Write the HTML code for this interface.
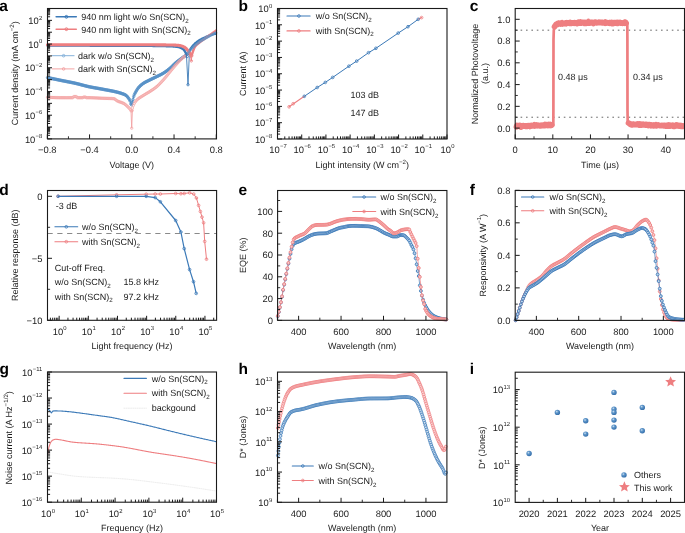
<!DOCTYPE html><html><head><meta charset="utf-8"><style>html,body{margin:0;padding:0;background:#fff;}svg{display:block;will-change:transform;text-rendering:geometricPrecision;font-family:"Liberation Sans",sans-serif;}</style></head><body><svg width="685" height="533" viewBox="0 0 685 533"><rect width="685" height="533" fill="#fff"/><text x="-0.80" y="11.00" font-size="15.5" text-anchor="start" font-weight="bold" fill="#000" >a</text>
<polyline points="47.60,77.62 48.30,77.77 49.00,77.92 49.70,78.06 50.40,78.21 51.10,78.36 51.80,78.50 52.50,78.65 53.20,78.79 53.90,78.94 54.60,79.09 55.30,79.23 56.00,79.37 56.70,79.52 57.40,79.66 58.10,79.81 58.80,79.95 59.50,80.09 60.20,80.24 60.90,80.38 61.60,80.52 62.30,80.66 63.00,80.80 63.70,80.94 64.40,81.07 65.10,81.21 65.80,81.34 66.50,81.48 67.20,81.61 67.90,81.75 68.60,81.88 69.30,82.02 70.00,82.16 70.70,82.30 71.40,82.44 72.10,82.58 72.80,82.73 73.50,82.87 74.20,83.02 74.90,83.18 75.60,83.34 76.30,83.50 77.00,83.67 77.70,83.84 78.40,84.02 79.10,84.20 79.80,84.38 80.50,84.57 81.20,84.75 81.90,84.94 82.60,85.13 83.30,85.31 84.00,85.49 84.70,85.68 85.40,85.85 86.10,86.03 86.80,86.20 87.50,86.37 88.20,86.53 88.90,86.68 89.60,86.83 90.30,86.97 91.00,87.11 91.70,87.25 92.40,87.38 93.10,87.51 93.80,87.64 94.50,87.77 95.20,87.89 95.90,88.02 96.60,88.14 97.30,88.27 98.00,88.39 98.70,88.51 99.40,88.64 100.10,88.76 100.80,88.89 101.50,89.02 102.20,89.15 102.90,89.28 103.60,89.41 104.30,89.55 105.00,89.68 105.70,89.81 106.40,89.94 107.10,90.06 107.80,90.19 108.50,90.32 109.20,90.45 109.90,90.58 110.60,90.72 111.30,90.85 112.00,90.99 112.70,91.13 113.40,91.28 114.10,91.43 114.80,91.58 115.50,91.74 116.20,91.91 116.90,92.08 117.60,92.25 118.30,92.44 119.00,92.64 119.70,92.84 120.40,93.06 121.10,93.29 121.80,93.53 122.50,93.77 123.20,94.01 123.90,94.27 124.60,94.56 125.30,94.91 126.00,95.34 126.70,95.96 127.40,96.76 128.10,97.63 128.80,98.55 129.50,99.64 130.20,101.16 130.90,103.96 131.60,104.80 132.30,102.28 133.00,99.46 133.70,96.48 134.40,94.50 135.10,93.08 135.80,91.85 136.50,90.62 137.20,89.44 137.90,88.43 138.60,87.59 139.30,86.81 140.00,86.09 140.70,85.43 141.40,84.82 142.10,84.26 142.80,83.74 143.50,83.26 144.20,82.82 144.90,82.42 145.60,82.03 146.30,81.67 147.00,81.32 147.70,80.98 148.40,80.64 149.10,80.30 149.80,79.95 150.50,79.60 151.20,79.25 151.90,78.91 152.60,78.58 153.30,78.25 154.00,77.91 154.70,77.58 155.40,77.24 156.10,76.90 156.80,76.55 157.50,76.22 158.20,75.88 158.90,75.54 159.60,75.20 160.30,74.86 161.00,74.50 161.70,74.12 162.40,73.73 163.10,73.32 163.80,72.89 164.50,72.43 165.20,71.96 165.90,71.47 166.60,70.97 167.30,70.45 168.00,69.91 168.70,69.36 169.40,68.80 170.10,68.21 170.80,67.57 171.50,66.91 172.20,66.22 172.90,65.52 173.60,64.83 174.30,64.14 175.00,63.48 175.70,62.86 176.40,62.27 177.10,61.71 177.80,61.16 178.50,60.63 179.20,60.11 179.90,59.59 180.60,59.08 181.30,58.58 182.00,58.07 182.70,57.55 183.40,57.06 184.10,56.57 184.80,56.09 185.50,55.58 186.20,55.04 186.90,54.45 187.60,53.79" fill="none" stroke="#5790c7" stroke-width="1.2" stroke-linejoin="round" stroke-linecap="round" />
<circle cx="47.60" cy="77.62" r="1.25" fill="none" stroke="#5790c7" stroke-width="0.8" />
<circle cx="48.30" cy="77.77" r="1.25" fill="none" stroke="#5790c7" stroke-width="0.8" />
<circle cx="49.00" cy="77.92" r="1.25" fill="none" stroke="#5790c7" stroke-width="0.8" />
<circle cx="49.70" cy="78.06" r="1.25" fill="none" stroke="#5790c7" stroke-width="0.8" />
<circle cx="50.40" cy="78.21" r="1.25" fill="none" stroke="#5790c7" stroke-width="0.8" />
<circle cx="51.10" cy="78.36" r="1.25" fill="none" stroke="#5790c7" stroke-width="0.8" />
<circle cx="51.80" cy="78.50" r="1.25" fill="none" stroke="#5790c7" stroke-width="0.8" />
<circle cx="52.50" cy="78.65" r="1.25" fill="none" stroke="#5790c7" stroke-width="0.8" />
<circle cx="53.20" cy="78.79" r="1.25" fill="none" stroke="#5790c7" stroke-width="0.8" />
<circle cx="53.90" cy="78.94" r="1.25" fill="none" stroke="#5790c7" stroke-width="0.8" />
<circle cx="54.60" cy="79.09" r="1.25" fill="none" stroke="#5790c7" stroke-width="0.8" />
<circle cx="55.30" cy="79.23" r="1.25" fill="none" stroke="#5790c7" stroke-width="0.8" />
<circle cx="56.00" cy="79.37" r="1.25" fill="none" stroke="#5790c7" stroke-width="0.8" />
<circle cx="56.70" cy="79.52" r="1.25" fill="none" stroke="#5790c7" stroke-width="0.8" />
<circle cx="57.40" cy="79.66" r="1.25" fill="none" stroke="#5790c7" stroke-width="0.8" />
<circle cx="58.10" cy="79.81" r="1.25" fill="none" stroke="#5790c7" stroke-width="0.8" />
<circle cx="58.80" cy="79.95" r="1.25" fill="none" stroke="#5790c7" stroke-width="0.8" />
<circle cx="59.50" cy="80.09" r="1.25" fill="none" stroke="#5790c7" stroke-width="0.8" />
<circle cx="60.20" cy="80.24" r="1.25" fill="none" stroke="#5790c7" stroke-width="0.8" />
<circle cx="60.90" cy="80.38" r="1.25" fill="none" stroke="#5790c7" stroke-width="0.8" />
<circle cx="61.60" cy="80.52" r="1.25" fill="none" stroke="#5790c7" stroke-width="0.8" />
<circle cx="62.30" cy="80.66" r="1.25" fill="none" stroke="#5790c7" stroke-width="0.8" />
<circle cx="63.00" cy="80.80" r="1.25" fill="none" stroke="#5790c7" stroke-width="0.8" />
<circle cx="63.70" cy="80.94" r="1.25" fill="none" stroke="#5790c7" stroke-width="0.8" />
<circle cx="64.40" cy="81.07" r="1.25" fill="none" stroke="#5790c7" stroke-width="0.8" />
<circle cx="65.10" cy="81.21" r="1.25" fill="none" stroke="#5790c7" stroke-width="0.8" />
<circle cx="65.80" cy="81.34" r="1.25" fill="none" stroke="#5790c7" stroke-width="0.8" />
<circle cx="66.50" cy="81.48" r="1.25" fill="none" stroke="#5790c7" stroke-width="0.8" />
<circle cx="67.20" cy="81.61" r="1.25" fill="none" stroke="#5790c7" stroke-width="0.8" />
<circle cx="67.90" cy="81.75" r="1.25" fill="none" stroke="#5790c7" stroke-width="0.8" />
<circle cx="68.60" cy="81.88" r="1.25" fill="none" stroke="#5790c7" stroke-width="0.8" />
<circle cx="69.30" cy="82.02" r="1.25" fill="none" stroke="#5790c7" stroke-width="0.8" />
<circle cx="70.00" cy="82.16" r="1.25" fill="none" stroke="#5790c7" stroke-width="0.8" />
<circle cx="70.70" cy="82.30" r="1.25" fill="none" stroke="#5790c7" stroke-width="0.8" />
<circle cx="71.40" cy="82.44" r="1.25" fill="none" stroke="#5790c7" stroke-width="0.8" />
<circle cx="72.10" cy="82.58" r="1.25" fill="none" stroke="#5790c7" stroke-width="0.8" />
<circle cx="72.80" cy="82.73" r="1.25" fill="none" stroke="#5790c7" stroke-width="0.8" />
<circle cx="73.50" cy="82.87" r="1.25" fill="none" stroke="#5790c7" stroke-width="0.8" />
<circle cx="74.20" cy="83.02" r="1.25" fill="none" stroke="#5790c7" stroke-width="0.8" />
<circle cx="74.90" cy="83.18" r="1.25" fill="none" stroke="#5790c7" stroke-width="0.8" />
<circle cx="75.60" cy="83.34" r="1.25" fill="none" stroke="#5790c7" stroke-width="0.8" />
<circle cx="76.30" cy="83.50" r="1.25" fill="none" stroke="#5790c7" stroke-width="0.8" />
<circle cx="77.00" cy="83.67" r="1.25" fill="none" stroke="#5790c7" stroke-width="0.8" />
<circle cx="77.70" cy="83.84" r="1.25" fill="none" stroke="#5790c7" stroke-width="0.8" />
<circle cx="78.40" cy="84.02" r="1.25" fill="none" stroke="#5790c7" stroke-width="0.8" />
<circle cx="79.10" cy="84.20" r="1.25" fill="none" stroke="#5790c7" stroke-width="0.8" />
<circle cx="79.80" cy="84.38" r="1.25" fill="none" stroke="#5790c7" stroke-width="0.8" />
<circle cx="80.50" cy="84.57" r="1.25" fill="none" stroke="#5790c7" stroke-width="0.8" />
<circle cx="81.20" cy="84.75" r="1.25" fill="none" stroke="#5790c7" stroke-width="0.8" />
<circle cx="81.90" cy="84.94" r="1.25" fill="none" stroke="#5790c7" stroke-width="0.8" />
<circle cx="82.60" cy="85.13" r="1.25" fill="none" stroke="#5790c7" stroke-width="0.8" />
<circle cx="83.30" cy="85.31" r="1.25" fill="none" stroke="#5790c7" stroke-width="0.8" />
<circle cx="84.00" cy="85.49" r="1.25" fill="none" stroke="#5790c7" stroke-width="0.8" />
<circle cx="84.70" cy="85.68" r="1.25" fill="none" stroke="#5790c7" stroke-width="0.8" />
<circle cx="85.40" cy="85.85" r="1.25" fill="none" stroke="#5790c7" stroke-width="0.8" />
<circle cx="86.10" cy="86.03" r="1.25" fill="none" stroke="#5790c7" stroke-width="0.8" />
<circle cx="86.80" cy="86.20" r="1.25" fill="none" stroke="#5790c7" stroke-width="0.8" />
<circle cx="87.50" cy="86.37" r="1.25" fill="none" stroke="#5790c7" stroke-width="0.8" />
<circle cx="88.20" cy="86.53" r="1.25" fill="none" stroke="#5790c7" stroke-width="0.8" />
<circle cx="88.90" cy="86.68" r="1.25" fill="none" stroke="#5790c7" stroke-width="0.8" />
<circle cx="89.60" cy="86.83" r="1.25" fill="none" stroke="#5790c7" stroke-width="0.8" />
<circle cx="90.30" cy="86.97" r="1.25" fill="none" stroke="#5790c7" stroke-width="0.8" />
<circle cx="91.00" cy="87.11" r="1.25" fill="none" stroke="#5790c7" stroke-width="0.8" />
<circle cx="91.70" cy="87.25" r="1.25" fill="none" stroke="#5790c7" stroke-width="0.8" />
<circle cx="92.40" cy="87.38" r="1.25" fill="none" stroke="#5790c7" stroke-width="0.8" />
<circle cx="93.10" cy="87.51" r="1.25" fill="none" stroke="#5790c7" stroke-width="0.8" />
<circle cx="93.80" cy="87.64" r="1.25" fill="none" stroke="#5790c7" stroke-width="0.8" />
<circle cx="94.50" cy="87.77" r="1.25" fill="none" stroke="#5790c7" stroke-width="0.8" />
<circle cx="95.20" cy="87.89" r="1.25" fill="none" stroke="#5790c7" stroke-width="0.8" />
<circle cx="95.90" cy="88.02" r="1.25" fill="none" stroke="#5790c7" stroke-width="0.8" />
<circle cx="96.60" cy="88.14" r="1.25" fill="none" stroke="#5790c7" stroke-width="0.8" />
<circle cx="97.30" cy="88.27" r="1.25" fill="none" stroke="#5790c7" stroke-width="0.8" />
<circle cx="98.00" cy="88.39" r="1.25" fill="none" stroke="#5790c7" stroke-width="0.8" />
<circle cx="98.70" cy="88.51" r="1.25" fill="none" stroke="#5790c7" stroke-width="0.8" />
<circle cx="99.40" cy="88.64" r="1.25" fill="none" stroke="#5790c7" stroke-width="0.8" />
<circle cx="100.10" cy="88.76" r="1.25" fill="none" stroke="#5790c7" stroke-width="0.8" />
<circle cx="100.80" cy="88.89" r="1.25" fill="none" stroke="#5790c7" stroke-width="0.8" />
<circle cx="101.50" cy="89.02" r="1.25" fill="none" stroke="#5790c7" stroke-width="0.8" />
<circle cx="102.20" cy="89.15" r="1.25" fill="none" stroke="#5790c7" stroke-width="0.8" />
<circle cx="102.90" cy="89.28" r="1.25" fill="none" stroke="#5790c7" stroke-width="0.8" />
<circle cx="103.60" cy="89.41" r="1.25" fill="none" stroke="#5790c7" stroke-width="0.8" />
<circle cx="104.30" cy="89.55" r="1.25" fill="none" stroke="#5790c7" stroke-width="0.8" />
<circle cx="105.00" cy="89.68" r="1.25" fill="none" stroke="#5790c7" stroke-width="0.8" />
<circle cx="105.70" cy="89.81" r="1.25" fill="none" stroke="#5790c7" stroke-width="0.8" />
<circle cx="106.40" cy="89.94" r="1.25" fill="none" stroke="#5790c7" stroke-width="0.8" />
<circle cx="107.10" cy="90.06" r="1.25" fill="none" stroke="#5790c7" stroke-width="0.8" />
<circle cx="107.80" cy="90.19" r="1.25" fill="none" stroke="#5790c7" stroke-width="0.8" />
<circle cx="108.50" cy="90.32" r="1.25" fill="none" stroke="#5790c7" stroke-width="0.8" />
<circle cx="109.20" cy="90.45" r="1.25" fill="none" stroke="#5790c7" stroke-width="0.8" />
<circle cx="109.90" cy="90.58" r="1.25" fill="none" stroke="#5790c7" stroke-width="0.8" />
<circle cx="110.60" cy="90.72" r="1.25" fill="none" stroke="#5790c7" stroke-width="0.8" />
<circle cx="111.30" cy="90.85" r="1.25" fill="none" stroke="#5790c7" stroke-width="0.8" />
<circle cx="112.00" cy="90.99" r="1.25" fill="none" stroke="#5790c7" stroke-width="0.8" />
<circle cx="112.70" cy="91.13" r="1.25" fill="none" stroke="#5790c7" stroke-width="0.8" />
<circle cx="113.40" cy="91.28" r="1.25" fill="none" stroke="#5790c7" stroke-width="0.8" />
<circle cx="114.10" cy="91.43" r="1.25" fill="none" stroke="#5790c7" stroke-width="0.8" />
<circle cx="114.80" cy="91.58" r="1.25" fill="none" stroke="#5790c7" stroke-width="0.8" />
<circle cx="115.50" cy="91.74" r="1.25" fill="none" stroke="#5790c7" stroke-width="0.8" />
<circle cx="116.20" cy="91.91" r="1.25" fill="none" stroke="#5790c7" stroke-width="0.8" />
<circle cx="116.90" cy="92.08" r="1.25" fill="none" stroke="#5790c7" stroke-width="0.8" />
<circle cx="117.60" cy="92.25" r="1.25" fill="none" stroke="#5790c7" stroke-width="0.8" />
<circle cx="118.30" cy="92.44" r="1.25" fill="none" stroke="#5790c7" stroke-width="0.8" />
<circle cx="119.00" cy="92.64" r="1.25" fill="none" stroke="#5790c7" stroke-width="0.8" />
<circle cx="119.70" cy="92.84" r="1.25" fill="none" stroke="#5790c7" stroke-width="0.8" />
<circle cx="120.40" cy="93.06" r="1.25" fill="none" stroke="#5790c7" stroke-width="0.8" />
<circle cx="121.10" cy="93.29" r="1.25" fill="none" stroke="#5790c7" stroke-width="0.8" />
<circle cx="121.80" cy="93.53" r="1.25" fill="none" stroke="#5790c7" stroke-width="0.8" />
<circle cx="122.50" cy="93.77" r="1.25" fill="none" stroke="#5790c7" stroke-width="0.8" />
<circle cx="123.20" cy="94.01" r="1.25" fill="none" stroke="#5790c7" stroke-width="0.8" />
<circle cx="123.90" cy="94.27" r="1.25" fill="none" stroke="#5790c7" stroke-width="0.8" />
<circle cx="124.60" cy="94.56" r="1.25" fill="none" stroke="#5790c7" stroke-width="0.8" />
<circle cx="125.30" cy="94.91" r="1.25" fill="none" stroke="#5790c7" stroke-width="0.8" />
<circle cx="126.00" cy="95.34" r="1.25" fill="none" stroke="#5790c7" stroke-width="0.8" />
<circle cx="126.70" cy="95.96" r="1.25" fill="none" stroke="#5790c7" stroke-width="0.8" />
<circle cx="127.40" cy="96.76" r="1.25" fill="none" stroke="#5790c7" stroke-width="0.8" />
<circle cx="128.10" cy="97.63" r="1.25" fill="none" stroke="#5790c7" stroke-width="0.8" />
<circle cx="128.80" cy="98.55" r="1.25" fill="none" stroke="#5790c7" stroke-width="0.8" />
<circle cx="129.50" cy="99.64" r="1.25" fill="none" stroke="#5790c7" stroke-width="0.8" />
<circle cx="130.20" cy="101.16" r="1.25" fill="none" stroke="#5790c7" stroke-width="0.8" />
<circle cx="130.90" cy="103.96" r="1.25" fill="none" stroke="#5790c7" stroke-width="0.8" />
<circle cx="131.60" cy="104.80" r="1.25" fill="none" stroke="#5790c7" stroke-width="0.8" />
<circle cx="132.30" cy="102.28" r="1.25" fill="none" stroke="#5790c7" stroke-width="0.8" />
<circle cx="133.00" cy="99.46" r="1.25" fill="none" stroke="#5790c7" stroke-width="0.8" />
<circle cx="133.70" cy="96.48" r="1.25" fill="none" stroke="#5790c7" stroke-width="0.8" />
<circle cx="134.40" cy="94.50" r="1.25" fill="none" stroke="#5790c7" stroke-width="0.8" />
<circle cx="135.10" cy="93.08" r="1.25" fill="none" stroke="#5790c7" stroke-width="0.8" />
<circle cx="135.80" cy="91.85" r="1.25" fill="none" stroke="#5790c7" stroke-width="0.8" />
<circle cx="136.50" cy="90.62" r="1.25" fill="none" stroke="#5790c7" stroke-width="0.8" />
<circle cx="137.20" cy="89.44" r="1.25" fill="none" stroke="#5790c7" stroke-width="0.8" />
<circle cx="137.90" cy="88.43" r="1.25" fill="none" stroke="#5790c7" stroke-width="0.8" />
<circle cx="138.60" cy="87.59" r="1.25" fill="none" stroke="#5790c7" stroke-width="0.8" />
<circle cx="139.30" cy="86.81" r="1.25" fill="none" stroke="#5790c7" stroke-width="0.8" />
<circle cx="140.00" cy="86.09" r="1.25" fill="none" stroke="#5790c7" stroke-width="0.8" />
<circle cx="140.70" cy="85.43" r="1.25" fill="none" stroke="#5790c7" stroke-width="0.8" />
<circle cx="141.40" cy="84.82" r="1.25" fill="none" stroke="#5790c7" stroke-width="0.8" />
<circle cx="142.10" cy="84.26" r="1.25" fill="none" stroke="#5790c7" stroke-width="0.8" />
<circle cx="142.80" cy="83.74" r="1.25" fill="none" stroke="#5790c7" stroke-width="0.8" />
<circle cx="143.50" cy="83.26" r="1.25" fill="none" stroke="#5790c7" stroke-width="0.8" />
<circle cx="144.20" cy="82.82" r="1.25" fill="none" stroke="#5790c7" stroke-width="0.8" />
<circle cx="144.90" cy="82.42" r="1.25" fill="none" stroke="#5790c7" stroke-width="0.8" />
<circle cx="145.60" cy="82.03" r="1.25" fill="none" stroke="#5790c7" stroke-width="0.8" />
<circle cx="146.30" cy="81.67" r="1.25" fill="none" stroke="#5790c7" stroke-width="0.8" />
<circle cx="147.00" cy="81.32" r="1.25" fill="none" stroke="#5790c7" stroke-width="0.8" />
<circle cx="147.70" cy="80.98" r="1.25" fill="none" stroke="#5790c7" stroke-width="0.8" />
<circle cx="148.40" cy="80.64" r="1.25" fill="none" stroke="#5790c7" stroke-width="0.8" />
<circle cx="149.10" cy="80.30" r="1.25" fill="none" stroke="#5790c7" stroke-width="0.8" />
<circle cx="149.80" cy="79.95" r="1.25" fill="none" stroke="#5790c7" stroke-width="0.8" />
<circle cx="150.50" cy="79.60" r="1.25" fill="none" stroke="#5790c7" stroke-width="0.8" />
<circle cx="151.20" cy="79.25" r="1.25" fill="none" stroke="#5790c7" stroke-width="0.8" />
<circle cx="151.90" cy="78.91" r="1.25" fill="none" stroke="#5790c7" stroke-width="0.8" />
<circle cx="152.60" cy="78.58" r="1.25" fill="none" stroke="#5790c7" stroke-width="0.8" />
<circle cx="153.30" cy="78.25" r="1.25" fill="none" stroke="#5790c7" stroke-width="0.8" />
<circle cx="154.00" cy="77.91" r="1.25" fill="none" stroke="#5790c7" stroke-width="0.8" />
<circle cx="154.70" cy="77.58" r="1.25" fill="none" stroke="#5790c7" stroke-width="0.8" />
<circle cx="155.40" cy="77.24" r="1.25" fill="none" stroke="#5790c7" stroke-width="0.8" />
<circle cx="156.10" cy="76.90" r="1.25" fill="none" stroke="#5790c7" stroke-width="0.8" />
<circle cx="156.80" cy="76.55" r="1.25" fill="none" stroke="#5790c7" stroke-width="0.8" />
<circle cx="157.50" cy="76.22" r="1.25" fill="none" stroke="#5790c7" stroke-width="0.8" />
<circle cx="158.20" cy="75.88" r="1.25" fill="none" stroke="#5790c7" stroke-width="0.8" />
<circle cx="158.90" cy="75.54" r="1.25" fill="none" stroke="#5790c7" stroke-width="0.8" />
<circle cx="159.60" cy="75.20" r="1.25" fill="none" stroke="#5790c7" stroke-width="0.8" />
<circle cx="160.30" cy="74.86" r="1.25" fill="none" stroke="#5790c7" stroke-width="0.8" />
<circle cx="161.00" cy="74.50" r="1.25" fill="none" stroke="#5790c7" stroke-width="0.8" />
<circle cx="161.70" cy="74.12" r="1.25" fill="none" stroke="#5790c7" stroke-width="0.8" />
<circle cx="162.40" cy="73.73" r="1.25" fill="none" stroke="#5790c7" stroke-width="0.8" />
<circle cx="163.10" cy="73.32" r="1.25" fill="none" stroke="#5790c7" stroke-width="0.8" />
<circle cx="163.80" cy="72.89" r="1.25" fill="none" stroke="#5790c7" stroke-width="0.8" />
<circle cx="164.50" cy="72.43" r="1.25" fill="none" stroke="#5790c7" stroke-width="0.8" />
<circle cx="165.20" cy="71.96" r="1.25" fill="none" stroke="#5790c7" stroke-width="0.8" />
<circle cx="165.90" cy="71.47" r="1.25" fill="none" stroke="#5790c7" stroke-width="0.8" />
<circle cx="166.60" cy="70.97" r="1.25" fill="none" stroke="#5790c7" stroke-width="0.8" />
<circle cx="167.30" cy="70.45" r="1.25" fill="none" stroke="#5790c7" stroke-width="0.8" />
<circle cx="168.00" cy="69.91" r="1.25" fill="none" stroke="#5790c7" stroke-width="0.8" />
<circle cx="168.70" cy="69.36" r="1.25" fill="none" stroke="#5790c7" stroke-width="0.8" />
<circle cx="169.40" cy="68.80" r="1.25" fill="none" stroke="#5790c7" stroke-width="0.8" />
<circle cx="170.10" cy="68.21" r="1.25" fill="none" stroke="#5790c7" stroke-width="0.8" />
<circle cx="170.80" cy="67.57" r="1.25" fill="none" stroke="#5790c7" stroke-width="0.8" />
<circle cx="171.50" cy="66.91" r="1.25" fill="none" stroke="#5790c7" stroke-width="0.8" />
<circle cx="172.20" cy="66.22" r="1.25" fill="none" stroke="#5790c7" stroke-width="0.8" />
<circle cx="172.90" cy="65.52" r="1.25" fill="none" stroke="#5790c7" stroke-width="0.8" />
<circle cx="173.60" cy="64.83" r="1.25" fill="none" stroke="#5790c7" stroke-width="0.8" />
<circle cx="174.30" cy="64.14" r="1.25" fill="none" stroke="#5790c7" stroke-width="0.8" />
<circle cx="175.00" cy="63.48" r="1.25" fill="none" stroke="#5790c7" stroke-width="0.8" />
<circle cx="175.70" cy="62.86" r="1.25" fill="none" stroke="#5790c7" stroke-width="0.8" />
<circle cx="176.40" cy="62.27" r="1.25" fill="none" stroke="#5790c7" stroke-width="0.8" />
<circle cx="177.10" cy="61.71" r="1.25" fill="none" stroke="#5790c7" stroke-width="0.8" />
<circle cx="177.80" cy="61.16" r="1.25" fill="none" stroke="#5790c7" stroke-width="0.8" />
<circle cx="178.50" cy="60.63" r="1.25" fill="none" stroke="#5790c7" stroke-width="0.8" />
<circle cx="179.20" cy="60.11" r="1.25" fill="none" stroke="#5790c7" stroke-width="0.8" />
<circle cx="179.90" cy="59.59" r="1.25" fill="none" stroke="#5790c7" stroke-width="0.8" />
<circle cx="180.60" cy="59.08" r="1.25" fill="none" stroke="#5790c7" stroke-width="0.8" />
<circle cx="181.30" cy="58.58" r="1.25" fill="none" stroke="#5790c7" stroke-width="0.8" />
<circle cx="182.00" cy="58.07" r="1.25" fill="none" stroke="#5790c7" stroke-width="0.8" />
<circle cx="182.70" cy="57.55" r="1.25" fill="none" stroke="#5790c7" stroke-width="0.8" />
<circle cx="183.40" cy="57.06" r="1.25" fill="none" stroke="#5790c7" stroke-width="0.8" />
<circle cx="184.10" cy="56.57" r="1.25" fill="none" stroke="#5790c7" stroke-width="0.8" />
<circle cx="184.80" cy="56.09" r="1.25" fill="none" stroke="#5790c7" stroke-width="0.8" />
<circle cx="185.50" cy="55.58" r="1.25" fill="none" stroke="#5790c7" stroke-width="0.8" />
<circle cx="186.20" cy="55.04" r="1.25" fill="none" stroke="#5790c7" stroke-width="0.8" />
<circle cx="186.90" cy="54.45" r="1.25" fill="none" stroke="#5790c7" stroke-width="0.8" />
<circle cx="187.60" cy="53.79" r="1.25" fill="none" stroke="#5790c7" stroke-width="0.8" />
<circle cx="47.60" cy="97.30" r="1.2" fill="none" stroke="#f3a3a4" stroke-width="0.7" />
<circle cx="48.50" cy="97.34" r="1.2" fill="none" stroke="#f3a3a4" stroke-width="0.7" />
<circle cx="49.40" cy="97.38" r="1.2" fill="none" stroke="#f3a3a4" stroke-width="0.7" />
<circle cx="50.30" cy="97.42" r="1.2" fill="none" stroke="#f3a3a4" stroke-width="0.7" />
<circle cx="51.20" cy="97.46" r="1.2" fill="none" stroke="#f3a3a4" stroke-width="0.7" />
<circle cx="52.10" cy="97.50" r="1.2" fill="none" stroke="#f3a3a4" stroke-width="0.7" />
<circle cx="53.00" cy="97.53" r="1.2" fill="none" stroke="#f3a3a4" stroke-width="0.7" />
<circle cx="53.90" cy="97.56" r="1.2" fill="none" stroke="#f3a3a4" stroke-width="0.7" />
<circle cx="54.80" cy="97.59" r="1.2" fill="none" stroke="#f3a3a4" stroke-width="0.7" />
<circle cx="55.70" cy="97.62" r="1.2" fill="none" stroke="#f3a3a4" stroke-width="0.7" />
<circle cx="56.60" cy="97.64" r="1.2" fill="none" stroke="#f3a3a4" stroke-width="0.7" />
<circle cx="57.50" cy="97.66" r="1.2" fill="none" stroke="#f3a3a4" stroke-width="0.7" />
<circle cx="58.40" cy="97.68" r="1.2" fill="none" stroke="#f3a3a4" stroke-width="0.7" />
<circle cx="59.30" cy="97.69" r="1.2" fill="none" stroke="#f3a3a4" stroke-width="0.7" />
<circle cx="60.20" cy="97.70" r="1.2" fill="none" stroke="#f3a3a4" stroke-width="0.7" />
<circle cx="61.10" cy="97.70" r="1.2" fill="none" stroke="#f3a3a4" stroke-width="0.7" />
<circle cx="62.00" cy="97.70" r="1.2" fill="none" stroke="#f3a3a4" stroke-width="0.7" />
<circle cx="62.90" cy="97.70" r="1.2" fill="none" stroke="#f3a3a4" stroke-width="0.7" />
<circle cx="63.80" cy="97.70" r="1.2" fill="none" stroke="#f3a3a4" stroke-width="0.7" />
<circle cx="64.70" cy="97.70" r="1.2" fill="none" stroke="#f3a3a4" stroke-width="0.7" />
<circle cx="65.60" cy="97.70" r="1.2" fill="none" stroke="#f3a3a4" stroke-width="0.7" />
<circle cx="66.50" cy="97.70" r="1.2" fill="none" stroke="#f3a3a4" stroke-width="0.7" />
<circle cx="67.40" cy="97.70" r="1.2" fill="none" stroke="#f3a3a4" stroke-width="0.7" />
<circle cx="68.30" cy="97.70" r="1.2" fill="none" stroke="#f3a3a4" stroke-width="0.7" />
<circle cx="69.20" cy="97.70" r="1.2" fill="none" stroke="#f3a3a4" stroke-width="0.7" />
<circle cx="70.10" cy="97.70" r="1.2" fill="none" stroke="#f3a3a4" stroke-width="0.7" />
<circle cx="71.00" cy="97.70" r="1.2" fill="none" stroke="#f3a3a4" stroke-width="0.7" />
<circle cx="71.90" cy="97.70" r="1.2" fill="none" stroke="#f3a3a4" stroke-width="0.7" />
<circle cx="72.80" cy="97.70" r="1.2" fill="none" stroke="#f3a3a4" stroke-width="0.7" />
<circle cx="73.70" cy="96.60" r="1.2" fill="none" stroke="#f3a3a4" stroke-width="0.7" />
<circle cx="74.60" cy="96.60" r="1.2" fill="none" stroke="#f3a3a4" stroke-width="0.7" />
<circle cx="75.50" cy="96.60" r="1.2" fill="none" stroke="#f3a3a4" stroke-width="0.7" />
<circle cx="76.40" cy="96.60" r="1.2" fill="none" stroke="#f3a3a4" stroke-width="0.7" />
<circle cx="77.30" cy="97.70" r="1.2" fill="none" stroke="#f3a3a4" stroke-width="0.7" />
<circle cx="78.20" cy="97.70" r="1.2" fill="none" stroke="#f3a3a4" stroke-width="0.7" />
<circle cx="79.10" cy="97.70" r="1.2" fill="none" stroke="#f3a3a4" stroke-width="0.7" />
<circle cx="80.00" cy="97.70" r="1.2" fill="none" stroke="#f3a3a4" stroke-width="0.7" />
<circle cx="80.90" cy="97.70" r="1.2" fill="none" stroke="#f3a3a4" stroke-width="0.7" />
<circle cx="81.80" cy="97.70" r="1.2" fill="none" stroke="#f3a3a4" stroke-width="0.7" />
<circle cx="82.70" cy="97.70" r="1.2" fill="none" stroke="#f3a3a4" stroke-width="0.7" />
<circle cx="83.60" cy="97.10" r="1.2" fill="none" stroke="#f3a3a4" stroke-width="0.7" />
<circle cx="84.50" cy="97.10" r="1.2" fill="none" stroke="#f3a3a4" stroke-width="0.7" />
<circle cx="85.40" cy="97.10" r="1.2" fill="none" stroke="#f3a3a4" stroke-width="0.7" />
<circle cx="86.30" cy="97.70" r="1.2" fill="none" stroke="#f3a3a4" stroke-width="0.7" />
<circle cx="87.20" cy="97.70" r="1.2" fill="none" stroke="#f3a3a4" stroke-width="0.7" />
<circle cx="88.10" cy="97.70" r="1.2" fill="none" stroke="#f3a3a4" stroke-width="0.7" />
<circle cx="89.00" cy="97.70" r="1.2" fill="none" stroke="#f3a3a4" stroke-width="0.7" />
<circle cx="89.90" cy="97.70" r="1.2" fill="none" stroke="#f3a3a4" stroke-width="0.7" />
<circle cx="90.80" cy="97.72" r="1.2" fill="none" stroke="#f3a3a4" stroke-width="0.7" />
<circle cx="91.70" cy="97.74" r="1.2" fill="none" stroke="#f3a3a4" stroke-width="0.7" />
<circle cx="92.60" cy="97.77" r="1.2" fill="none" stroke="#f3a3a4" stroke-width="0.7" />
<circle cx="93.50" cy="97.81" r="1.2" fill="none" stroke="#f3a3a4" stroke-width="0.7" />
<circle cx="94.40" cy="97.85" r="1.2" fill="none" stroke="#f3a3a4" stroke-width="0.7" />
<circle cx="95.30" cy="97.89" r="1.2" fill="none" stroke="#f3a3a4" stroke-width="0.7" />
<circle cx="96.20" cy="97.94" r="1.2" fill="none" stroke="#f3a3a4" stroke-width="0.7" />
<circle cx="97.10" cy="97.99" r="1.2" fill="none" stroke="#f3a3a4" stroke-width="0.7" />
<circle cx="98.00" cy="98.04" r="1.2" fill="none" stroke="#f3a3a4" stroke-width="0.7" />
<circle cx="98.90" cy="98.10" r="1.2" fill="none" stroke="#f3a3a4" stroke-width="0.7" />
<circle cx="99.80" cy="98.15" r="1.2" fill="none" stroke="#f3a3a4" stroke-width="0.7" />
<circle cx="100.70" cy="98.19" r="1.2" fill="none" stroke="#f3a3a4" stroke-width="0.7" />
<circle cx="101.60" cy="98.24" r="1.2" fill="none" stroke="#f3a3a4" stroke-width="0.7" />
<circle cx="102.50" cy="98.28" r="1.2" fill="none" stroke="#f3a3a4" stroke-width="0.7" />
<circle cx="103.40" cy="98.31" r="1.2" fill="none" stroke="#f3a3a4" stroke-width="0.7" />
<circle cx="104.30" cy="98.34" r="1.2" fill="none" stroke="#f3a3a4" stroke-width="0.7" />
<circle cx="105.20" cy="98.37" r="1.2" fill="none" stroke="#f3a3a4" stroke-width="0.7" />
<circle cx="106.10" cy="98.39" r="1.2" fill="none" stroke="#f3a3a4" stroke-width="0.7" />
<circle cx="107.00" cy="98.41" r="1.2" fill="none" stroke="#f3a3a4" stroke-width="0.7" />
<circle cx="107.90" cy="98.43" r="1.2" fill="none" stroke="#f3a3a4" stroke-width="0.7" />
<circle cx="108.80" cy="98.45" r="1.2" fill="none" stroke="#f3a3a4" stroke-width="0.7" />
<circle cx="109.70" cy="98.47" r="1.2" fill="none" stroke="#f3a3a4" stroke-width="0.7" />
<circle cx="110.60" cy="98.50" r="1.2" fill="none" stroke="#f3a3a4" stroke-width="0.7" />
<circle cx="111.50" cy="98.54" r="1.2" fill="none" stroke="#f3a3a4" stroke-width="0.7" />
<circle cx="112.40" cy="98.59" r="1.2" fill="none" stroke="#f3a3a4" stroke-width="0.7" />
<circle cx="113.30" cy="98.65" r="1.2" fill="none" stroke="#f3a3a4" stroke-width="0.7" />
<circle cx="114.20" cy="98.73" r="1.2" fill="none" stroke="#f3a3a4" stroke-width="0.7" />
<circle cx="115.10" cy="99.24" r="1.2" fill="none" stroke="#f3a3a4" stroke-width="0.7" />
<circle cx="116.00" cy="100.04" r="1.2" fill="none" stroke="#f3a3a4" stroke-width="0.7" />
<circle cx="116.90" cy="100.74" r="1.2" fill="none" stroke="#f3a3a4" stroke-width="0.7" />
<circle cx="117.80" cy="101.19" r="1.2" fill="none" stroke="#f3a3a4" stroke-width="0.7" />
<circle cx="118.70" cy="101.55" r="1.2" fill="none" stroke="#f3a3a4" stroke-width="0.7" />
<circle cx="119.60" cy="101.87" r="1.2" fill="none" stroke="#f3a3a4" stroke-width="0.7" />
<circle cx="120.50" cy="102.17" r="1.2" fill="none" stroke="#f3a3a4" stroke-width="0.7" />
<circle cx="121.40" cy="102.47" r="1.2" fill="none" stroke="#f3a3a4" stroke-width="0.7" />
<circle cx="122.30" cy="102.80" r="1.2" fill="none" stroke="#f3a3a4" stroke-width="0.7" />
<circle cx="123.20" cy="103.19" r="1.2" fill="none" stroke="#f3a3a4" stroke-width="0.7" />
<circle cx="124.10" cy="103.66" r="1.2" fill="none" stroke="#f3a3a4" stroke-width="0.7" />
<circle cx="125.00" cy="104.27" r="1.2" fill="none" stroke="#f3a3a4" stroke-width="0.7" />
<circle cx="125.90" cy="105.03" r="1.2" fill="none" stroke="#f3a3a4" stroke-width="0.7" />
<circle cx="126.80" cy="105.85" r="1.2" fill="none" stroke="#f3a3a4" stroke-width="0.7" />
<circle cx="127.70" cy="106.68" r="1.2" fill="none" stroke="#f3a3a4" stroke-width="0.7" />
<circle cx="128.60" cy="107.53" r="1.2" fill="none" stroke="#f3a3a4" stroke-width="0.7" />
<circle cx="129.50" cy="108.50" r="1.2" fill="none" stroke="#f3a3a4" stroke-width="0.7" />
<circle cx="130.40" cy="109.69" r="1.2" fill="none" stroke="#f3a3a4" stroke-width="0.7" />
<polyline points="131.00,110.60 131.70,128.20 132.40,110.00" fill="none" stroke="#f3a3a4" stroke-width="0.9" stroke-linejoin="round" stroke-linecap="round" />
<circle cx="131.70" cy="128.20" r="1.2" fill="none" stroke="#f3a3a4" stroke-width="0.7" />
<circle cx="131.20" cy="111.00" r="1.2" fill="none" stroke="#f3a3a4" stroke-width="0.7" />
<circle cx="132.30" cy="110.50" r="1.2" fill="none" stroke="#f3a3a4" stroke-width="0.7" />
<circle cx="132.40" cy="108.00" r="1.2" fill="none" stroke="#f3a3a4" stroke-width="0.7" />
<circle cx="133.30" cy="105.55" r="1.2" fill="none" stroke="#f3a3a4" stroke-width="0.7" />
<circle cx="134.20" cy="103.63" r="1.2" fill="none" stroke="#f3a3a4" stroke-width="0.7" />
<circle cx="135.10" cy="102.11" r="1.2" fill="none" stroke="#f3a3a4" stroke-width="0.7" />
<circle cx="136.00" cy="100.87" r="1.2" fill="none" stroke="#f3a3a4" stroke-width="0.7" />
<circle cx="136.90" cy="99.91" r="1.2" fill="none" stroke="#f3a3a4" stroke-width="0.7" />
<circle cx="137.80" cy="99.10" r="1.2" fill="none" stroke="#f3a3a4" stroke-width="0.7" />
<circle cx="138.70" cy="98.40" r="1.2" fill="none" stroke="#f3a3a4" stroke-width="0.7" />
<circle cx="139.60" cy="97.78" r="1.2" fill="none" stroke="#f3a3a4" stroke-width="0.7" />
<circle cx="140.50" cy="97.20" r="1.2" fill="none" stroke="#f3a3a4" stroke-width="0.7" />
<circle cx="141.40" cy="96.66" r="1.2" fill="none" stroke="#f3a3a4" stroke-width="0.7" />
<circle cx="142.30" cy="96.11" r="1.2" fill="none" stroke="#f3a3a4" stroke-width="0.7" />
<circle cx="143.20" cy="95.53" r="1.2" fill="none" stroke="#f3a3a4" stroke-width="0.7" />
<circle cx="144.10" cy="94.97" r="1.2" fill="none" stroke="#f3a3a4" stroke-width="0.7" />
<circle cx="145.00" cy="94.42" r="1.2" fill="none" stroke="#f3a3a4" stroke-width="0.7" />
<circle cx="145.90" cy="93.89" r="1.2" fill="none" stroke="#f3a3a4" stroke-width="0.7" />
<circle cx="146.80" cy="93.36" r="1.2" fill="none" stroke="#f3a3a4" stroke-width="0.7" />
<circle cx="147.70" cy="92.83" r="1.2" fill="none" stroke="#f3a3a4" stroke-width="0.7" />
<circle cx="148.60" cy="92.29" r="1.2" fill="none" stroke="#f3a3a4" stroke-width="0.7" />
<circle cx="149.50" cy="91.73" r="1.2" fill="none" stroke="#f3a3a4" stroke-width="0.7" />
<circle cx="150.40" cy="91.15" r="1.2" fill="none" stroke="#f3a3a4" stroke-width="0.7" />
<circle cx="151.30" cy="90.57" r="1.2" fill="none" stroke="#f3a3a4" stroke-width="0.7" />
<circle cx="152.20" cy="89.98" r="1.2" fill="none" stroke="#f3a3a4" stroke-width="0.7" />
<circle cx="153.10" cy="89.38" r="1.2" fill="none" stroke="#f3a3a4" stroke-width="0.7" />
<circle cx="154.00" cy="88.75" r="1.2" fill="none" stroke="#f3a3a4" stroke-width="0.7" />
<circle cx="154.90" cy="88.10" r="1.2" fill="none" stroke="#f3a3a4" stroke-width="0.7" />
<circle cx="155.80" cy="87.40" r="1.2" fill="none" stroke="#f3a3a4" stroke-width="0.7" />
<circle cx="156.70" cy="86.66" r="1.2" fill="none" stroke="#f3a3a4" stroke-width="0.7" />
<circle cx="157.60" cy="85.87" r="1.2" fill="none" stroke="#f3a3a4" stroke-width="0.7" />
<circle cx="158.50" cy="85.02" r="1.2" fill="none" stroke="#f3a3a4" stroke-width="0.7" />
<circle cx="159.40" cy="84.12" r="1.2" fill="none" stroke="#f3a3a4" stroke-width="0.7" />
<circle cx="160.30" cy="83.19" r="1.2" fill="none" stroke="#f3a3a4" stroke-width="0.7" />
<circle cx="161.20" cy="82.23" r="1.2" fill="none" stroke="#f3a3a4" stroke-width="0.7" />
<circle cx="162.10" cy="81.26" r="1.2" fill="none" stroke="#f3a3a4" stroke-width="0.7" />
<circle cx="163.00" cy="80.28" r="1.2" fill="none" stroke="#f3a3a4" stroke-width="0.7" />
<circle cx="163.90" cy="79.27" r="1.2" fill="none" stroke="#f3a3a4" stroke-width="0.7" />
<circle cx="164.80" cy="78.21" r="1.2" fill="none" stroke="#f3a3a4" stroke-width="0.7" />
<circle cx="165.70" cy="77.13" r="1.2" fill="none" stroke="#f3a3a4" stroke-width="0.7" />
<circle cx="166.60" cy="76.03" r="1.2" fill="none" stroke="#f3a3a4" stroke-width="0.7" />
<circle cx="167.50" cy="74.92" r="1.2" fill="none" stroke="#f3a3a4" stroke-width="0.7" />
<circle cx="168.40" cy="73.81" r="1.2" fill="none" stroke="#f3a3a4" stroke-width="0.7" />
<circle cx="169.30" cy="72.72" r="1.2" fill="none" stroke="#f3a3a4" stroke-width="0.7" />
<circle cx="170.20" cy="71.63" r="1.2" fill="none" stroke="#f3a3a4" stroke-width="0.7" />
<circle cx="171.10" cy="70.53" r="1.2" fill="none" stroke="#f3a3a4" stroke-width="0.7" />
<circle cx="172.00" cy="69.43" r="1.2" fill="none" stroke="#f3a3a4" stroke-width="0.7" />
<circle cx="172.90" cy="68.32" r="1.2" fill="none" stroke="#f3a3a4" stroke-width="0.7" />
<circle cx="173.80" cy="67.24" r="1.2" fill="none" stroke="#f3a3a4" stroke-width="0.7" />
<circle cx="174.70" cy="66.17" r="1.2" fill="none" stroke="#f3a3a4" stroke-width="0.7" />
<circle cx="175.60" cy="65.14" r="1.2" fill="none" stroke="#f3a3a4" stroke-width="0.7" />
<circle cx="176.50" cy="64.15" r="1.2" fill="none" stroke="#f3a3a4" stroke-width="0.7" />
<circle cx="177.40" cy="63.18" r="1.2" fill="none" stroke="#f3a3a4" stroke-width="0.7" />
<circle cx="178.30" cy="62.23" r="1.2" fill="none" stroke="#f3a3a4" stroke-width="0.7" />
<circle cx="179.20" cy="61.29" r="1.2" fill="none" stroke="#f3a3a4" stroke-width="0.7" />
<circle cx="180.10" cy="60.38" r="1.2" fill="none" stroke="#f3a3a4" stroke-width="0.7" />
<circle cx="181.00" cy="59.50" r="1.2" fill="none" stroke="#f3a3a4" stroke-width="0.7" />
<circle cx="181.90" cy="58.65" r="1.2" fill="none" stroke="#f3a3a4" stroke-width="0.7" />
<circle cx="182.80" cy="57.83" r="1.2" fill="none" stroke="#f3a3a4" stroke-width="0.7" />
<circle cx="183.70" cy="57.08" r="1.2" fill="none" stroke="#f3a3a4" stroke-width="0.7" />
<circle cx="184.60" cy="56.36" r="1.2" fill="none" stroke="#f3a3a4" stroke-width="0.7" />
<circle cx="185.50" cy="55.64" r="1.2" fill="none" stroke="#f3a3a4" stroke-width="0.7" />
<circle cx="186.40" cy="54.89" r="1.2" fill="none" stroke="#f3a3a4" stroke-width="0.7" />
<circle cx="187.30" cy="54.07" r="1.2" fill="none" stroke="#f3a3a4" stroke-width="0.7" />
<polyline points="47.50,45.60 48.20,45.60 48.90,45.60 49.59,45.60 50.29,45.60 50.99,45.60 51.69,45.60 52.39,45.60 53.08,45.61 53.78,45.61 54.48,45.61 55.18,45.61 55.88,45.61 56.57,45.61 57.27,45.61 57.97,45.61 58.67,45.61 59.37,45.61 60.06,45.61 60.76,45.62 61.46,45.62 62.16,45.62 62.86,45.62 63.55,45.62 64.25,45.62 64.95,45.62 65.65,45.62 66.35,45.62 67.04,45.63 67.74,45.63 68.44,45.63 69.14,45.63 69.84,45.63 70.53,45.63 71.23,45.63 71.93,45.63 72.63,45.64 73.33,45.64 74.02,45.64 74.72,45.64 75.42,45.64 76.12,45.64 76.82,45.64 77.51,45.65 78.21,45.65 78.91,45.65 79.61,45.65 80.31,45.65 81.00,45.65 81.70,45.66 82.40,45.66 83.10,45.66 83.80,45.66 84.49,45.66 85.19,45.66 85.89,45.66 86.59,45.67 87.29,45.67 87.98,45.67 88.68,45.67 89.38,45.67 90.08,45.68 90.78,45.68 91.47,45.68 92.17,45.68 92.87,45.68 93.57,45.68 94.27,45.69 94.96,45.69 95.66,45.69 96.36,45.69 97.06,45.69 97.76,45.69 98.45,45.70 99.15,45.70 99.85,45.70 100.55,45.70 101.25,45.70 101.94,45.70 102.64,45.71 103.34,45.71 104.04,45.71 104.74,45.71 105.43,45.71 106.13,45.72 106.83,45.72 107.53,45.72 108.23,45.72 108.92,45.72 109.62,45.72 110.32,45.73 111.02,45.73 111.72,45.73 112.41,45.73 113.11,45.73 113.81,45.74 114.51,45.74 115.21,45.74 115.90,45.74 116.60,45.74 117.30,45.75 118.00,45.75 118.69,45.75 119.39,45.75 120.09,45.75 120.79,45.76 121.49,45.76 122.18,45.76 122.88,45.76 123.58,45.77 124.28,45.77 124.98,45.77 125.67,45.77 126.37,45.78 127.07,45.78 127.77,45.78 128.47,45.78 129.16,45.79 129.86,45.79 130.56,45.79 131.26,45.79 131.96,45.80 132.65,45.80 133.35,45.80 134.05,45.81 134.75,45.81 135.45,45.81 136.14,45.82 136.84,45.82 137.54,45.82 138.24,45.83 138.94,45.83 139.63,45.83 140.33,45.84 141.03,45.84 141.73,45.85 142.43,45.85 143.12,45.85 143.82,45.86 144.52,45.86 145.22,45.87 145.92,45.87 146.61,45.88 147.31,45.88 148.01,45.89 148.71,45.89 149.41,45.90 150.10,45.90 150.80,45.91 151.50,45.91 152.20,45.92 152.90,45.93 153.59,45.93 154.29,45.94 154.99,45.95 155.69,45.96 156.39,45.97 157.08,45.98 157.78,45.99 158.48,46.00 159.18,46.01 159.88,46.03 160.57,46.04 161.27,46.05 161.97,46.07 162.67,46.09 163.37,46.10 164.06,46.12 164.76,46.14 165.46,46.16 166.16,46.18 166.86,46.20 167.55,46.22 168.25,46.24 168.95,46.26 169.65,46.29 170.35,46.31 171.04,46.34 171.74,46.38 172.44,46.42 173.14,46.47 173.84,46.52 174.53,46.58 175.23,46.65 175.93,46.72 176.63,46.81 177.33,46.90 178.02,47.00 178.72,47.14 179.42,47.33 180.12,47.57 180.82,47.86 181.51,48.20 182.21,48.60 182.91,49.05 183.61,49.57 184.31,50.39 185.00,51.50 185.70,52.81 186.40,54.20" fill="none" stroke="#3b79b7" stroke-width="2.4" stroke-linejoin="round" stroke-linecap="round" />
<polyline points="186.40,54.20 188.00,84.70 189.50,50.60" fill="none" stroke="#3b79b7" stroke-width="0.9" stroke-linejoin="round" stroke-linecap="round" />
<circle cx="188.00" cy="84.70" r="1.2" fill="none" stroke="#3b79b7" stroke-width="0.8" />
<circle cx="187.20" cy="56.50" r="1.2" fill="none" stroke="#3b79b7" stroke-width="0.8" />
<circle cx="189.00" cy="53.50" r="1.2" fill="none" stroke="#3b79b7" stroke-width="0.8" />
<polyline points="189.50,50.60 189.77,50.16 190.04,49.73 190.30,49.31 190.57,48.90 190.84,48.50 191.11,48.11 191.37,47.73 191.64,47.37 191.91,47.02 192.18,46.68 192.44,46.35 192.71,46.02 192.98,45.70 193.25,45.40 193.52,45.10 193.78,44.80 194.05,44.52 194.32,44.25 194.59,43.99 194.85,43.73 195.12,43.49 195.39,43.26 195.66,43.02 195.92,42.80 196.19,42.58 196.46,42.36 196.73,42.15 196.99,41.94 197.26,41.74 197.53,41.54 197.80,41.34 198.07,41.15 198.33,40.97 198.60,40.79 198.87,40.61 199.14,40.43 199.40,40.26 199.67,40.10 199.94,39.94 200.21,39.78 200.47,39.62 200.74,39.47 201.01,39.33 201.28,39.18 201.55,39.05 201.81,38.91 202.08,38.77 202.35,38.64 202.62,38.51 202.88,38.39 203.15,38.26 203.42,38.13 203.69,38.01 203.95,37.89 204.22,37.76 204.49,37.64 204.76,37.51 205.03,37.39 205.29,37.26 205.56,37.14 205.83,37.01 206.10,36.88 206.36,36.75 206.63,36.62 206.90,36.50 207.17,36.37 207.43,36.25 207.70,36.12 207.97,36.00 208.24,35.89 208.51,35.77 208.77,35.66 209.04,35.55 209.31,35.45 209.58,35.35 209.84,35.25 210.11,35.16 210.38,35.07 210.65,34.99 210.91,34.90 211.18,34.82 211.45,34.73 211.72,34.65 211.98,34.57 212.25,34.49 212.52,34.41 212.79,34.34 213.06,34.26 213.32,34.19 213.59,34.12 213.86,34.05 214.13,33.99 214.39,33.93 214.66,33.86 214.93,33.81 215.20,33.75 215.46,33.70 215.73,33.65 216.00,33.60" fill="none" stroke="#3b79b7" stroke-width="2.4" stroke-linejoin="round" stroke-linecap="round" />
<polyline points="47.50,44.70 48.22,44.70 48.93,44.70 49.65,44.70 50.37,44.70 51.08,44.70 51.80,44.70 52.52,44.70 53.23,44.70 53.95,44.70 54.67,44.70 55.38,44.70 56.10,44.70 56.82,44.70 57.53,44.70 58.25,44.70 58.97,44.70 59.68,44.70 60.40,44.70 61.12,44.70 61.83,44.70 62.55,44.70 63.26,44.70 63.98,44.70 64.70,44.70 65.41,44.70 66.13,44.70 66.85,44.70 67.56,44.70 68.28,44.70 69.00,44.70 69.71,44.70 70.43,44.70 71.15,44.70 71.86,44.70 72.58,44.70 73.30,44.70 74.01,44.70 74.73,44.70 75.45,44.70 76.16,44.70 76.88,44.70 77.60,44.70 78.31,44.70 79.03,44.70 79.75,44.70 80.46,44.70 81.18,44.70 81.90,44.70 82.61,44.70 83.33,44.70 84.05,44.70 84.76,44.70 85.48,44.70 86.20,44.70 86.91,44.70 87.63,44.70 88.35,44.70 89.06,44.70 89.78,44.70 90.49,44.70 91.21,44.70 91.93,44.70 92.64,44.70 93.36,44.70 94.08,44.70 94.79,44.70 95.51,44.70 96.23,44.70 96.94,44.70 97.66,44.70 98.38,44.70 99.09,44.70 99.81,44.70 100.53,44.70 101.24,44.70 101.96,44.70 102.68,44.70 103.39,44.70 104.11,44.70 104.83,44.70 105.54,44.70 106.26,44.70 106.98,44.70 107.69,44.70 108.41,44.70 109.13,44.70 109.84,44.70 110.56,44.70 111.28,44.71 111.99,44.71 112.71,44.71 113.43,44.71 114.14,44.71 114.86,44.71 115.58,44.71 116.29,44.71 117.01,44.71 117.73,44.71 118.44,44.71 119.16,44.72 119.87,44.72 120.59,44.72 121.31,44.72 122.02,44.72 122.74,44.72 123.46,44.72 124.17,44.73 124.89,44.73 125.61,44.73 126.32,44.73 127.04,44.73 127.76,44.73 128.47,44.73 129.19,44.74 129.91,44.74 130.62,44.74 131.34,44.74 132.06,44.74 132.77,44.75 133.49,44.75 134.21,44.75 134.92,44.75 135.64,44.75 136.36,44.75 137.07,44.76 137.79,44.76 138.51,44.76 139.22,44.76 139.94,44.77 140.66,44.77 141.37,44.77 142.09,44.77 142.81,44.77 143.52,44.78 144.24,44.78 144.96,44.78 145.67,44.78 146.39,44.79 147.11,44.79 147.82,44.79 148.54,44.79 149.25,44.80 149.97,44.80 150.69,44.80 151.40,44.81 152.12,44.81 152.84,44.81 153.55,44.81 154.27,44.82 154.99,44.82 155.70,44.83 156.42,44.83 157.14,44.83 157.85,44.84 158.57,44.84 159.29,44.85 160.00,44.86 160.72,44.86 161.44,44.87 162.15,44.88 162.87,44.88 163.59,44.89 164.30,44.90 165.02,44.91 165.74,44.92 166.45,44.93 167.17,44.94 167.89,44.95 168.60,44.96 169.32,44.98 170.04,44.99 170.75,45.00 171.47,45.02 172.19,45.03 172.90,45.05 173.62,45.07 174.34,45.08 175.05,45.10 175.77,45.13 176.48,45.18 177.20,45.24 177.92,45.32 178.63,45.41 179.35,45.51 180.07,45.63 180.78,45.76 181.50,45.91 182.22,46.14 182.93,46.43 183.65,46.78 184.37,47.17 185.08,47.62 185.80,48.22 186.52,48.93 187.23,49.73 187.95,50.58 188.67,51.47 189.38,52.49 190.10,53.60" fill="none" stroke="#ee7e80" stroke-width="3.1" stroke-linejoin="round" stroke-linecap="round" />
<polyline points="190.10,53.60 191.30,60.90 192.00,54.50" fill="none" stroke="#ee7e80" stroke-width="0.9" stroke-linejoin="round" stroke-linecap="round" />
<circle cx="191.30" cy="60.90" r="1.2" fill="none" stroke="#ee7e80" stroke-width="0.8" />
<circle cx="190.80" cy="56.00" r="1.2" fill="none" stroke="#ee7e80" stroke-width="0.8" />
<circle cx="191.80" cy="55.80" r="1.2" fill="none" stroke="#ee7e80" stroke-width="0.8" />
<polyline points="192.00,54.50 192.24,53.68 192.48,52.90 192.73,52.14 192.97,51.43 193.21,50.75 193.45,50.11 193.70,49.51 193.94,48.92 194.18,48.35 194.42,47.82 194.67,47.34 194.91,46.93 195.15,46.59 195.39,46.28 195.64,45.98 195.88,45.70 196.12,45.44 196.36,45.18 196.61,44.94 196.85,44.72 197.09,44.50 197.33,44.29 197.58,44.08 197.82,43.89 198.06,43.70 198.30,43.51 198.55,43.33 198.79,43.14 199.03,42.96 199.27,42.77 199.52,42.59 199.76,42.40 200.00,42.20 200.24,42.00 200.48,41.81 200.73,41.62 200.97,41.43 201.21,41.24 201.45,41.06 201.70,40.88 201.94,40.70 202.18,40.52 202.42,40.35 202.67,40.17 202.91,40.00 203.15,39.83 203.39,39.65 203.64,39.48 203.88,39.31 204.12,39.13 204.36,38.96 204.61,38.79 204.85,38.61 205.09,38.43 205.33,38.26 205.58,38.08 205.82,37.91 206.06,37.73 206.30,37.55 206.55,37.38 206.79,37.20 207.03,37.03 207.27,36.86 207.52,36.68 207.76,36.51 208.00,36.33 208.24,36.16 208.48,35.99 208.73,35.81 208.97,35.64 209.21,35.47 209.45,35.29 209.70,35.12 209.94,34.94 210.18,34.77 210.42,34.60 210.67,34.42 210.91,34.25 211.15,34.07 211.39,33.90 211.64,33.73 211.88,33.55 212.12,33.38 212.36,33.20 212.61,33.03 212.85,32.86 213.09,32.68 213.33,32.51 213.58,32.33 213.82,32.16 214.06,31.99 214.30,31.81 214.55,31.64 214.79,31.47 215.03,31.29 215.27,31.12 215.52,30.95 215.76,30.77 216.00,30.60" fill="none" stroke="#ee7e80" stroke-width="2.4" stroke-linejoin="round" stroke-linecap="round" />
<circle cx="188.00" cy="53.20" r="1.0" fill="none" stroke="#5b93c8" stroke-width="0.6" />
<circle cx="188.90" cy="51.92" r="1.0" fill="none" stroke="#5b93c8" stroke-width="0.6" />
<circle cx="189.80" cy="50.74" r="1.0" fill="none" stroke="#5b93c8" stroke-width="0.6" />
<circle cx="190.70" cy="49.70" r="1.0" fill="none" stroke="#5b93c8" stroke-width="0.6" />
<circle cx="191.60" cy="48.73" r="1.0" fill="none" stroke="#5b93c8" stroke-width="0.6" />
<circle cx="192.50" cy="47.82" r="1.0" fill="none" stroke="#5b93c8" stroke-width="0.6" />
<circle cx="193.40" cy="46.96" r="1.0" fill="none" stroke="#5b93c8" stroke-width="0.6" />
<circle cx="194.30" cy="46.13" r="1.0" fill="none" stroke="#5b93c8" stroke-width="0.6" />
<circle cx="195.20" cy="45.32" r="1.0" fill="none" stroke="#5b93c8" stroke-width="0.6" />
<circle cx="196.10" cy="44.54" r="1.0" fill="none" stroke="#5b93c8" stroke-width="0.6" />
<circle cx="197.00" cy="43.77" r="1.0" fill="none" stroke="#5b93c8" stroke-width="0.6" />
<circle cx="197.90" cy="43.04" r="1.0" fill="none" stroke="#5b93c8" stroke-width="0.6" />
<circle cx="198.80" cy="42.35" r="1.0" fill="none" stroke="#5b93c8" stroke-width="0.6" />
<circle cx="199.70" cy="41.70" r="1.0" fill="none" stroke="#5b93c8" stroke-width="0.6" />
<circle cx="200.60" cy="41.11" r="1.0" fill="none" stroke="#5b93c8" stroke-width="0.6" />
<circle cx="201.50" cy="40.56" r="1.0" fill="none" stroke="#5b93c8" stroke-width="0.6" />
<circle cx="202.40" cy="40.04" r="1.0" fill="none" stroke="#5b93c8" stroke-width="0.6" />
<circle cx="203.30" cy="39.54" r="1.0" fill="none" stroke="#5b93c8" stroke-width="0.6" />
<circle cx="204.20" cy="39.05" r="1.0" fill="none" stroke="#5b93c8" stroke-width="0.6" />
<circle cx="205.10" cy="38.54" r="1.0" fill="none" stroke="#5b93c8" stroke-width="0.6" />
<circle cx="206.00" cy="38.03" r="1.0" fill="none" stroke="#5b93c8" stroke-width="0.6" />
<circle cx="206.90" cy="37.52" r="1.0" fill="none" stroke="#5b93c8" stroke-width="0.6" />
<circle cx="207.80" cy="37.02" r="1.0" fill="none" stroke="#5b93c8" stroke-width="0.6" />
<circle cx="208.70" cy="36.52" r="1.0" fill="none" stroke="#5b93c8" stroke-width="0.6" />
<circle cx="209.60" cy="36.02" r="1.0" fill="none" stroke="#5b93c8" stroke-width="0.6" />
<circle cx="210.50" cy="35.53" r="1.0" fill="none" stroke="#5b93c8" stroke-width="0.6" />
<circle cx="211.40" cy="35.04" r="1.0" fill="none" stroke="#5b93c8" stroke-width="0.6" />
<circle cx="212.30" cy="34.55" r="1.0" fill="none" stroke="#5b93c8" stroke-width="0.6" />
<circle cx="213.20" cy="34.07" r="1.0" fill="none" stroke="#5b93c8" stroke-width="0.6" />
<circle cx="214.10" cy="33.59" r="1.0" fill="none" stroke="#5b93c8" stroke-width="0.6" />
<circle cx="215.00" cy="33.12" r="1.0" fill="none" stroke="#5b93c8" stroke-width="0.6" />
<circle cx="215.90" cy="32.65" r="1.0" fill="none" stroke="#5b93c8" stroke-width="0.6" />
<polyline points="56.10,16.80 76.30,16.80" fill="none" stroke="#3b79b7" stroke-width="1.5" stroke-linejoin="round" stroke-linecap="round" />
<circle cx="66.40" cy="16.80" r="1.4" fill="none" stroke="#3b79b7" stroke-width="1.0" />
<text x="81.30" y="20.00" font-size="9.0" text-anchor="start" font-weight="normal" fill="#1a1a1a" >940 nm light w/o Sn(SCN)<tspan dy="2.8" font-size="6.2">2</tspan></text>
<polyline points="56.10,29.20 76.30,29.20" fill="none" stroke="#ee7e80" stroke-width="1.5" stroke-linejoin="round" stroke-linecap="round" />
<circle cx="66.40" cy="29.20" r="1.4" fill="none" stroke="#ee7e80" stroke-width="1.0" />
<text x="81.30" y="32.50" font-size="9.0" text-anchor="start" font-weight="normal" fill="#1a1a1a" >940 nm light with Sn(SCN)<tspan dy="2.8" font-size="6.2">2</tspan></text>
<polyline points="52.20,55.70 74.10,55.70" fill="none" stroke="#86b2da" stroke-width="1.0" stroke-linejoin="round" stroke-linecap="round" />
<circle cx="63.60" cy="55.70" r="1.3" fill="none" stroke="#86b2da" stroke-width="0.9" />
<text x="78.00" y="58.80" font-size="9.0" text-anchor="start" font-weight="normal" fill="#1a1a1a" >dark w/o Sn(SCN)<tspan dy="2.8" font-size="6.2">2</tspan></text>
<polyline points="52.20,68.90 74.10,68.90" fill="none" stroke="#f3a3a4" stroke-width="1.0" stroke-linejoin="round" stroke-linecap="round" />
<circle cx="63.60" cy="68.90" r="1.3" fill="none" stroke="#f3a3a4" stroke-width="0.9" />
<text x="78.00" y="72.00" font-size="9.0" text-anchor="start" font-weight="normal" fill="#1a1a1a" >dark with Sn(SCN)<tspan dy="2.8" font-size="6.2">2</tspan></text>
<rect x="47.50" y="8.50" width="169.00" height="130.40" fill="none" stroke="#1a1a1a" stroke-width="1.1"/>
<line x1="47.50" y1="138.90" x2="52.00" y2="138.90" stroke="#1a1a1a" stroke-width="1.0" />
<text x="24.92" y="142.60" font-size="9.4" text-anchor="start" font-weight="normal" fill="#1a1a1a" >10</text>
<text x="35.57" y="138.10" font-size="5.9" text-anchor="start" font-weight="normal" fill="#1a1a1a" >−8</text>
<line x1="47.50" y1="135.33" x2="50.10" y2="135.33" stroke="#1a1a1a" stroke-width="1.0" />
<line x1="47.50" y1="133.24" x2="50.10" y2="133.24" stroke="#1a1a1a" stroke-width="1.0" />
<line x1="47.50" y1="131.76" x2="50.10" y2="131.76" stroke="#1a1a1a" stroke-width="1.0" />
<line x1="47.50" y1="130.61" x2="50.10" y2="130.61" stroke="#1a1a1a" stroke-width="1.0" />
<line x1="47.50" y1="129.68" x2="50.10" y2="129.68" stroke="#1a1a1a" stroke-width="1.0" />
<line x1="47.50" y1="128.88" x2="50.10" y2="128.88" stroke="#1a1a1a" stroke-width="1.0" />
<line x1="47.50" y1="128.19" x2="50.10" y2="128.19" stroke="#1a1a1a" stroke-width="1.0" />
<line x1="47.50" y1="127.59" x2="50.10" y2="127.59" stroke="#1a1a1a" stroke-width="1.0" />
<line x1="47.50" y1="127.05" x2="52.00" y2="127.05" stroke="#1a1a1a" stroke-width="1.0" />
<line x1="47.50" y1="123.48" x2="50.10" y2="123.48" stroke="#1a1a1a" stroke-width="1.0" />
<line x1="47.50" y1="121.39" x2="50.10" y2="121.39" stroke="#1a1a1a" stroke-width="1.0" />
<line x1="47.50" y1="119.91" x2="50.10" y2="119.91" stroke="#1a1a1a" stroke-width="1.0" />
<line x1="47.50" y1="118.76" x2="50.10" y2="118.76" stroke="#1a1a1a" stroke-width="1.0" />
<line x1="47.50" y1="117.82" x2="50.10" y2="117.82" stroke="#1a1a1a" stroke-width="1.0" />
<line x1="47.50" y1="117.03" x2="50.10" y2="117.03" stroke="#1a1a1a" stroke-width="1.0" />
<line x1="47.50" y1="116.34" x2="50.10" y2="116.34" stroke="#1a1a1a" stroke-width="1.0" />
<line x1="47.50" y1="115.73" x2="50.10" y2="115.73" stroke="#1a1a1a" stroke-width="1.0" />
<line x1="47.50" y1="115.19" x2="52.00" y2="115.19" stroke="#1a1a1a" stroke-width="1.0" />
<text x="24.92" y="118.89" font-size="9.4" text-anchor="start" font-weight="normal" fill="#1a1a1a" >10</text>
<text x="35.57" y="114.39" font-size="5.9" text-anchor="start" font-weight="normal" fill="#1a1a1a" >−6</text>
<line x1="47.50" y1="111.62" x2="50.10" y2="111.62" stroke="#1a1a1a" stroke-width="1.0" />
<line x1="47.50" y1="109.53" x2="50.10" y2="109.53" stroke="#1a1a1a" stroke-width="1.0" />
<line x1="47.50" y1="108.05" x2="50.10" y2="108.05" stroke="#1a1a1a" stroke-width="1.0" />
<line x1="47.50" y1="106.90" x2="50.10" y2="106.90" stroke="#1a1a1a" stroke-width="1.0" />
<line x1="47.50" y1="105.97" x2="50.10" y2="105.97" stroke="#1a1a1a" stroke-width="1.0" />
<line x1="47.50" y1="105.17" x2="50.10" y2="105.17" stroke="#1a1a1a" stroke-width="1.0" />
<line x1="47.50" y1="104.49" x2="50.10" y2="104.49" stroke="#1a1a1a" stroke-width="1.0" />
<line x1="47.50" y1="103.88" x2="50.10" y2="103.88" stroke="#1a1a1a" stroke-width="1.0" />
<line x1="47.50" y1="103.34" x2="52.00" y2="103.34" stroke="#1a1a1a" stroke-width="1.0" />
<line x1="47.50" y1="99.77" x2="50.10" y2="99.77" stroke="#1a1a1a" stroke-width="1.0" />
<line x1="47.50" y1="97.68" x2="50.10" y2="97.68" stroke="#1a1a1a" stroke-width="1.0" />
<line x1="47.50" y1="96.20" x2="50.10" y2="96.20" stroke="#1a1a1a" stroke-width="1.0" />
<line x1="47.50" y1="95.05" x2="50.10" y2="95.05" stroke="#1a1a1a" stroke-width="1.0" />
<line x1="47.50" y1="94.11" x2="50.10" y2="94.11" stroke="#1a1a1a" stroke-width="1.0" />
<line x1="47.50" y1="93.32" x2="50.10" y2="93.32" stroke="#1a1a1a" stroke-width="1.0" />
<line x1="47.50" y1="92.63" x2="50.10" y2="92.63" stroke="#1a1a1a" stroke-width="1.0" />
<line x1="47.50" y1="92.02" x2="50.10" y2="92.02" stroke="#1a1a1a" stroke-width="1.0" />
<line x1="47.50" y1="91.48" x2="52.00" y2="91.48" stroke="#1a1a1a" stroke-width="1.0" />
<text x="24.92" y="95.18" font-size="9.4" text-anchor="start" font-weight="normal" fill="#1a1a1a" >10</text>
<text x="35.57" y="90.68" font-size="5.9" text-anchor="start" font-weight="normal" fill="#1a1a1a" >−4</text>
<line x1="47.50" y1="87.91" x2="50.10" y2="87.91" stroke="#1a1a1a" stroke-width="1.0" />
<line x1="47.50" y1="85.83" x2="50.10" y2="85.83" stroke="#1a1a1a" stroke-width="1.0" />
<line x1="47.50" y1="84.34" x2="50.10" y2="84.34" stroke="#1a1a1a" stroke-width="1.0" />
<line x1="47.50" y1="83.20" x2="50.10" y2="83.20" stroke="#1a1a1a" stroke-width="1.0" />
<line x1="47.50" y1="82.26" x2="50.10" y2="82.26" stroke="#1a1a1a" stroke-width="1.0" />
<line x1="47.50" y1="81.46" x2="50.10" y2="81.46" stroke="#1a1a1a" stroke-width="1.0" />
<line x1="47.50" y1="80.78" x2="50.10" y2="80.78" stroke="#1a1a1a" stroke-width="1.0" />
<line x1="47.50" y1="80.17" x2="50.10" y2="80.17" stroke="#1a1a1a" stroke-width="1.0" />
<line x1="47.50" y1="79.63" x2="52.00" y2="79.63" stroke="#1a1a1a" stroke-width="1.0" />
<line x1="47.50" y1="76.06" x2="50.10" y2="76.06" stroke="#1a1a1a" stroke-width="1.0" />
<line x1="47.50" y1="73.97" x2="50.10" y2="73.97" stroke="#1a1a1a" stroke-width="1.0" />
<line x1="47.50" y1="72.49" x2="50.10" y2="72.49" stroke="#1a1a1a" stroke-width="1.0" />
<line x1="47.50" y1="71.34" x2="50.10" y2="71.34" stroke="#1a1a1a" stroke-width="1.0" />
<line x1="47.50" y1="70.40" x2="50.10" y2="70.40" stroke="#1a1a1a" stroke-width="1.0" />
<line x1="47.50" y1="69.61" x2="50.10" y2="69.61" stroke="#1a1a1a" stroke-width="1.0" />
<line x1="47.50" y1="68.92" x2="50.10" y2="68.92" stroke="#1a1a1a" stroke-width="1.0" />
<line x1="47.50" y1="68.32" x2="50.10" y2="68.32" stroke="#1a1a1a" stroke-width="1.0" />
<line x1="47.50" y1="67.77" x2="52.00" y2="67.77" stroke="#1a1a1a" stroke-width="1.0" />
<text x="24.92" y="71.47" font-size="9.4" text-anchor="start" font-weight="normal" fill="#1a1a1a" >10</text>
<text x="35.57" y="66.97" font-size="5.9" text-anchor="start" font-weight="normal" fill="#1a1a1a" >−2</text>
<line x1="47.50" y1="64.20" x2="50.10" y2="64.20" stroke="#1a1a1a" stroke-width="1.0" />
<line x1="47.50" y1="62.12" x2="50.10" y2="62.12" stroke="#1a1a1a" stroke-width="1.0" />
<line x1="47.50" y1="60.64" x2="50.10" y2="60.64" stroke="#1a1a1a" stroke-width="1.0" />
<line x1="47.50" y1="59.49" x2="50.10" y2="59.49" stroke="#1a1a1a" stroke-width="1.0" />
<line x1="47.50" y1="58.55" x2="50.10" y2="58.55" stroke="#1a1a1a" stroke-width="1.0" />
<line x1="47.50" y1="57.75" x2="50.10" y2="57.75" stroke="#1a1a1a" stroke-width="1.0" />
<line x1="47.50" y1="57.07" x2="50.10" y2="57.07" stroke="#1a1a1a" stroke-width="1.0" />
<line x1="47.50" y1="56.46" x2="50.10" y2="56.46" stroke="#1a1a1a" stroke-width="1.0" />
<line x1="47.50" y1="55.92" x2="52.00" y2="55.92" stroke="#1a1a1a" stroke-width="1.0" />
<line x1="47.50" y1="52.35" x2="50.10" y2="52.35" stroke="#1a1a1a" stroke-width="1.0" />
<line x1="47.50" y1="50.26" x2="50.10" y2="50.26" stroke="#1a1a1a" stroke-width="1.0" />
<line x1="47.50" y1="48.78" x2="50.10" y2="48.78" stroke="#1a1a1a" stroke-width="1.0" />
<line x1="47.50" y1="47.63" x2="50.10" y2="47.63" stroke="#1a1a1a" stroke-width="1.0" />
<line x1="47.50" y1="46.69" x2="50.10" y2="46.69" stroke="#1a1a1a" stroke-width="1.0" />
<line x1="47.50" y1="45.90" x2="50.10" y2="45.90" stroke="#1a1a1a" stroke-width="1.0" />
<line x1="47.50" y1="45.21" x2="50.10" y2="45.21" stroke="#1a1a1a" stroke-width="1.0" />
<line x1="47.50" y1="44.61" x2="50.10" y2="44.61" stroke="#1a1a1a" stroke-width="1.0" />
<line x1="47.50" y1="44.06" x2="52.00" y2="44.06" stroke="#1a1a1a" stroke-width="1.0" />
<text x="28.36" y="47.76" font-size="9.4" text-anchor="start" font-weight="normal" fill="#1a1a1a" >10</text>
<text x="39.02" y="43.26" font-size="5.9" text-anchor="start" font-weight="normal" fill="#1a1a1a" >0</text>
<line x1="47.50" y1="40.50" x2="50.10" y2="40.50" stroke="#1a1a1a" stroke-width="1.0" />
<line x1="47.50" y1="38.41" x2="50.10" y2="38.41" stroke="#1a1a1a" stroke-width="1.0" />
<line x1="47.50" y1="36.93" x2="50.10" y2="36.93" stroke="#1a1a1a" stroke-width="1.0" />
<line x1="47.50" y1="35.78" x2="50.10" y2="35.78" stroke="#1a1a1a" stroke-width="1.0" />
<line x1="47.50" y1="34.84" x2="50.10" y2="34.84" stroke="#1a1a1a" stroke-width="1.0" />
<line x1="47.50" y1="34.05" x2="50.10" y2="34.05" stroke="#1a1a1a" stroke-width="1.0" />
<line x1="47.50" y1="33.36" x2="50.10" y2="33.36" stroke="#1a1a1a" stroke-width="1.0" />
<line x1="47.50" y1="32.75" x2="50.10" y2="32.75" stroke="#1a1a1a" stroke-width="1.0" />
<line x1="47.50" y1="32.21" x2="52.00" y2="32.21" stroke="#1a1a1a" stroke-width="1.0" />
<line x1="47.50" y1="28.64" x2="50.10" y2="28.64" stroke="#1a1a1a" stroke-width="1.0" />
<line x1="47.50" y1="26.55" x2="50.10" y2="26.55" stroke="#1a1a1a" stroke-width="1.0" />
<line x1="47.50" y1="25.07" x2="50.10" y2="25.07" stroke="#1a1a1a" stroke-width="1.0" />
<line x1="47.50" y1="23.92" x2="50.10" y2="23.92" stroke="#1a1a1a" stroke-width="1.0" />
<line x1="47.50" y1="22.98" x2="50.10" y2="22.98" stroke="#1a1a1a" stroke-width="1.0" />
<line x1="47.50" y1="22.19" x2="50.10" y2="22.19" stroke="#1a1a1a" stroke-width="1.0" />
<line x1="47.50" y1="21.50" x2="50.10" y2="21.50" stroke="#1a1a1a" stroke-width="1.0" />
<line x1="47.50" y1="20.90" x2="50.10" y2="20.90" stroke="#1a1a1a" stroke-width="1.0" />
<line x1="47.50" y1="20.35" x2="52.00" y2="20.35" stroke="#1a1a1a" stroke-width="1.0" />
<text x="28.36" y="24.05" font-size="9.4" text-anchor="start" font-weight="normal" fill="#1a1a1a" >10</text>
<text x="39.02" y="19.55" font-size="5.9" text-anchor="start" font-weight="normal" fill="#1a1a1a" >2</text>
<line x1="47.50" y1="16.79" x2="50.10" y2="16.79" stroke="#1a1a1a" stroke-width="1.0" />
<line x1="47.50" y1="14.70" x2="50.10" y2="14.70" stroke="#1a1a1a" stroke-width="1.0" />
<line x1="47.50" y1="13.22" x2="50.10" y2="13.22" stroke="#1a1a1a" stroke-width="1.0" />
<line x1="47.50" y1="12.07" x2="50.10" y2="12.07" stroke="#1a1a1a" stroke-width="1.0" />
<line x1="47.50" y1="11.13" x2="50.10" y2="11.13" stroke="#1a1a1a" stroke-width="1.0" />
<line x1="47.50" y1="10.34" x2="50.10" y2="10.34" stroke="#1a1a1a" stroke-width="1.0" />
<line x1="47.50" y1="9.65" x2="50.10" y2="9.65" stroke="#1a1a1a" stroke-width="1.0" />
<line x1="47.50" y1="9.04" x2="50.10" y2="9.04" stroke="#1a1a1a" stroke-width="1.0" />
<line x1="47.50" y1="8.50" x2="52.00" y2="8.50" stroke="#1a1a1a" stroke-width="1.0" />
<line x1="47.32" y1="138.90" x2="47.32" y2="134.40" stroke="#1a1a1a" stroke-width="1.0" />
<text x="47.32" y="152.80" font-size="9.4" text-anchor="middle" font-weight="normal" fill="#1a1a1a" >−0.8</text>
<line x1="89.56" y1="138.90" x2="89.56" y2="134.40" stroke="#1a1a1a" stroke-width="1.0" />
<text x="89.56" y="152.80" font-size="9.4" text-anchor="middle" font-weight="normal" fill="#1a1a1a" >−0.4</text>
<line x1="131.80" y1="138.90" x2="131.80" y2="134.40" stroke="#1a1a1a" stroke-width="1.0" />
<text x="131.80" y="152.80" font-size="9.4" text-anchor="middle" font-weight="normal" fill="#1a1a1a" >0.0</text>
<line x1="174.04" y1="138.90" x2="174.04" y2="134.40" stroke="#1a1a1a" stroke-width="1.0" />
<text x="174.04" y="152.80" font-size="9.4" text-anchor="middle" font-weight="normal" fill="#1a1a1a" >0.4</text>
<line x1="216.28" y1="138.90" x2="216.28" y2="134.40" stroke="#1a1a1a" stroke-width="1.0" />
<text x="216.28" y="152.80" font-size="9.4" text-anchor="middle" font-weight="normal" fill="#1a1a1a" >0.8</text>
<line x1="68.44" y1="138.90" x2="68.44" y2="136.30" stroke="#1a1a1a" stroke-width="0.9" />
<line x1="110.68" y1="138.90" x2="110.68" y2="136.30" stroke="#1a1a1a" stroke-width="0.9" />
<line x1="152.92" y1="138.90" x2="152.92" y2="136.30" stroke="#1a1a1a" stroke-width="0.9" />
<line x1="195.16" y1="138.90" x2="195.16" y2="136.30" stroke="#1a1a1a" stroke-width="0.9" />
<text x="131.80" y="168.00" font-size="9.0" text-anchor="middle" font-weight="normal" fill="#1a1a1a" >Voltage (V)</text>
<text transform="translate(18.00,73.30) rotate(-90)" x="0" y="0" font-size="9.0" text-anchor="middle" fill="#1a1a1a">Current density (mA cm<tspan dy="-4.2" font-size="6.2">−2</tspan><tspan dy="4.2">)</tspan></text>
<text x="238.40" y="11.00" font-size="15.5" text-anchor="start" font-weight="bold" fill="#000" >b</text>
<polyline points="289.10,106.80 304.30,96.30" fill="none" stroke="#ee7e80" stroke-width="1.1" stroke-linejoin="round" stroke-linecap="round" />
<polyline points="418.20,19.30 421.60,17.60" fill="none" stroke="#ee7e80" stroke-width="1.1" stroke-linejoin="round" stroke-linecap="round" />
<circle cx="289.10" cy="106.80" r="1.35" fill="none" stroke="#ee7e80" stroke-width="0.8" />
<circle cx="293.20" cy="103.70" r="1.35" fill="none" stroke="#ee7e80" stroke-width="0.8" />
<circle cx="421.60" cy="17.60" r="1.35" fill="none" stroke="#ee7e80" stroke-width="0.8" />
<polyline points="304.30,96.30 317.20,87.50 325.30,82.40 332.70,77.40 348.90,66.20 356.70,61.10 368.50,52.70 375.90,48.30 398.20,33.10 408.00,26.70 418.20,19.30" fill="none" stroke="#3b79b7" stroke-width="1.0" stroke-linejoin="round" stroke-linecap="round" />
<circle cx="304.30" cy="96.30" r="1.35" fill="none" stroke="#3b79b7" stroke-width="0.8" />
<circle cx="317.20" cy="87.50" r="1.35" fill="none" stroke="#3b79b7" stroke-width="0.8" />
<circle cx="325.30" cy="82.40" r="1.35" fill="none" stroke="#3b79b7" stroke-width="0.8" />
<circle cx="332.70" cy="77.40" r="1.35" fill="none" stroke="#3b79b7" stroke-width="0.8" />
<circle cx="348.90" cy="66.20" r="1.35" fill="none" stroke="#3b79b7" stroke-width="0.8" />
<circle cx="356.70" cy="61.10" r="1.35" fill="none" stroke="#3b79b7" stroke-width="0.8" />
<circle cx="368.50" cy="52.70" r="1.35" fill="none" stroke="#3b79b7" stroke-width="0.8" />
<circle cx="375.90" cy="48.30" r="1.35" fill="none" stroke="#3b79b7" stroke-width="0.8" />
<circle cx="398.20" cy="33.10" r="1.35" fill="none" stroke="#3b79b7" stroke-width="0.8" />
<circle cx="408.00" cy="26.70" r="1.35" fill="none" stroke="#3b79b7" stroke-width="0.8" />
<circle cx="418.20" cy="19.30" r="1.35" fill="none" stroke="#3b79b7" stroke-width="0.8" />
<polyline points="287.00,16.00 310.10,16.00" fill="none" stroke="#3b79b7" stroke-width="1.1" stroke-linejoin="round" stroke-linecap="round" />
<circle cx="298.90" cy="16.00" r="1.35" fill="none" stroke="#3b79b7" stroke-width="0.8" />
<text x="315.70" y="19.10" font-size="9.0" text-anchor="start" font-weight="normal" fill="#1a1a1a" >w/o Sn(SCN)<tspan dy="2.8" font-size="6.2">2</tspan></text>
<polyline points="287.00,30.90 310.10,30.90" fill="none" stroke="#ee7e80" stroke-width="1.1" stroke-linejoin="round" stroke-linecap="round" />
<circle cx="298.90" cy="30.90" r="1.35" fill="none" stroke="#ee7e80" stroke-width="0.8" />
<text x="315.70" y="33.60" font-size="9.0" text-anchor="start" font-weight="normal" fill="#1a1a1a" >with Sn(SCN)<tspan dy="2.8" font-size="6.2">2</tspan></text>
<text x="350.60" y="98.10" font-size="9.0" text-anchor="start" font-weight="normal" fill="#1a1a1a" >103 dB</text>
<text x="350.60" y="115.60" font-size="9.0" text-anchor="start" font-weight="normal" fill="#1a1a1a" >147 dB</text>
<rect x="277.50" y="8.50" width="169.50" height="130.50" fill="none" stroke="#1a1a1a" stroke-width="1.1"/>
<line x1="277.50" y1="139.00" x2="282.00" y2="139.00" stroke="#1a1a1a" stroke-width="1.0" />
<text x="254.92" y="142.70" font-size="9.4" text-anchor="start" font-weight="normal" fill="#1a1a1a" >10</text>
<text x="265.57" y="138.20" font-size="5.9" text-anchor="start" font-weight="normal" fill="#1a1a1a" >−8</text>
<line x1="277.50" y1="134.09" x2="280.10" y2="134.09" stroke="#1a1a1a" stroke-width="1.0" />
<line x1="277.50" y1="131.22" x2="280.10" y2="131.22" stroke="#1a1a1a" stroke-width="1.0" />
<line x1="277.50" y1="129.18" x2="280.10" y2="129.18" stroke="#1a1a1a" stroke-width="1.0" />
<line x1="277.50" y1="127.60" x2="280.10" y2="127.60" stroke="#1a1a1a" stroke-width="1.0" />
<line x1="277.50" y1="126.31" x2="280.10" y2="126.31" stroke="#1a1a1a" stroke-width="1.0" />
<line x1="277.50" y1="125.21" x2="280.10" y2="125.21" stroke="#1a1a1a" stroke-width="1.0" />
<line x1="277.50" y1="124.27" x2="280.10" y2="124.27" stroke="#1a1a1a" stroke-width="1.0" />
<line x1="277.50" y1="123.43" x2="280.10" y2="123.43" stroke="#1a1a1a" stroke-width="1.0" />
<line x1="277.50" y1="122.69" x2="282.00" y2="122.69" stroke="#1a1a1a" stroke-width="1.0" />
<text x="254.92" y="126.39" font-size="9.4" text-anchor="start" font-weight="normal" fill="#1a1a1a" >10</text>
<text x="265.57" y="121.89" font-size="5.9" text-anchor="start" font-weight="normal" fill="#1a1a1a" >−7</text>
<line x1="277.50" y1="117.78" x2="280.10" y2="117.78" stroke="#1a1a1a" stroke-width="1.0" />
<line x1="277.50" y1="114.90" x2="280.10" y2="114.90" stroke="#1a1a1a" stroke-width="1.0" />
<line x1="277.50" y1="112.87" x2="280.10" y2="112.87" stroke="#1a1a1a" stroke-width="1.0" />
<line x1="277.50" y1="111.29" x2="280.10" y2="111.29" stroke="#1a1a1a" stroke-width="1.0" />
<line x1="277.50" y1="109.99" x2="280.10" y2="109.99" stroke="#1a1a1a" stroke-width="1.0" />
<line x1="277.50" y1="108.90" x2="280.10" y2="108.90" stroke="#1a1a1a" stroke-width="1.0" />
<line x1="277.50" y1="107.96" x2="280.10" y2="107.96" stroke="#1a1a1a" stroke-width="1.0" />
<line x1="277.50" y1="107.12" x2="280.10" y2="107.12" stroke="#1a1a1a" stroke-width="1.0" />
<line x1="277.50" y1="106.38" x2="282.00" y2="106.38" stroke="#1a1a1a" stroke-width="1.0" />
<text x="254.92" y="110.08" font-size="9.4" text-anchor="start" font-weight="normal" fill="#1a1a1a" >10</text>
<text x="265.57" y="105.58" font-size="5.9" text-anchor="start" font-weight="normal" fill="#1a1a1a" >−6</text>
<line x1="277.50" y1="101.46" x2="280.10" y2="101.46" stroke="#1a1a1a" stroke-width="1.0" />
<line x1="277.50" y1="98.59" x2="280.10" y2="98.59" stroke="#1a1a1a" stroke-width="1.0" />
<line x1="277.50" y1="96.55" x2="280.10" y2="96.55" stroke="#1a1a1a" stroke-width="1.0" />
<line x1="277.50" y1="94.97" x2="280.10" y2="94.97" stroke="#1a1a1a" stroke-width="1.0" />
<line x1="277.50" y1="93.68" x2="280.10" y2="93.68" stroke="#1a1a1a" stroke-width="1.0" />
<line x1="277.50" y1="92.59" x2="280.10" y2="92.59" stroke="#1a1a1a" stroke-width="1.0" />
<line x1="277.50" y1="91.64" x2="280.10" y2="91.64" stroke="#1a1a1a" stroke-width="1.0" />
<line x1="277.50" y1="90.81" x2="280.10" y2="90.81" stroke="#1a1a1a" stroke-width="1.0" />
<line x1="277.50" y1="90.06" x2="282.00" y2="90.06" stroke="#1a1a1a" stroke-width="1.0" />
<text x="254.92" y="93.76" font-size="9.4" text-anchor="start" font-weight="normal" fill="#1a1a1a" >10</text>
<text x="265.57" y="89.26" font-size="5.9" text-anchor="start" font-weight="normal" fill="#1a1a1a" >−5</text>
<line x1="277.50" y1="85.15" x2="280.10" y2="85.15" stroke="#1a1a1a" stroke-width="1.0" />
<line x1="277.50" y1="82.28" x2="280.10" y2="82.28" stroke="#1a1a1a" stroke-width="1.0" />
<line x1="277.50" y1="80.24" x2="280.10" y2="80.24" stroke="#1a1a1a" stroke-width="1.0" />
<line x1="277.50" y1="78.66" x2="280.10" y2="78.66" stroke="#1a1a1a" stroke-width="1.0" />
<line x1="277.50" y1="77.37" x2="280.10" y2="77.37" stroke="#1a1a1a" stroke-width="1.0" />
<line x1="277.50" y1="76.28" x2="280.10" y2="76.28" stroke="#1a1a1a" stroke-width="1.0" />
<line x1="277.50" y1="75.33" x2="280.10" y2="75.33" stroke="#1a1a1a" stroke-width="1.0" />
<line x1="277.50" y1="74.50" x2="280.10" y2="74.50" stroke="#1a1a1a" stroke-width="1.0" />
<line x1="277.50" y1="73.75" x2="282.00" y2="73.75" stroke="#1a1a1a" stroke-width="1.0" />
<text x="254.92" y="77.45" font-size="9.4" text-anchor="start" font-weight="normal" fill="#1a1a1a" >10</text>
<text x="265.57" y="72.95" font-size="5.9" text-anchor="start" font-weight="normal" fill="#1a1a1a" >−4</text>
<line x1="277.50" y1="68.84" x2="280.10" y2="68.84" stroke="#1a1a1a" stroke-width="1.0" />
<line x1="277.50" y1="65.97" x2="280.10" y2="65.97" stroke="#1a1a1a" stroke-width="1.0" />
<line x1="277.50" y1="63.93" x2="280.10" y2="63.93" stroke="#1a1a1a" stroke-width="1.0" />
<line x1="277.50" y1="62.35" x2="280.10" y2="62.35" stroke="#1a1a1a" stroke-width="1.0" />
<line x1="277.50" y1="61.06" x2="280.10" y2="61.06" stroke="#1a1a1a" stroke-width="1.0" />
<line x1="277.50" y1="59.96" x2="280.10" y2="59.96" stroke="#1a1a1a" stroke-width="1.0" />
<line x1="277.50" y1="59.02" x2="280.10" y2="59.02" stroke="#1a1a1a" stroke-width="1.0" />
<line x1="277.50" y1="58.18" x2="280.10" y2="58.18" stroke="#1a1a1a" stroke-width="1.0" />
<line x1="277.50" y1="57.44" x2="282.00" y2="57.44" stroke="#1a1a1a" stroke-width="1.0" />
<text x="254.92" y="61.14" font-size="9.4" text-anchor="start" font-weight="normal" fill="#1a1a1a" >10</text>
<text x="265.57" y="56.64" font-size="5.9" text-anchor="start" font-weight="normal" fill="#1a1a1a" >−3</text>
<line x1="277.50" y1="52.53" x2="280.10" y2="52.53" stroke="#1a1a1a" stroke-width="1.0" />
<line x1="277.50" y1="49.65" x2="280.10" y2="49.65" stroke="#1a1a1a" stroke-width="1.0" />
<line x1="277.50" y1="47.62" x2="280.10" y2="47.62" stroke="#1a1a1a" stroke-width="1.0" />
<line x1="277.50" y1="46.04" x2="280.10" y2="46.04" stroke="#1a1a1a" stroke-width="1.0" />
<line x1="277.50" y1="44.74" x2="280.10" y2="44.74" stroke="#1a1a1a" stroke-width="1.0" />
<line x1="277.50" y1="43.65" x2="280.10" y2="43.65" stroke="#1a1a1a" stroke-width="1.0" />
<line x1="277.50" y1="42.71" x2="280.10" y2="42.71" stroke="#1a1a1a" stroke-width="1.0" />
<line x1="277.50" y1="41.87" x2="280.10" y2="41.87" stroke="#1a1a1a" stroke-width="1.0" />
<line x1="277.50" y1="41.12" x2="282.00" y2="41.12" stroke="#1a1a1a" stroke-width="1.0" />
<text x="254.92" y="44.83" font-size="9.4" text-anchor="start" font-weight="normal" fill="#1a1a1a" >10</text>
<text x="265.57" y="40.33" font-size="5.9" text-anchor="start" font-weight="normal" fill="#1a1a1a" >−2</text>
<line x1="277.50" y1="36.21" x2="280.10" y2="36.21" stroke="#1a1a1a" stroke-width="1.0" />
<line x1="277.50" y1="33.34" x2="280.10" y2="33.34" stroke="#1a1a1a" stroke-width="1.0" />
<line x1="277.50" y1="31.30" x2="280.10" y2="31.30" stroke="#1a1a1a" stroke-width="1.0" />
<line x1="277.50" y1="29.72" x2="280.10" y2="29.72" stroke="#1a1a1a" stroke-width="1.0" />
<line x1="277.50" y1="28.43" x2="280.10" y2="28.43" stroke="#1a1a1a" stroke-width="1.0" />
<line x1="277.50" y1="27.34" x2="280.10" y2="27.34" stroke="#1a1a1a" stroke-width="1.0" />
<line x1="277.50" y1="26.39" x2="280.10" y2="26.39" stroke="#1a1a1a" stroke-width="1.0" />
<line x1="277.50" y1="25.56" x2="280.10" y2="25.56" stroke="#1a1a1a" stroke-width="1.0" />
<line x1="277.50" y1="24.81" x2="282.00" y2="24.81" stroke="#1a1a1a" stroke-width="1.0" />
<text x="254.92" y="28.51" font-size="9.4" text-anchor="start" font-weight="normal" fill="#1a1a1a" >10</text>
<text x="265.57" y="24.01" font-size="5.9" text-anchor="start" font-weight="normal" fill="#1a1a1a" >−1</text>
<line x1="277.50" y1="19.90" x2="280.10" y2="19.90" stroke="#1a1a1a" stroke-width="1.0" />
<line x1="277.50" y1="17.03" x2="280.10" y2="17.03" stroke="#1a1a1a" stroke-width="1.0" />
<line x1="277.50" y1="14.99" x2="280.10" y2="14.99" stroke="#1a1a1a" stroke-width="1.0" />
<line x1="277.50" y1="13.41" x2="280.10" y2="13.41" stroke="#1a1a1a" stroke-width="1.0" />
<line x1="277.50" y1="12.12" x2="280.10" y2="12.12" stroke="#1a1a1a" stroke-width="1.0" />
<line x1="277.50" y1="11.03" x2="280.10" y2="11.03" stroke="#1a1a1a" stroke-width="1.0" />
<line x1="277.50" y1="10.08" x2="280.10" y2="10.08" stroke="#1a1a1a" stroke-width="1.0" />
<line x1="277.50" y1="9.25" x2="280.10" y2="9.25" stroke="#1a1a1a" stroke-width="1.0" />
<line x1="277.50" y1="8.50" x2="282.00" y2="8.50" stroke="#1a1a1a" stroke-width="1.0" />
<text x="258.36" y="12.20" font-size="9.4" text-anchor="start" font-weight="normal" fill="#1a1a1a" >10</text>
<text x="269.02" y="7.70" font-size="5.9" text-anchor="start" font-weight="normal" fill="#1a1a1a" >0</text>
<line x1="277.50" y1="139.00" x2="277.50" y2="134.50" stroke="#1a1a1a" stroke-width="1.0" />
<text x="269.31" y="152.60" font-size="9.4" text-anchor="start" font-weight="normal" fill="#1a1a1a" >10</text>
<text x="279.96" y="148.10" font-size="5.9" text-anchor="start" font-weight="normal" fill="#1a1a1a" >−7</text>
<line x1="284.79" y1="139.00" x2="284.79" y2="136.40" stroke="#1a1a1a" stroke-width="1.0" />
<line x1="289.05" y1="139.00" x2="289.05" y2="136.40" stroke="#1a1a1a" stroke-width="1.0" />
<line x1="292.08" y1="139.00" x2="292.08" y2="136.40" stroke="#1a1a1a" stroke-width="1.0" />
<line x1="294.43" y1="139.00" x2="294.43" y2="136.40" stroke="#1a1a1a" stroke-width="1.0" />
<line x1="296.34" y1="139.00" x2="296.34" y2="136.40" stroke="#1a1a1a" stroke-width="1.0" />
<line x1="297.96" y1="139.00" x2="297.96" y2="136.40" stroke="#1a1a1a" stroke-width="1.0" />
<line x1="299.37" y1="139.00" x2="299.37" y2="136.40" stroke="#1a1a1a" stroke-width="1.0" />
<line x1="300.61" y1="139.00" x2="300.61" y2="136.40" stroke="#1a1a1a" stroke-width="1.0" />
<line x1="301.71" y1="139.00" x2="301.71" y2="134.50" stroke="#1a1a1a" stroke-width="1.0" />
<text x="293.52" y="152.60" font-size="9.4" text-anchor="start" font-weight="normal" fill="#1a1a1a" >10</text>
<text x="304.18" y="148.10" font-size="5.9" text-anchor="start" font-weight="normal" fill="#1a1a1a" >−6</text>
<line x1="309.00" y1="139.00" x2="309.00" y2="136.40" stroke="#1a1a1a" stroke-width="1.0" />
<line x1="313.27" y1="139.00" x2="313.27" y2="136.40" stroke="#1a1a1a" stroke-width="1.0" />
<line x1="316.29" y1="139.00" x2="316.29" y2="136.40" stroke="#1a1a1a" stroke-width="1.0" />
<line x1="318.64" y1="139.00" x2="318.64" y2="136.40" stroke="#1a1a1a" stroke-width="1.0" />
<line x1="320.56" y1="139.00" x2="320.56" y2="136.40" stroke="#1a1a1a" stroke-width="1.0" />
<line x1="322.18" y1="139.00" x2="322.18" y2="136.40" stroke="#1a1a1a" stroke-width="1.0" />
<line x1="323.58" y1="139.00" x2="323.58" y2="136.40" stroke="#1a1a1a" stroke-width="1.0" />
<line x1="324.82" y1="139.00" x2="324.82" y2="136.40" stroke="#1a1a1a" stroke-width="1.0" />
<line x1="325.93" y1="139.00" x2="325.93" y2="134.50" stroke="#1a1a1a" stroke-width="1.0" />
<text x="317.74" y="152.60" font-size="9.4" text-anchor="start" font-weight="normal" fill="#1a1a1a" >10</text>
<text x="328.39" y="148.10" font-size="5.9" text-anchor="start" font-weight="normal" fill="#1a1a1a" >−5</text>
<line x1="333.22" y1="139.00" x2="333.22" y2="136.40" stroke="#1a1a1a" stroke-width="1.0" />
<line x1="337.48" y1="139.00" x2="337.48" y2="136.40" stroke="#1a1a1a" stroke-width="1.0" />
<line x1="340.51" y1="139.00" x2="340.51" y2="136.40" stroke="#1a1a1a" stroke-width="1.0" />
<line x1="342.85" y1="139.00" x2="342.85" y2="136.40" stroke="#1a1a1a" stroke-width="1.0" />
<line x1="344.77" y1="139.00" x2="344.77" y2="136.40" stroke="#1a1a1a" stroke-width="1.0" />
<line x1="346.39" y1="139.00" x2="346.39" y2="136.40" stroke="#1a1a1a" stroke-width="1.0" />
<line x1="347.80" y1="139.00" x2="347.80" y2="136.40" stroke="#1a1a1a" stroke-width="1.0" />
<line x1="349.03" y1="139.00" x2="349.03" y2="136.40" stroke="#1a1a1a" stroke-width="1.0" />
<line x1="350.14" y1="139.00" x2="350.14" y2="134.50" stroke="#1a1a1a" stroke-width="1.0" />
<text x="341.95" y="152.60" font-size="9.4" text-anchor="start" font-weight="normal" fill="#1a1a1a" >10</text>
<text x="352.61" y="148.10" font-size="5.9" text-anchor="start" font-weight="normal" fill="#1a1a1a" >−4</text>
<line x1="357.43" y1="139.00" x2="357.43" y2="136.40" stroke="#1a1a1a" stroke-width="1.0" />
<line x1="361.70" y1="139.00" x2="361.70" y2="136.40" stroke="#1a1a1a" stroke-width="1.0" />
<line x1="364.72" y1="139.00" x2="364.72" y2="136.40" stroke="#1a1a1a" stroke-width="1.0" />
<line x1="367.07" y1="139.00" x2="367.07" y2="136.40" stroke="#1a1a1a" stroke-width="1.0" />
<line x1="368.99" y1="139.00" x2="368.99" y2="136.40" stroke="#1a1a1a" stroke-width="1.0" />
<line x1="370.61" y1="139.00" x2="370.61" y2="136.40" stroke="#1a1a1a" stroke-width="1.0" />
<line x1="372.01" y1="139.00" x2="372.01" y2="136.40" stroke="#1a1a1a" stroke-width="1.0" />
<line x1="373.25" y1="139.00" x2="373.25" y2="136.40" stroke="#1a1a1a" stroke-width="1.0" />
<line x1="374.36" y1="139.00" x2="374.36" y2="134.50" stroke="#1a1a1a" stroke-width="1.0" />
<text x="366.17" y="152.60" font-size="9.4" text-anchor="start" font-weight="normal" fill="#1a1a1a" >10</text>
<text x="376.82" y="148.10" font-size="5.9" text-anchor="start" font-weight="normal" fill="#1a1a1a" >−3</text>
<line x1="381.65" y1="139.00" x2="381.65" y2="136.40" stroke="#1a1a1a" stroke-width="1.0" />
<line x1="385.91" y1="139.00" x2="385.91" y2="136.40" stroke="#1a1a1a" stroke-width="1.0" />
<line x1="388.94" y1="139.00" x2="388.94" y2="136.40" stroke="#1a1a1a" stroke-width="1.0" />
<line x1="391.28" y1="139.00" x2="391.28" y2="136.40" stroke="#1a1a1a" stroke-width="1.0" />
<line x1="393.20" y1="139.00" x2="393.20" y2="136.40" stroke="#1a1a1a" stroke-width="1.0" />
<line x1="394.82" y1="139.00" x2="394.82" y2="136.40" stroke="#1a1a1a" stroke-width="1.0" />
<line x1="396.22" y1="139.00" x2="396.22" y2="136.40" stroke="#1a1a1a" stroke-width="1.0" />
<line x1="397.46" y1="139.00" x2="397.46" y2="136.40" stroke="#1a1a1a" stroke-width="1.0" />
<line x1="398.57" y1="139.00" x2="398.57" y2="134.50" stroke="#1a1a1a" stroke-width="1.0" />
<text x="390.38" y="152.60" font-size="9.4" text-anchor="start" font-weight="normal" fill="#1a1a1a" >10</text>
<text x="401.04" y="148.10" font-size="5.9" text-anchor="start" font-weight="normal" fill="#1a1a1a" >−2</text>
<line x1="405.86" y1="139.00" x2="405.86" y2="136.40" stroke="#1a1a1a" stroke-width="1.0" />
<line x1="410.12" y1="139.00" x2="410.12" y2="136.40" stroke="#1a1a1a" stroke-width="1.0" />
<line x1="413.15" y1="139.00" x2="413.15" y2="136.40" stroke="#1a1a1a" stroke-width="1.0" />
<line x1="415.50" y1="139.00" x2="415.50" y2="136.40" stroke="#1a1a1a" stroke-width="1.0" />
<line x1="417.41" y1="139.00" x2="417.41" y2="136.40" stroke="#1a1a1a" stroke-width="1.0" />
<line x1="419.03" y1="139.00" x2="419.03" y2="136.40" stroke="#1a1a1a" stroke-width="1.0" />
<line x1="420.44" y1="139.00" x2="420.44" y2="136.40" stroke="#1a1a1a" stroke-width="1.0" />
<line x1="421.68" y1="139.00" x2="421.68" y2="136.40" stroke="#1a1a1a" stroke-width="1.0" />
<line x1="422.79" y1="139.00" x2="422.79" y2="134.50" stroke="#1a1a1a" stroke-width="1.0" />
<text x="414.59" y="152.60" font-size="9.4" text-anchor="start" font-weight="normal" fill="#1a1a1a" >10</text>
<text x="425.25" y="148.10" font-size="5.9" text-anchor="start" font-weight="normal" fill="#1a1a1a" >−1</text>
<line x1="430.07" y1="139.00" x2="430.07" y2="136.40" stroke="#1a1a1a" stroke-width="1.0" />
<line x1="434.34" y1="139.00" x2="434.34" y2="136.40" stroke="#1a1a1a" stroke-width="1.0" />
<line x1="437.36" y1="139.00" x2="437.36" y2="136.40" stroke="#1a1a1a" stroke-width="1.0" />
<line x1="439.71" y1="139.00" x2="439.71" y2="136.40" stroke="#1a1a1a" stroke-width="1.0" />
<line x1="441.63" y1="139.00" x2="441.63" y2="136.40" stroke="#1a1a1a" stroke-width="1.0" />
<line x1="443.25" y1="139.00" x2="443.25" y2="136.40" stroke="#1a1a1a" stroke-width="1.0" />
<line x1="444.65" y1="139.00" x2="444.65" y2="136.40" stroke="#1a1a1a" stroke-width="1.0" />
<line x1="445.89" y1="139.00" x2="445.89" y2="136.40" stroke="#1a1a1a" stroke-width="1.0" />
<line x1="447.00" y1="139.00" x2="447.00" y2="134.50" stroke="#1a1a1a" stroke-width="1.0" />
<text x="440.53" y="152.60" font-size="9.4" text-anchor="start" font-weight="normal" fill="#1a1a1a" >10</text>
<text x="451.19" y="148.10" font-size="5.9" text-anchor="start" font-weight="normal" fill="#1a1a1a" >0</text>
<text x="362.20" y="168.00" font-size="9.0" text-anchor="middle" font-weight="normal" fill="#1a1a1a" >Light intensity (W cm<tspan dy="-3.6" font-size="6.2">−2</tspan><tspan dy="3.6">)</tspan></text>
<text transform="translate(246.30,73.70) rotate(-90)" x="0" y="0" font-size="9.0" text-anchor="middle" fill="#1a1a1a">Current (A)</text>
<text x="469.70" y="11.00" font-size="15.5" text-anchor="start" font-weight="bold" fill="#000" >c</text>
<line x1="515.20" y1="30.18" x2="684.50" y2="30.18" stroke="#666" stroke-width="1.0" stroke-dasharray="1.6 3.8"/>
<line x1="515.20" y1="117.22" x2="684.50" y2="117.22" stroke="#666" stroke-width="1.0" stroke-dasharray="1.6 3.8"/>
<polyline points="516.50,126.80 517.00,125.40 517.50,126.28 518.00,125.97 518.50,125.99 519.00,126.04 519.50,125.49 520.00,126.01 520.50,125.80 521.00,127.04 521.50,126.10 522.00,125.91 522.50,125.91 523.00,125.78 523.50,125.65 524.00,125.83 524.50,126.08 525.00,125.85 525.50,126.19 526.00,125.83 526.50,125.88 527.00,126.32 527.50,126.01 528.00,125.68 528.50,125.76 529.00,125.96 529.50,126.36 530.00,125.69 530.50,125.68 531.00,126.04 531.50,125.45 532.00,125.62 532.50,125.95 533.00,125.85 533.50,125.68 534.00,125.84 534.50,124.78 535.00,125.92 535.50,125.31 536.00,125.08 536.50,125.65 537.00,125.76 537.50,125.40 538.00,125.20 538.50,125.51 539.00,125.47 539.50,125.89 540.00,125.68 540.50,125.50 541.00,125.76 541.50,125.35 542.00,125.12 542.50,125.55 543.00,125.54 543.50,125.28 544.00,125.10 544.50,125.39 545.00,124.55 545.50,125.49 546.00,125.42 546.50,124.76 547.00,125.26 547.50,124.93 548.00,125.44 548.50,124.58 549.00,124.90 549.50,125.37 550.00,125.49 550.50,124.48 551.00,124.97 551.50,125.20 551.60,125.00" fill="none" stroke="#ee7e80" stroke-width="5.8" stroke-linejoin="round" stroke-linecap="round" />
<polyline points="553.30,125.50 553.40,110.00 553.50,40.00 553.80,30.00 554.60,27.00" fill="none" stroke="#ee7e80" stroke-width="2.7" stroke-linejoin="round" stroke-linecap="round" />
<polyline points="554.60,26.60 556.00,24.50 558.00,23.70 558.00,23.48 558.50,24.10 559.00,23.23 559.50,23.66 560.00,23.21 560.50,23.91 561.00,23.45 561.50,23.32 562.00,22.88 562.50,23.87 563.00,23.57 563.50,23.54 564.00,23.63 564.50,23.37 565.00,23.05 565.50,22.98 566.00,22.96 566.50,23.59 567.00,22.72 567.50,22.97 568.00,23.03 568.50,23.17 569.00,23.26 569.50,22.70 570.00,22.53 570.50,23.03 571.00,23.38 571.50,23.22 572.00,23.04 572.50,22.87 573.00,23.03 573.50,22.86 574.00,23.16 574.50,22.66 575.00,22.92 575.50,22.83 576.00,23.01 576.50,22.90 577.00,23.58 577.50,23.25 578.00,23.24 578.50,22.16 579.00,22.66 579.50,22.56 580.00,22.89 580.50,22.04 581.00,23.06 581.50,23.02 582.00,22.30 582.50,22.39 583.00,22.43 583.50,22.67 584.00,22.84 584.50,23.26 585.00,22.58 585.50,22.86 586.00,22.67 586.50,23.15 587.00,22.84 587.50,23.02 588.00,22.28 588.50,22.55 589.00,22.36 589.50,23.05 590.00,22.80 590.50,22.51 591.00,22.46 591.50,22.75 592.00,22.39 592.50,22.32 593.00,22.75 593.50,23.34 594.00,22.53 594.50,22.44 595.00,22.26 595.50,22.21 596.00,22.77 596.50,22.87 597.00,22.62 597.50,22.72 598.00,22.66 598.50,22.67 599.00,22.17 599.50,22.49 600.00,22.67 600.50,22.40 601.00,22.49 601.50,22.40 602.00,22.54 602.50,22.90 603.00,22.53 603.50,22.61 604.00,22.90 604.50,22.85 605.00,23.17 605.50,22.04 606.00,22.93 606.50,22.53 607.00,22.72 607.50,22.93 608.00,23.01 608.50,23.00 609.00,22.74 609.50,23.18 610.00,22.62 610.50,22.66 611.00,22.95 611.50,22.55 612.00,23.36 612.50,23.03 613.00,23.38 613.50,22.72 614.00,22.62 614.50,22.79 615.00,22.97 615.50,22.58 616.00,22.87 616.50,22.76 617.00,23.25 617.50,22.58 618.00,23.10 618.50,22.60 619.00,22.51 619.50,22.59 620.00,22.45 620.50,22.86 621.00,23.13 621.50,22.88 622.00,23.03 622.50,23.34 623.00,22.93 623.50,22.92 624.00,22.79 624.50,22.39 625.00,23.11 625.50,22.37 626.00,23.00" fill="none" stroke="#ee7e80" stroke-width="5.8" stroke-linejoin="round" stroke-linecap="round" />
<polyline points="627.30,23.50 627.40,40.00 627.50,110.00 627.70,121.50" fill="none" stroke="#ee7e80" stroke-width="2.7" stroke-linejoin="round" stroke-linecap="round" />
<polyline points="628.60,123.00 630.50,124.40 631.00,124.63 631.50,124.44 632.00,124.80 632.50,124.45 633.00,124.24 633.50,124.61 634.00,124.35 634.50,124.48 635.00,124.56 635.50,124.52 636.00,124.52 636.50,124.35 637.00,124.55 637.50,123.98 638.00,124.59 638.50,124.30 639.00,125.01 639.50,125.07 640.00,124.11 640.50,124.76 641.00,124.69 641.50,124.43 642.00,124.92 642.50,124.64 643.00,124.26 643.50,124.72 644.00,124.78 644.50,124.87 645.00,124.48 645.50,125.05 646.00,125.10 646.50,124.55 647.00,124.71 647.50,124.90 648.00,124.77 648.50,125.48 649.00,125.03 649.50,124.68 650.00,124.76 650.50,125.00 651.00,125.72 651.50,124.99 652.00,125.10 652.50,125.23 653.00,125.08 653.50,125.79 654.00,124.96 654.50,125.36 655.00,125.20 655.50,125.35 656.00,124.83 656.50,125.73 657.00,125.17 657.50,125.24 658.00,124.96 658.50,125.04 659.00,125.44 659.50,125.58 660.00,125.53 660.50,125.68 661.00,125.54 661.50,125.35 662.00,125.61 662.50,125.55 663.00,125.36 663.50,125.62 664.00,125.81 664.50,125.51 665.00,125.34 665.50,125.68 666.00,126.05 666.50,125.43 667.00,125.48 667.50,125.48 668.00,125.91 668.50,125.00 669.00,125.68 669.50,125.94 670.00,125.36 670.50,126.06 671.00,125.79 671.50,125.48 672.00,125.72 672.50,125.21 673.00,125.52 673.50,126.25 674.00,125.45 674.50,126.29 675.00,125.73 675.50,126.06 676.00,125.79 676.50,125.12 677.00,125.64 677.50,125.88 678.00,125.49 678.50,125.45 679.00,125.98 679.50,125.69 680.00,125.39 680.50,125.71 681.00,126.19 681.50,125.80 682.00,126.24 682.50,126.43 683.00,126.00" fill="none" stroke="#ee7e80" stroke-width="5.8" stroke-linejoin="round" stroke-linecap="round" />
<circle cx="588.4" cy="19.8" r="1.4" fill="#ee7e80"/>
<text x="558.00" y="80.30" font-size="9.0" text-anchor="start" font-weight="normal" fill="#1a1a1a" >0.48 μs</text>
<text x="633.00" y="80.30" font-size="9.0" text-anchor="start" font-weight="normal" fill="#1a1a1a" >0.34 μs</text>
<rect x="515.20" y="8.50" width="169.30" height="130.40" fill="none" stroke="#1a1a1a" stroke-width="1.1"/>
<line x1="515.20" y1="128.10" x2="519.70" y2="128.10" stroke="#1a1a1a" stroke-width="1.0" />
<text x="510.40" y="131.50" font-size="9.4" text-anchor="end" font-weight="normal" fill="#1a1a1a" >0.0</text>
<line x1="515.20" y1="106.34" x2="519.70" y2="106.34" stroke="#1a1a1a" stroke-width="1.0" />
<text x="510.40" y="109.74" font-size="9.4" text-anchor="end" font-weight="normal" fill="#1a1a1a" >0.2</text>
<line x1="515.20" y1="84.58" x2="519.70" y2="84.58" stroke="#1a1a1a" stroke-width="1.0" />
<text x="510.40" y="87.98" font-size="9.4" text-anchor="end" font-weight="normal" fill="#1a1a1a" >0.4</text>
<line x1="515.20" y1="62.82" x2="519.70" y2="62.82" stroke="#1a1a1a" stroke-width="1.0" />
<text x="510.40" y="66.22" font-size="9.4" text-anchor="end" font-weight="normal" fill="#1a1a1a" >0.6</text>
<line x1="515.20" y1="41.06" x2="519.70" y2="41.06" stroke="#1a1a1a" stroke-width="1.0" />
<text x="510.40" y="44.46" font-size="9.4" text-anchor="end" font-weight="normal" fill="#1a1a1a" >0.8</text>
<line x1="515.20" y1="19.30" x2="519.70" y2="19.30" stroke="#1a1a1a" stroke-width="1.0" />
<text x="510.40" y="22.70" font-size="9.4" text-anchor="end" font-weight="normal" fill="#1a1a1a" >1.0</text>
<line x1="515.20" y1="117.22" x2="517.80" y2="117.22" stroke="#1a1a1a" stroke-width="0.9" />
<line x1="515.20" y1="95.46" x2="517.80" y2="95.46" stroke="#1a1a1a" stroke-width="0.9" />
<line x1="515.20" y1="73.70" x2="517.80" y2="73.70" stroke="#1a1a1a" stroke-width="0.9" />
<line x1="515.20" y1="51.94" x2="517.80" y2="51.94" stroke="#1a1a1a" stroke-width="0.9" />
<line x1="515.20" y1="30.18" x2="517.80" y2="30.18" stroke="#1a1a1a" stroke-width="0.9" />
<line x1="515.20" y1="138.90" x2="515.20" y2="134.40" stroke="#1a1a1a" stroke-width="1.0" />
<text x="515.20" y="152.60" font-size="9.4" text-anchor="middle" font-weight="normal" fill="#1a1a1a" >0</text>
<line x1="552.82" y1="138.90" x2="552.82" y2="134.40" stroke="#1a1a1a" stroke-width="1.0" />
<text x="552.82" y="152.60" font-size="9.4" text-anchor="middle" font-weight="normal" fill="#1a1a1a" >10</text>
<line x1="590.44" y1="138.90" x2="590.44" y2="134.40" stroke="#1a1a1a" stroke-width="1.0" />
<text x="590.44" y="152.60" font-size="9.4" text-anchor="middle" font-weight="normal" fill="#1a1a1a" >20</text>
<line x1="628.06" y1="138.90" x2="628.06" y2="134.40" stroke="#1a1a1a" stroke-width="1.0" />
<text x="628.06" y="152.60" font-size="9.4" text-anchor="middle" font-weight="normal" fill="#1a1a1a" >30</text>
<line x1="665.68" y1="138.90" x2="665.68" y2="134.40" stroke="#1a1a1a" stroke-width="1.0" />
<text x="665.68" y="152.60" font-size="9.4" text-anchor="middle" font-weight="normal" fill="#1a1a1a" >40</text>
<line x1="534.01" y1="138.90" x2="534.01" y2="136.30" stroke="#1a1a1a" stroke-width="0.9" />
<line x1="571.63" y1="138.90" x2="571.63" y2="136.30" stroke="#1a1a1a" stroke-width="0.9" />
<line x1="609.25" y1="138.90" x2="609.25" y2="136.30" stroke="#1a1a1a" stroke-width="0.9" />
<line x1="646.87" y1="138.90" x2="646.87" y2="136.30" stroke="#1a1a1a" stroke-width="0.9" />
<text x="600.00" y="168.00" font-size="9.0" text-anchor="middle" font-weight="normal" fill="#1a1a1a" >Time (μs)</text>
<text transform="translate(477.70,73.90) rotate(-90)" x="0" y="0" font-size="9.0" text-anchor="middle" fill="#1a1a1a">Normalized Photovoltage</text>
<text transform="translate(488.20,73.60) rotate(-90)" x="0" y="0" font-size="9.0" text-anchor="middle" fill="#1a1a1a">(a.u.)</text>
<text x="-0.80" y="194.50" font-size="15.5" text-anchor="start" font-weight="bold" fill="#000" >d</text>
<line x1="47.50" y1="233.50" x2="216.60" y2="233.50" stroke="#8a8a8a" stroke-width="1.2" stroke-dasharray="5.2 4.6"/>
<polyline points="58.10,196.30 116.60,194.80 146.20,194.20 155.20,194.00 160.40,194.00 175.70,193.50 180.90,193.70 184.20,193.50 189.60,192.80 193.70,194.00 196.40,198.00 198.60,205.40 200.40,211.50 202.00,217.10 203.60,222.80 204.70,241.40 206.50,259.20" fill="none" stroke="#ee7e80" stroke-width="1.0" stroke-linejoin="round" stroke-linecap="round" />
<circle cx="58.10" cy="196.30" r="1.35" fill="none" stroke="#ee7e80" stroke-width="0.8" />
<circle cx="116.60" cy="194.80" r="1.35" fill="none" stroke="#ee7e80" stroke-width="0.8" />
<circle cx="146.20" cy="194.20" r="1.35" fill="none" stroke="#ee7e80" stroke-width="0.8" />
<circle cx="155.20" cy="194.00" r="1.35" fill="none" stroke="#ee7e80" stroke-width="0.8" />
<circle cx="160.40" cy="194.00" r="1.35" fill="none" stroke="#ee7e80" stroke-width="0.8" />
<circle cx="175.70" cy="193.50" r="1.35" fill="none" stroke="#ee7e80" stroke-width="0.8" />
<circle cx="180.90" cy="193.70" r="1.35" fill="none" stroke="#ee7e80" stroke-width="0.8" />
<circle cx="184.20" cy="193.50" r="1.35" fill="none" stroke="#ee7e80" stroke-width="0.8" />
<circle cx="189.60" cy="192.80" r="1.35" fill="none" stroke="#ee7e80" stroke-width="0.8" />
<circle cx="193.70" cy="194.00" r="1.35" fill="none" stroke="#ee7e80" stroke-width="0.8" />
<circle cx="196.40" cy="198.00" r="1.35" fill="none" stroke="#ee7e80" stroke-width="0.8" />
<circle cx="198.60" cy="205.40" r="1.35" fill="none" stroke="#ee7e80" stroke-width="0.8" />
<circle cx="200.40" cy="211.50" r="1.35" fill="none" stroke="#ee7e80" stroke-width="0.8" />
<circle cx="202.00" cy="217.10" r="1.35" fill="none" stroke="#ee7e80" stroke-width="0.8" />
<circle cx="203.60" cy="222.80" r="1.35" fill="none" stroke="#ee7e80" stroke-width="0.8" />
<circle cx="204.70" cy="241.40" r="1.35" fill="none" stroke="#ee7e80" stroke-width="0.8" />
<circle cx="206.50" cy="259.20" r="1.35" fill="none" stroke="#ee7e80" stroke-width="0.8" />
<polyline points="58.10,196.30 116.60,196.30 146.20,196.30 155.20,197.60 160.40,201.80 175.70,220.50 180.90,232.00 184.20,248.60 189.60,269.60 193.50,281.70 196.20,293.40" fill="none" stroke="#3b79b7" stroke-width="1.2" stroke-linejoin="round" stroke-linecap="round" />
<circle cx="58.10" cy="196.30" r="1.35" fill="none" stroke="#3b79b7" stroke-width="0.8" />
<circle cx="116.60" cy="196.30" r="1.35" fill="none" stroke="#3b79b7" stroke-width="0.8" />
<circle cx="146.20" cy="196.30" r="1.35" fill="none" stroke="#3b79b7" stroke-width="0.8" />
<circle cx="155.20" cy="197.60" r="1.35" fill="none" stroke="#3b79b7" stroke-width="0.8" />
<circle cx="160.40" cy="201.80" r="1.35" fill="none" stroke="#3b79b7" stroke-width="0.8" />
<circle cx="175.70" cy="220.50" r="1.35" fill="none" stroke="#3b79b7" stroke-width="0.8" />
<circle cx="180.90" cy="232.00" r="1.35" fill="none" stroke="#3b79b7" stroke-width="0.8" />
<circle cx="184.20" cy="248.60" r="1.35" fill="none" stroke="#3b79b7" stroke-width="0.8" />
<circle cx="189.60" cy="269.60" r="1.35" fill="none" stroke="#3b79b7" stroke-width="0.8" />
<circle cx="193.50" cy="281.70" r="1.35" fill="none" stroke="#3b79b7" stroke-width="0.8" />
<circle cx="196.20" cy="293.40" r="1.35" fill="none" stroke="#3b79b7" stroke-width="0.8" />
<text x="55.80" y="208.90" font-size="9.0" text-anchor="start" font-weight="normal" fill="#1a1a1a" >-3 dB</text>
<polyline points="54.90,226.80 77.70,226.80" fill="none" stroke="#3b79b7" stroke-width="1.1" stroke-linejoin="round" stroke-linecap="round" />
<circle cx="66.30" cy="226.80" r="1.35" fill="none" stroke="#3b79b7" stroke-width="0.8" />
<text x="82.00" y="229.80" font-size="9.0" text-anchor="start" font-weight="normal" fill="#1a1a1a" >w/o Sn(SCN)<tspan dy="2.8" font-size="6.2">2</tspan></text>
<polyline points="54.90,241.70 77.70,241.70" fill="none" stroke="#ee7e80" stroke-width="1.1" stroke-linejoin="round" stroke-linecap="round" />
<circle cx="66.30" cy="241.70" r="1.35" fill="none" stroke="#ee7e80" stroke-width="0.8" />
<text x="82.00" y="244.70" font-size="9.0" text-anchor="start" font-weight="normal" fill="#1a1a1a" >with Sn(SCN)<tspan dy="2.8" font-size="6.2">2</tspan></text>
<text x="54.80" y="270.80" font-size="9.0" text-anchor="start" font-weight="normal" fill="#1a1a1a" >Cut-off Freq.</text>
<text x="54.80" y="285.00" font-size="9.0" text-anchor="start" font-weight="normal" fill="#1a1a1a" >w/o Sn(SCN)<tspan dy="2.8" font-size="6.2">2</tspan></text>
<text x="123.50" y="285.00" font-size="9.0" text-anchor="start" font-weight="normal" fill="#1a1a1a" >15.8 kHz</text>
<text x="54.80" y="299.60" font-size="9.0" text-anchor="start" font-weight="normal" fill="#1a1a1a" >with Sn(SCN)<tspan dy="2.8" font-size="6.2">2</tspan></text>
<text x="123.50" y="299.60" font-size="9.0" text-anchor="start" font-weight="normal" fill="#1a1a1a" >97.2 kHz</text>
<rect x="47.50" y="190.50" width="169.10" height="129.80" fill="none" stroke="#1a1a1a" stroke-width="1.1"/>
<line x1="47.50" y1="196.30" x2="52.00" y2="196.30" stroke="#1a1a1a" stroke-width="1.0" />
<text x="42.50" y="199.70" font-size="9.4" text-anchor="end" font-weight="normal" fill="#1a1a1a" >0</text>
<line x1="47.50" y1="258.30" x2="52.00" y2="258.30" stroke="#1a1a1a" stroke-width="1.0" />
<text x="42.50" y="261.70" font-size="9.4" text-anchor="end" font-weight="normal" fill="#1a1a1a" >−5</text>
<line x1="47.50" y1="320.30" x2="52.00" y2="320.30" stroke="#1a1a1a" stroke-width="1.0" />
<text x="42.50" y="323.70" font-size="9.4" text-anchor="end" font-weight="normal" fill="#1a1a1a" >−10</text>
<line x1="47.50" y1="227.30" x2="50.10" y2="227.30" stroke="#1a1a1a" stroke-width="0.9" />
<line x1="47.50" y1="289.30" x2="50.10" y2="289.30" stroke="#1a1a1a" stroke-width="0.9" />
<line x1="50.39" y1="320.30" x2="50.39" y2="317.70" stroke="#1a1a1a" stroke-width="1.0" />
<line x1="52.69" y1="320.30" x2="52.69" y2="317.70" stroke="#1a1a1a" stroke-width="1.0" />
<line x1="54.65" y1="320.30" x2="54.65" y2="317.70" stroke="#1a1a1a" stroke-width="1.0" />
<line x1="56.34" y1="320.30" x2="56.34" y2="317.70" stroke="#1a1a1a" stroke-width="1.0" />
<line x1="57.83" y1="320.30" x2="57.83" y2="317.70" stroke="#1a1a1a" stroke-width="1.0" />
<line x1="59.16" y1="320.30" x2="59.16" y2="315.80" stroke="#1a1a1a" stroke-width="1.0" />
<text x="52.69" y="334.60" font-size="9.4" text-anchor="start" font-weight="normal" fill="#1a1a1a" >10</text>
<text x="63.35" y="330.10" font-size="5.9" text-anchor="start" font-weight="normal" fill="#1a1a1a" >0</text>
<line x1="67.94" y1="320.30" x2="67.94" y2="317.70" stroke="#1a1a1a" stroke-width="1.0" />
<line x1="73.07" y1="320.30" x2="73.07" y2="317.70" stroke="#1a1a1a" stroke-width="1.0" />
<line x1="76.72" y1="320.30" x2="76.72" y2="317.70" stroke="#1a1a1a" stroke-width="1.0" />
<line x1="79.54" y1="320.30" x2="79.54" y2="317.70" stroke="#1a1a1a" stroke-width="1.0" />
<line x1="81.85" y1="320.30" x2="81.85" y2="317.70" stroke="#1a1a1a" stroke-width="1.0" />
<line x1="83.80" y1="320.30" x2="83.80" y2="317.70" stroke="#1a1a1a" stroke-width="1.0" />
<line x1="85.49" y1="320.30" x2="85.49" y2="317.70" stroke="#1a1a1a" stroke-width="1.0" />
<line x1="86.98" y1="320.30" x2="86.98" y2="317.70" stroke="#1a1a1a" stroke-width="1.0" />
<line x1="88.32" y1="320.30" x2="88.32" y2="315.80" stroke="#1a1a1a" stroke-width="1.0" />
<text x="81.85" y="334.60" font-size="9.4" text-anchor="start" font-weight="normal" fill="#1a1a1a" >10</text>
<text x="92.50" y="330.10" font-size="5.9" text-anchor="start" font-weight="normal" fill="#1a1a1a" >1</text>
<line x1="97.09" y1="320.30" x2="97.09" y2="317.70" stroke="#1a1a1a" stroke-width="1.0" />
<line x1="102.23" y1="320.30" x2="102.23" y2="317.70" stroke="#1a1a1a" stroke-width="1.0" />
<line x1="105.87" y1="320.30" x2="105.87" y2="317.70" stroke="#1a1a1a" stroke-width="1.0" />
<line x1="108.70" y1="320.30" x2="108.70" y2="317.70" stroke="#1a1a1a" stroke-width="1.0" />
<line x1="111.00" y1="320.30" x2="111.00" y2="317.70" stroke="#1a1a1a" stroke-width="1.0" />
<line x1="112.96" y1="320.30" x2="112.96" y2="317.70" stroke="#1a1a1a" stroke-width="1.0" />
<line x1="114.65" y1="320.30" x2="114.65" y2="317.70" stroke="#1a1a1a" stroke-width="1.0" />
<line x1="116.14" y1="320.30" x2="116.14" y2="317.70" stroke="#1a1a1a" stroke-width="1.0" />
<line x1="117.47" y1="320.30" x2="117.47" y2="315.80" stroke="#1a1a1a" stroke-width="1.0" />
<text x="111.00" y="334.60" font-size="9.4" text-anchor="start" font-weight="normal" fill="#1a1a1a" >10</text>
<text x="121.66" y="330.10" font-size="5.9" text-anchor="start" font-weight="normal" fill="#1a1a1a" >2</text>
<line x1="126.25" y1="320.30" x2="126.25" y2="317.70" stroke="#1a1a1a" stroke-width="1.0" />
<line x1="131.38" y1="320.30" x2="131.38" y2="317.70" stroke="#1a1a1a" stroke-width="1.0" />
<line x1="135.03" y1="320.30" x2="135.03" y2="317.70" stroke="#1a1a1a" stroke-width="1.0" />
<line x1="137.85" y1="320.30" x2="137.85" y2="317.70" stroke="#1a1a1a" stroke-width="1.0" />
<line x1="140.16" y1="320.30" x2="140.16" y2="317.70" stroke="#1a1a1a" stroke-width="1.0" />
<line x1="142.11" y1="320.30" x2="142.11" y2="317.70" stroke="#1a1a1a" stroke-width="1.0" />
<line x1="143.80" y1="320.30" x2="143.80" y2="317.70" stroke="#1a1a1a" stroke-width="1.0" />
<line x1="145.29" y1="320.30" x2="145.29" y2="317.70" stroke="#1a1a1a" stroke-width="1.0" />
<line x1="146.63" y1="320.30" x2="146.63" y2="315.80" stroke="#1a1a1a" stroke-width="1.0" />
<text x="140.16" y="334.60" font-size="9.4" text-anchor="start" font-weight="normal" fill="#1a1a1a" >10</text>
<text x="150.81" y="330.10" font-size="5.9" text-anchor="start" font-weight="normal" fill="#1a1a1a" >3</text>
<line x1="155.40" y1="320.30" x2="155.40" y2="317.70" stroke="#1a1a1a" stroke-width="1.0" />
<line x1="160.54" y1="320.30" x2="160.54" y2="317.70" stroke="#1a1a1a" stroke-width="1.0" />
<line x1="164.18" y1="320.30" x2="164.18" y2="317.70" stroke="#1a1a1a" stroke-width="1.0" />
<line x1="167.01" y1="320.30" x2="167.01" y2="317.70" stroke="#1a1a1a" stroke-width="1.0" />
<line x1="169.31" y1="320.30" x2="169.31" y2="317.70" stroke="#1a1a1a" stroke-width="1.0" />
<line x1="171.27" y1="320.30" x2="171.27" y2="317.70" stroke="#1a1a1a" stroke-width="1.0" />
<line x1="172.96" y1="320.30" x2="172.96" y2="317.70" stroke="#1a1a1a" stroke-width="1.0" />
<line x1="174.45" y1="320.30" x2="174.45" y2="317.70" stroke="#1a1a1a" stroke-width="1.0" />
<line x1="175.78" y1="320.30" x2="175.78" y2="315.80" stroke="#1a1a1a" stroke-width="1.0" />
<text x="169.32" y="334.60" font-size="9.4" text-anchor="start" font-weight="normal" fill="#1a1a1a" >10</text>
<text x="179.97" y="330.10" font-size="5.9" text-anchor="start" font-weight="normal" fill="#1a1a1a" >4</text>
<line x1="184.56" y1="320.30" x2="184.56" y2="317.70" stroke="#1a1a1a" stroke-width="1.0" />
<line x1="189.69" y1="320.30" x2="189.69" y2="317.70" stroke="#1a1a1a" stroke-width="1.0" />
<line x1="193.34" y1="320.30" x2="193.34" y2="317.70" stroke="#1a1a1a" stroke-width="1.0" />
<line x1="196.16" y1="320.30" x2="196.16" y2="317.70" stroke="#1a1a1a" stroke-width="1.0" />
<line x1="198.47" y1="320.30" x2="198.47" y2="317.70" stroke="#1a1a1a" stroke-width="1.0" />
<line x1="200.42" y1="320.30" x2="200.42" y2="317.70" stroke="#1a1a1a" stroke-width="1.0" />
<line x1="202.11" y1="320.30" x2="202.11" y2="317.70" stroke="#1a1a1a" stroke-width="1.0" />
<line x1="203.60" y1="320.30" x2="203.60" y2="317.70" stroke="#1a1a1a" stroke-width="1.0" />
<line x1="204.94" y1="320.30" x2="204.94" y2="315.80" stroke="#1a1a1a" stroke-width="1.0" />
<text x="198.47" y="334.60" font-size="9.4" text-anchor="start" font-weight="normal" fill="#1a1a1a" >10</text>
<text x="209.12" y="330.10" font-size="5.9" text-anchor="start" font-weight="normal" fill="#1a1a1a" >5</text>
<line x1="213.71" y1="320.30" x2="213.71" y2="317.70" stroke="#1a1a1a" stroke-width="1.0" />
<text x="131.90" y="348.50" font-size="9.0" text-anchor="middle" font-weight="normal" fill="#1a1a1a" >Light frequency (Hz)</text>
<text transform="translate(18.20,255.30) rotate(-90)" x="0" y="0" font-size="9.0" text-anchor="middle" fill="#1a1a1a">Relative response (dB)</text>
<text x="238.40" y="194.50" font-size="15.5" text-anchor="start" font-weight="bold" fill="#000" >e</text>
<polyline points="277.80,316.20 278.05,315.26 278.30,314.30 278.55,313.31 278.80,312.30 279.05,311.26 279.30,310.20 279.55,309.12 279.80,308.02 280.05,306.89 280.30,305.75 280.55,304.57 280.80,303.37 281.05,302.13 281.30,300.85 281.55,299.53 281.80,298.12 282.05,296.61 282.30,295.06 282.55,293.48 282.80,291.92 283.05,290.42 283.30,289.00 283.55,287.67 283.80,286.38 284.05,285.13 284.30,283.91 284.55,282.70 284.80,281.48 285.05,280.25 285.30,279.00 285.55,277.75 285.80,276.49 286.05,275.24 286.30,273.99 286.55,272.74 286.80,271.49 287.05,270.26 287.30,269.02 287.55,267.78 287.80,266.55 288.05,265.32 288.30,264.11 288.55,262.91 288.80,261.73 289.05,260.55 289.30,259.38 289.55,258.22 289.80,257.08 290.05,255.95 290.30,254.86 290.55,253.79 290.80,252.69 291.05,251.57 291.30,250.45 291.55,249.38 291.80,248.38 292.05,247.49 292.30,246.75 292.55,246.15 292.80,245.61 293.05,245.10 293.30,244.64 293.55,244.23 293.80,243.89 294.05,243.62 294.30,243.43 294.55,243.27 294.80,243.13 295.05,243.00 295.30,242.88 295.55,242.78 295.80,242.68 296.05,242.60 296.30,242.51 296.55,242.43 296.80,242.35 297.05,242.27 297.30,242.19 297.55,242.10 297.80,242.00 298.05,241.90 298.30,241.80 298.55,241.70 298.80,241.60 299.05,241.50 299.30,241.40 299.55,241.29 299.80,241.19 300.05,241.08 300.30,240.97 300.55,240.85 300.80,240.73 301.05,240.62 301.30,240.50 301.55,240.38 301.80,240.25 302.05,240.13 302.30,240.00 302.55,239.88 302.80,239.75 303.05,239.62 303.30,239.49 303.55,239.36 303.80,239.22 304.05,239.09 304.30,238.95 304.55,238.82 304.80,238.68 305.05,238.53 305.30,238.38 305.55,238.23 305.80,238.07 306.05,237.92 306.30,237.76 306.55,237.60 306.80,237.45 307.05,237.29 307.30,237.14 307.55,236.99 307.80,236.84 308.05,236.70 308.30,236.56 308.55,236.43 308.80,236.30 309.05,236.18 309.30,236.06 309.55,235.93 309.80,235.81 310.05,235.70 310.30,235.58 310.55,235.46 310.80,235.35 311.05,235.24 311.30,235.14 311.55,235.03 311.80,234.93 312.05,234.84 312.30,234.75 312.55,234.67 312.80,234.59 313.05,234.51 313.30,234.45 313.55,234.38 313.80,234.31 314.05,234.24 314.30,234.18 314.55,234.12 314.80,234.06 315.05,234.00 315.30,233.94 315.55,233.89 315.80,233.84 316.05,233.79 316.30,233.75 316.55,233.71 316.80,233.67 317.05,233.64 317.30,233.62 317.55,233.60 317.80,233.58 318.05,233.56 318.30,233.54 318.55,233.53 318.80,233.52 319.05,233.50 319.30,233.49 319.55,233.48 319.80,233.47 320.05,233.46 320.30,233.45 320.55,233.45 320.80,233.44 321.05,233.43 321.30,233.43 321.55,233.42 321.80,233.41 322.05,233.41 322.30,233.40 322.55,233.39 322.80,233.39 323.05,233.38 323.30,233.37 323.55,233.36 323.80,233.35 324.05,233.34 324.30,233.33 324.55,233.32 324.80,233.31 325.05,233.29 325.30,233.28 325.55,233.26 325.80,233.24 326.05,233.22 326.30,233.20 326.55,233.17 326.80,233.12 327.05,233.06 327.30,232.99 327.55,232.90 327.80,232.80 328.05,232.70 328.30,232.59 328.55,232.47 328.80,232.35 329.05,232.23 329.30,232.10 329.55,231.98 329.80,231.86 330.05,231.74 330.30,231.63 330.55,231.52 330.80,231.42 331.05,231.32 331.30,231.22 331.55,231.11 331.80,231.01 332.05,230.91 332.30,230.80 332.55,230.70 332.80,230.60 333.05,230.49 333.30,230.39 333.55,230.29 333.80,230.19 334.05,230.08 334.30,229.98 334.55,229.88 334.80,229.78 335.05,229.68 335.30,229.58 335.55,229.48 335.80,229.37 336.05,229.26 336.30,229.16 336.55,229.05 336.80,228.95 337.05,228.84 337.30,228.74 337.55,228.64 337.80,228.54 338.05,228.44 338.30,228.35 338.55,228.26 338.80,228.18 339.05,228.10 339.30,228.03 339.55,227.96 339.80,227.90 340.05,227.84 340.30,227.78 340.55,227.73 340.80,227.67 341.05,227.62 341.30,227.57 341.55,227.52 341.80,227.48 342.05,227.43 342.30,227.39 342.55,227.34 342.80,227.29 343.05,227.25 343.30,227.20 343.55,227.15 343.80,227.10 344.05,227.05 344.30,226.99 344.55,226.94 344.80,226.88 345.05,226.82 345.30,226.77 345.55,226.71 345.80,226.65 346.05,226.60 346.30,226.54 346.55,226.49 346.80,226.44 347.05,226.39 347.30,226.34 347.55,226.30 347.80,226.26 348.05,226.22 348.30,226.19 348.55,226.15 348.80,226.12 349.05,226.09 349.30,226.06 349.55,226.03 349.80,225.99 350.05,225.96 350.30,225.94 350.55,225.91 350.80,225.89 351.05,225.86 351.30,225.85 351.55,225.83 351.80,225.82 352.05,225.81 352.30,225.80 352.55,225.80 352.80,225.80 353.05,225.80 353.30,225.80 353.55,225.81 353.80,225.81 354.05,225.81 354.30,225.82 354.55,225.82 354.80,225.83 355.05,225.83 355.30,225.84 355.55,225.85 355.80,225.85 356.05,225.86 356.30,225.87 356.55,225.88 356.80,225.89 357.05,225.90 357.30,225.90 357.55,225.91 357.80,225.92 358.05,225.93 358.30,225.94 358.55,225.95 358.80,225.96 359.05,225.97 359.30,225.98 359.55,225.98 359.80,225.99 360.05,226.00 360.30,226.01 360.55,226.02 360.80,226.03 361.05,226.03 361.30,226.04 361.55,226.05 361.80,226.06 362.05,226.07 362.30,226.07 362.55,226.08 362.80,226.09 363.05,226.10 363.30,226.11 363.55,226.12 363.80,226.13 364.05,226.14 364.30,226.15 364.55,226.16 364.80,226.17 365.05,226.18 365.30,226.19 365.55,226.20 365.80,226.21 366.05,226.22 366.30,226.24 366.55,226.25 366.80,226.26 367.05,226.28 367.30,226.29 367.55,226.31 367.80,226.33 368.05,226.34 368.30,226.36 368.55,226.38 368.80,226.40 369.05,226.42 369.30,226.45 369.55,226.48 369.80,226.51 370.05,226.55 370.30,226.60 370.55,226.64 370.80,226.69 371.05,226.75 371.30,226.81 371.55,226.87 371.80,226.93 372.05,226.99 372.30,227.06 372.55,227.13 372.80,227.21 373.05,227.28 373.30,227.36 373.55,227.44 373.80,227.52 374.05,227.60 374.30,227.68 374.55,227.77 374.80,227.85 375.05,227.94 375.30,228.02 375.55,228.11 375.80,228.20 376.05,228.29 376.30,228.39 376.55,228.50 376.80,228.61 377.05,228.73 377.30,228.85 377.55,228.98 377.80,229.11 378.05,229.25 378.30,229.39 378.55,229.53 378.80,229.67 379.05,229.81 379.30,229.95 379.55,230.09 379.80,230.23 380.05,230.37 380.30,230.51 380.55,230.65 380.80,230.80 381.05,230.95 381.30,231.11 381.55,231.26 381.80,231.42 382.05,231.58 382.30,231.74 382.55,231.89 382.80,232.05 383.05,232.20 383.30,232.35 383.55,232.49 383.80,232.64 384.05,232.77 384.30,232.90 384.55,233.02 384.80,233.14 385.05,233.26 385.30,233.37 385.55,233.48 385.80,233.58 386.05,233.69 386.30,233.79 386.55,233.89 386.80,233.99 387.05,234.08 387.30,234.18 387.55,234.28 387.80,234.37 388.05,234.47 388.30,234.57 388.55,234.66 388.80,234.76 389.05,234.86 389.30,234.97 389.55,235.09 389.80,235.21 390.05,235.34 390.30,235.47 390.55,235.59 390.80,235.72 391.05,235.84 391.30,235.96 391.55,236.07 391.80,236.18 392.05,236.27 392.30,236.35 392.55,236.41 392.80,236.46 393.05,236.49 393.30,236.50 393.55,236.50 393.80,236.50 394.05,236.50 394.30,236.50 394.55,236.50 394.80,236.50 395.05,236.50 395.30,236.50 395.55,236.50 395.80,236.50 396.05,236.50 396.30,236.50 396.55,236.50 396.80,236.50 397.05,236.48 397.30,236.43 397.55,236.34 397.80,236.23 398.05,236.10 398.30,235.96 398.55,235.81 398.80,235.66 399.05,235.51 399.30,235.37 399.55,235.25 399.80,235.14 400.05,235.06 400.30,235.01 400.55,235.00 400.80,235.00 401.05,235.01 401.30,235.02 401.55,235.04 401.80,235.05 402.05,235.08 402.30,235.10 402.55,235.13 402.80,235.16 403.05,235.20 403.30,235.23 403.55,235.27 403.80,235.32 404.05,235.41 404.30,235.54 404.55,235.70 404.80,235.90 405.05,236.12 405.30,236.36 405.55,236.61 405.80,236.88 406.05,237.14 406.30,237.40 406.55,237.65 406.80,237.89 407.05,238.13 407.30,238.38 407.55,238.63 407.80,238.89 408.05,239.16 408.30,239.44 408.55,239.74 408.80,240.06 409.05,240.39 409.30,240.75 409.55,241.14 409.80,241.61 410.05,242.13 410.30,242.69 410.55,243.26 410.80,243.83 411.05,244.39 411.30,244.90 411.55,245.37 411.80,245.82 412.05,246.26 412.30,246.71 412.55,247.18 412.80,247.70 413.05,248.28 413.30,248.93 413.55,249.67 413.80,250.50 414.05,251.38 414.30,252.32 414.55,253.30 414.80,254.38 415.05,255.57 415.30,256.80 415.55,258.05 415.80,259.27 416.05,260.54 416.30,261.91 416.55,263.49 416.80,265.39 417.05,267.33 417.30,269.00 417.55,270.28 417.80,271.36 418.05,272.35 418.30,273.39 418.55,274.62 418.80,276.22 419.05,278.54 419.30,281.15 419.55,283.43 419.80,285.12 420.05,286.62 420.30,287.99 420.55,289.25 420.80,290.45 421.05,291.61 421.30,292.76 421.55,293.89 421.80,294.98 422.05,296.02 422.30,297.02 422.55,297.96 422.80,298.85 423.05,299.70 423.30,300.53 423.55,301.31 423.80,302.04 424.05,302.72 424.30,303.34 424.55,303.93 424.80,304.48 425.05,305.01 425.30,305.51 425.55,306.00 425.80,306.46 426.05,306.91 426.30,307.35 426.55,307.79 426.80,308.21 427.05,308.63 427.30,309.05 427.55,309.46 427.80,309.85 428.05,310.24 428.30,310.61 428.55,310.97 428.80,311.32 429.05,311.65 429.30,311.96 429.55,312.24 429.80,312.52 430.05,312.79 430.30,313.05 430.55,313.31 430.80,313.56 431.05,313.80 431.30,314.04 431.55,314.27 431.80,314.49 432.05,314.71 432.30,314.92 432.55,315.11 432.80,315.31 433.05,315.49 433.30,315.66 433.55,315.82 433.80,315.98 434.05,316.12 434.30,316.25 434.55,316.38 434.80,316.51 435.05,316.63 435.30,316.75 435.55,316.86 435.80,316.97 436.05,317.08 436.30,317.19 436.55,317.29 436.80,317.39 437.05,317.49 437.30,317.58 437.55,317.67 437.80,317.76 438.05,317.84 438.30,317.93 438.55,318.00 438.80,318.08 439.05,318.15 439.30,318.22 439.55,318.29 439.80,318.36 440.05,318.42 440.30,318.48 440.55,318.53 440.80,318.59 441.05,318.65 441.30,318.70 441.55,318.75 441.80,318.81 442.05,318.86 442.30,318.91 442.55,318.96 442.80,319.01 443.05,319.05 443.30,319.10 443.55,319.14 443.80,319.19 444.05,319.23 444.30,319.26 444.55,319.30 444.80,319.33 445.05,319.37 445.30,319.39 445.55,319.42 445.80,319.45 446.05,319.47 446.30,319.49" fill="none" stroke="#3b79b7" stroke-width="0.7" stroke-linejoin="round" stroke-linecap="round" />
<circle cx="277.80" cy="316.20" r="1.45" fill="#bcd3ea" stroke="#3b79b7" stroke-width="0.85" />
<circle cx="278.86" cy="312.05" r="1.45" fill="#bcd3ea" stroke="#3b79b7" stroke-width="0.85" />
<circle cx="279.92" cy="307.48" r="1.45" fill="#bcd3ea" stroke="#3b79b7" stroke-width="0.85" />
<circle cx="280.98" cy="302.48" r="1.45" fill="#bcd3ea" stroke="#3b79b7" stroke-width="0.85" />
<circle cx="282.04" cy="296.67" r="1.45" fill="#bcd3ea" stroke="#3b79b7" stroke-width="0.85" />
<circle cx="283.10" cy="290.13" r="1.45" fill="#bcd3ea" stroke="#3b79b7" stroke-width="0.85" />
<circle cx="284.16" cy="284.59" r="1.45" fill="#bcd3ea" stroke="#3b79b7" stroke-width="0.85" />
<circle cx="285.22" cy="279.40" r="1.45" fill="#bcd3ea" stroke="#3b79b7" stroke-width="0.85" />
<circle cx="286.28" cy="274.09" r="1.45" fill="#bcd3ea" stroke="#3b79b7" stroke-width="0.85" />
<circle cx="287.34" cy="268.82" r="1.45" fill="#bcd3ea" stroke="#3b79b7" stroke-width="0.85" />
<circle cx="288.40" cy="263.63" r="1.45" fill="#bcd3ea" stroke="#3b79b7" stroke-width="0.85" />
<circle cx="289.46" cy="258.64" r="1.45" fill="#bcd3ea" stroke="#3b79b7" stroke-width="0.85" />
<circle cx="290.52" cy="253.92" r="1.45" fill="#bcd3ea" stroke="#3b79b7" stroke-width="0.85" />
<circle cx="291.58" cy="249.25" r="1.45" fill="#bcd3ea" stroke="#3b79b7" stroke-width="0.85" />
<circle cx="292.64" cy="245.95" r="1.45" fill="#bcd3ea" stroke="#3b79b7" stroke-width="0.85" />
<circle cx="293.70" cy="244.02" r="1.45" fill="#bcd3ea" stroke="#3b79b7" stroke-width="0.85" />
<circle cx="294.76" cy="243.15" r="1.45" fill="#bcd3ea" stroke="#3b79b7" stroke-width="0.85" />
<circle cx="295.82" cy="242.68" r="1.45" fill="#bcd3ea" stroke="#3b79b7" stroke-width="0.85" />
<circle cx="296.88" cy="242.33" r="1.45" fill="#bcd3ea" stroke="#3b79b7" stroke-width="0.85" />
<circle cx="297.94" cy="241.94" r="1.45" fill="#bcd3ea" stroke="#3b79b7" stroke-width="0.85" />
<circle cx="299.00" cy="241.52" r="1.45" fill="#bcd3ea" stroke="#3b79b7" stroke-width="0.85" />
<circle cx="300.06" cy="241.07" r="1.45" fill="#bcd3ea" stroke="#3b79b7" stroke-width="0.85" />
<circle cx="301.12" cy="240.58" r="1.45" fill="#bcd3ea" stroke="#3b79b7" stroke-width="0.85" />
<circle cx="302.18" cy="240.06" r="1.45" fill="#bcd3ea" stroke="#3b79b7" stroke-width="0.85" />
<circle cx="303.24" cy="239.52" r="1.45" fill="#bcd3ea" stroke="#3b79b7" stroke-width="0.85" />
<circle cx="304.30" cy="238.95" r="1.45" fill="#bcd3ea" stroke="#3b79b7" stroke-width="0.85" />
<circle cx="305.36" cy="238.35" r="1.45" fill="#bcd3ea" stroke="#3b79b7" stroke-width="0.85" />
<circle cx="306.42" cy="237.68" r="1.45" fill="#bcd3ea" stroke="#3b79b7" stroke-width="0.85" />
<circle cx="307.48" cy="237.03" r="1.45" fill="#bcd3ea" stroke="#3b79b7" stroke-width="0.85" />
<circle cx="308.54" cy="236.43" r="1.45" fill="#bcd3ea" stroke="#3b79b7" stroke-width="0.85" />
<circle cx="309.60" cy="235.91" r="1.45" fill="#bcd3ea" stroke="#3b79b7" stroke-width="0.85" />
<circle cx="310.66" cy="235.41" r="1.45" fill="#bcd3ea" stroke="#3b79b7" stroke-width="0.85" />
<circle cx="311.72" cy="234.97" r="1.45" fill="#bcd3ea" stroke="#3b79b7" stroke-width="0.85" />
<circle cx="312.78" cy="234.59" r="1.45" fill="#bcd3ea" stroke="#3b79b7" stroke-width="0.85" />
<circle cx="313.84" cy="234.30" r="1.45" fill="#bcd3ea" stroke="#3b79b7" stroke-width="0.85" />
<circle cx="314.90" cy="234.03" r="1.45" fill="#bcd3ea" stroke="#3b79b7" stroke-width="0.85" />
<circle cx="315.96" cy="233.81" r="1.45" fill="#bcd3ea" stroke="#3b79b7" stroke-width="0.85" />
<circle cx="317.02" cy="233.65" r="1.45" fill="#bcd3ea" stroke="#3b79b7" stroke-width="0.85" />
<circle cx="318.08" cy="233.56" r="1.45" fill="#bcd3ea" stroke="#3b79b7" stroke-width="0.85" />
<circle cx="319.14" cy="233.50" r="1.45" fill="#bcd3ea" stroke="#3b79b7" stroke-width="0.85" />
<circle cx="320.20" cy="233.46" r="1.45" fill="#bcd3ea" stroke="#3b79b7" stroke-width="0.85" />
<circle cx="321.26" cy="233.43" r="1.45" fill="#bcd3ea" stroke="#3b79b7" stroke-width="0.85" />
<circle cx="322.32" cy="233.40" r="1.45" fill="#bcd3ea" stroke="#3b79b7" stroke-width="0.85" />
<circle cx="323.38" cy="233.37" r="1.45" fill="#bcd3ea" stroke="#3b79b7" stroke-width="0.85" />
<circle cx="324.44" cy="233.32" r="1.45" fill="#bcd3ea" stroke="#3b79b7" stroke-width="0.85" />
<circle cx="325.50" cy="233.26" r="1.45" fill="#bcd3ea" stroke="#3b79b7" stroke-width="0.85" />
<circle cx="326.56" cy="233.17" r="1.45" fill="#bcd3ea" stroke="#3b79b7" stroke-width="0.85" />
<circle cx="327.62" cy="232.87" r="1.45" fill="#bcd3ea" stroke="#3b79b7" stroke-width="0.85" />
<circle cx="328.68" cy="232.41" r="1.45" fill="#bcd3ea" stroke="#3b79b7" stroke-width="0.85" />
<circle cx="329.74" cy="231.89" r="1.45" fill="#bcd3ea" stroke="#3b79b7" stroke-width="0.85" />
<circle cx="330.80" cy="231.42" r="1.45" fill="#bcd3ea" stroke="#3b79b7" stroke-width="0.85" />
<circle cx="331.86" cy="230.99" r="1.45" fill="#bcd3ea" stroke="#3b79b7" stroke-width="0.85" />
<circle cx="332.92" cy="230.55" r="1.45" fill="#bcd3ea" stroke="#3b79b7" stroke-width="0.85" />
<circle cx="333.98" cy="230.11" r="1.45" fill="#bcd3ea" stroke="#3b79b7" stroke-width="0.85" />
<circle cx="335.04" cy="229.68" r="1.45" fill="#bcd3ea" stroke="#3b79b7" stroke-width="0.85" />
<circle cx="336.10" cy="229.24" r="1.45" fill="#bcd3ea" stroke="#3b79b7" stroke-width="0.85" />
<circle cx="337.16" cy="228.80" r="1.45" fill="#bcd3ea" stroke="#3b79b7" stroke-width="0.85" />
<circle cx="338.22" cy="228.38" r="1.45" fill="#bcd3ea" stroke="#3b79b7" stroke-width="0.85" />
<circle cx="339.28" cy="228.03" r="1.45" fill="#bcd3ea" stroke="#3b79b7" stroke-width="0.85" />
<circle cx="340.34" cy="227.77" r="1.45" fill="#bcd3ea" stroke="#3b79b7" stroke-width="0.85" />
<circle cx="341.40" cy="227.55" r="1.45" fill="#bcd3ea" stroke="#3b79b7" stroke-width="0.85" />
<circle cx="342.46" cy="227.36" r="1.45" fill="#bcd3ea" stroke="#3b79b7" stroke-width="0.85" />
<circle cx="343.52" cy="227.16" r="1.45" fill="#bcd3ea" stroke="#3b79b7" stroke-width="0.85" />
<circle cx="344.58" cy="226.93" r="1.45" fill="#bcd3ea" stroke="#3b79b7" stroke-width="0.85" />
<circle cx="345.64" cy="226.69" r="1.45" fill="#bcd3ea" stroke="#3b79b7" stroke-width="0.85" />
<circle cx="346.70" cy="226.46" r="1.45" fill="#bcd3ea" stroke="#3b79b7" stroke-width="0.85" />
<circle cx="347.76" cy="226.26" r="1.45" fill="#bcd3ea" stroke="#3b79b7" stroke-width="0.85" />
<circle cx="348.82" cy="226.12" r="1.45" fill="#bcd3ea" stroke="#3b79b7" stroke-width="0.85" />
<circle cx="349.88" cy="225.98" r="1.45" fill="#bcd3ea" stroke="#3b79b7" stroke-width="0.85" />
<circle cx="350.94" cy="225.87" r="1.45" fill="#bcd3ea" stroke="#3b79b7" stroke-width="0.85" />
<circle cx="352.00" cy="225.81" r="1.45" fill="#bcd3ea" stroke="#3b79b7" stroke-width="0.85" />
<circle cx="353.06" cy="225.80" r="1.45" fill="#bcd3ea" stroke="#3b79b7" stroke-width="0.85" />
<circle cx="354.12" cy="225.81" r="1.45" fill="#bcd3ea" stroke="#3b79b7" stroke-width="0.85" />
<circle cx="355.18" cy="225.84" r="1.45" fill="#bcd3ea" stroke="#3b79b7" stroke-width="0.85" />
<circle cx="356.24" cy="225.87" r="1.45" fill="#bcd3ea" stroke="#3b79b7" stroke-width="0.85" />
<circle cx="357.30" cy="225.90" r="1.45" fill="#bcd3ea" stroke="#3b79b7" stroke-width="0.85" />
<circle cx="358.36" cy="225.94" r="1.45" fill="#bcd3ea" stroke="#3b79b7" stroke-width="0.85" />
<circle cx="359.42" cy="225.98" r="1.45" fill="#bcd3ea" stroke="#3b79b7" stroke-width="0.85" />
<circle cx="360.48" cy="226.02" r="1.45" fill="#bcd3ea" stroke="#3b79b7" stroke-width="0.85" />
<circle cx="361.54" cy="226.05" r="1.45" fill="#bcd3ea" stroke="#3b79b7" stroke-width="0.85" />
<circle cx="362.60" cy="226.08" r="1.45" fill="#bcd3ea" stroke="#3b79b7" stroke-width="0.85" />
<circle cx="363.66" cy="226.12" r="1.45" fill="#bcd3ea" stroke="#3b79b7" stroke-width="0.85" />
<circle cx="364.72" cy="226.16" r="1.45" fill="#bcd3ea" stroke="#3b79b7" stroke-width="0.85" />
<circle cx="365.78" cy="226.21" r="1.45" fill="#bcd3ea" stroke="#3b79b7" stroke-width="0.85" />
<circle cx="366.84" cy="226.27" r="1.45" fill="#bcd3ea" stroke="#3b79b7" stroke-width="0.85" />
<circle cx="367.90" cy="226.33" r="1.45" fill="#bcd3ea" stroke="#3b79b7" stroke-width="0.85" />
<circle cx="368.96" cy="226.41" r="1.45" fill="#bcd3ea" stroke="#3b79b7" stroke-width="0.85" />
<circle cx="370.02" cy="226.55" r="1.45" fill="#bcd3ea" stroke="#3b79b7" stroke-width="0.85" />
<circle cx="371.08" cy="226.75" r="1.45" fill="#bcd3ea" stroke="#3b79b7" stroke-width="0.85" />
<circle cx="372.14" cy="227.02" r="1.45" fill="#bcd3ea" stroke="#3b79b7" stroke-width="0.85" />
<circle cx="373.20" cy="227.33" r="1.45" fill="#bcd3ea" stroke="#3b79b7" stroke-width="0.85" />
<circle cx="374.26" cy="227.67" r="1.45" fill="#bcd3ea" stroke="#3b79b7" stroke-width="0.85" />
<circle cx="375.32" cy="228.03" r="1.45" fill="#bcd3ea" stroke="#3b79b7" stroke-width="0.85" />
<circle cx="376.38" cy="228.42" r="1.45" fill="#bcd3ea" stroke="#3b79b7" stroke-width="0.85" />
<circle cx="377.44" cy="228.92" r="1.45" fill="#bcd3ea" stroke="#3b79b7" stroke-width="0.85" />
<circle cx="378.50" cy="229.50" r="1.45" fill="#bcd3ea" stroke="#3b79b7" stroke-width="0.85" />
<circle cx="379.56" cy="230.10" r="1.45" fill="#bcd3ea" stroke="#3b79b7" stroke-width="0.85" />
<circle cx="380.62" cy="230.70" r="1.45" fill="#bcd3ea" stroke="#3b79b7" stroke-width="0.85" />
<circle cx="381.68" cy="231.35" r="1.45" fill="#bcd3ea" stroke="#3b79b7" stroke-width="0.85" />
<circle cx="382.74" cy="232.01" r="1.45" fill="#bcd3ea" stroke="#3b79b7" stroke-width="0.85" />
<circle cx="383.80" cy="232.64" r="1.45" fill="#bcd3ea" stroke="#3b79b7" stroke-width="0.85" />
<circle cx="384.86" cy="233.17" r="1.45" fill="#bcd3ea" stroke="#3b79b7" stroke-width="0.85" />
<circle cx="385.92" cy="233.63" r="1.45" fill="#bcd3ea" stroke="#3b79b7" stroke-width="0.85" />
<circle cx="386.98" cy="234.06" r="1.45" fill="#bcd3ea" stroke="#3b79b7" stroke-width="0.85" />
<circle cx="388.04" cy="234.46" r="1.45" fill="#bcd3ea" stroke="#3b79b7" stroke-width="0.85" />
<circle cx="389.10" cy="234.88" r="1.45" fill="#bcd3ea" stroke="#3b79b7" stroke-width="0.85" />
<circle cx="390.16" cy="235.39" r="1.45" fill="#bcd3ea" stroke="#3b79b7" stroke-width="0.85" />
<circle cx="391.22" cy="235.93" r="1.45" fill="#bcd3ea" stroke="#3b79b7" stroke-width="0.85" />
<circle cx="392.28" cy="236.34" r="1.45" fill="#bcd3ea" stroke="#3b79b7" stroke-width="0.85" />
<circle cx="393.34" cy="236.50" r="1.45" fill="#bcd3ea" stroke="#3b79b7" stroke-width="0.85" />
<circle cx="394.40" cy="236.50" r="1.45" fill="#bcd3ea" stroke="#3b79b7" stroke-width="0.85" />
<circle cx="395.46" cy="236.50" r="1.45" fill="#bcd3ea" stroke="#3b79b7" stroke-width="0.85" />
<circle cx="396.52" cy="236.50" r="1.45" fill="#bcd3ea" stroke="#3b79b7" stroke-width="0.85" />
<circle cx="397.58" cy="236.33" r="1.45" fill="#bcd3ea" stroke="#3b79b7" stroke-width="0.85" />
<circle cx="398.64" cy="235.76" r="1.45" fill="#bcd3ea" stroke="#3b79b7" stroke-width="0.85" />
<circle cx="399.70" cy="235.18" r="1.45" fill="#bcd3ea" stroke="#3b79b7" stroke-width="0.85" />
<circle cx="400.76" cy="235.00" r="1.45" fill="#bcd3ea" stroke="#3b79b7" stroke-width="0.85" />
<circle cx="401.82" cy="235.06" r="1.45" fill="#bcd3ea" stroke="#3b79b7" stroke-width="0.85" />
<circle cx="402.88" cy="235.17" r="1.45" fill="#bcd3ea" stroke="#3b79b7" stroke-width="0.85" />
<circle cx="403.94" cy="235.36" r="1.45" fill="#bcd3ea" stroke="#3b79b7" stroke-width="0.85" />
<circle cx="405.00" cy="236.07" r="1.45" fill="#bcd3ea" stroke="#3b79b7" stroke-width="0.85" />
<circle cx="406.06" cy="237.15" r="1.45" fill="#bcd3ea" stroke="#3b79b7" stroke-width="0.85" />
<circle cx="407.12" cy="238.20" r="1.45" fill="#bcd3ea" stroke="#3b79b7" stroke-width="0.85" />
<circle cx="408.18" cy="239.31" r="1.45" fill="#bcd3ea" stroke="#3b79b7" stroke-width="0.85" />
<circle cx="409.24" cy="240.66" r="1.45" fill="#bcd3ea" stroke="#3b79b7" stroke-width="0.85" />
<circle cx="410.30" cy="242.69" r="1.45" fill="#bcd3ea" stroke="#3b79b7" stroke-width="0.85" />
<circle cx="411.36" cy="245.02" r="1.45" fill="#bcd3ea" stroke="#3b79b7" stroke-width="0.85" />
<circle cx="412.42" cy="246.93" r="1.45" fill="#bcd3ea" stroke="#3b79b7" stroke-width="0.85" />
<circle cx="413.48" cy="249.46" r="1.45" fill="#bcd3ea" stroke="#3b79b7" stroke-width="0.85" />
<circle cx="414.54" cy="253.26" r="1.45" fill="#bcd3ea" stroke="#3b79b7" stroke-width="0.85" />
<circle cx="415.60" cy="258.29" r="1.45" fill="#bcd3ea" stroke="#3b79b7" stroke-width="0.85" />
<circle cx="416.66" cy="264.30" r="1.45" fill="#bcd3ea" stroke="#3b79b7" stroke-width="0.85" />
<circle cx="417.72" cy="271.03" r="1.45" fill="#bcd3ea" stroke="#3b79b7" stroke-width="0.85" />
<circle cx="418.78" cy="276.06" r="1.45" fill="#bcd3ea" stroke="#3b79b7" stroke-width="0.85" />
<circle cx="419.84" cy="285.37" r="1.45" fill="#bcd3ea" stroke="#3b79b7" stroke-width="0.85" />
<circle cx="420.90" cy="290.91" r="1.45" fill="#bcd3ea" stroke="#3b79b7" stroke-width="0.85" />
<circle cx="421.96" cy="295.65" r="1.45" fill="#bcd3ea" stroke="#3b79b7" stroke-width="0.85" />
<circle cx="423.02" cy="299.60" r="1.45" fill="#bcd3ea" stroke="#3b79b7" stroke-width="0.85" />
<circle cx="424.08" cy="302.80" r="1.45" fill="#bcd3ea" stroke="#3b79b7" stroke-width="0.85" />
<circle cx="425.14" cy="305.19" r="1.45" fill="#bcd3ea" stroke="#3b79b7" stroke-width="0.85" />
<circle cx="426.20" cy="307.18" r="1.45" fill="#bcd3ea" stroke="#3b79b7" stroke-width="0.85" />
<circle cx="427.26" cy="308.98" r="1.45" fill="#bcd3ea" stroke="#3b79b7" stroke-width="0.85" />
<circle cx="428.32" cy="310.64" r="1.45" fill="#bcd3ea" stroke="#3b79b7" stroke-width="0.85" />
<circle cx="429.38" cy="312.05" r="1.45" fill="#bcd3ea" stroke="#3b79b7" stroke-width="0.85" />
<circle cx="430.44" cy="313.19" r="1.45" fill="#bcd3ea" stroke="#3b79b7" stroke-width="0.85" />
<circle cx="431.50" cy="314.22" r="1.45" fill="#bcd3ea" stroke="#3b79b7" stroke-width="0.85" />
<circle cx="432.56" cy="315.12" r="1.45" fill="#bcd3ea" stroke="#3b79b7" stroke-width="0.85" />
<circle cx="433.62" cy="315.87" r="1.45" fill="#bcd3ea" stroke="#3b79b7" stroke-width="0.85" />
<circle cx="434.68" cy="316.45" r="1.45" fill="#bcd3ea" stroke="#3b79b7" stroke-width="0.85" />
<circle cx="435.74" cy="316.95" r="1.45" fill="#bcd3ea" stroke="#3b79b7" stroke-width="0.85" />
<circle cx="436.80" cy="317.39" r="1.45" fill="#bcd3ea" stroke="#3b79b7" stroke-width="0.85" />
<circle cx="437.86" cy="317.78" r="1.45" fill="#bcd3ea" stroke="#3b79b7" stroke-width="0.85" />
<circle cx="438.92" cy="318.12" r="1.45" fill="#bcd3ea" stroke="#3b79b7" stroke-width="0.85" />
<circle cx="439.98" cy="318.40" r="1.45" fill="#bcd3ea" stroke="#3b79b7" stroke-width="0.85" />
<circle cx="441.04" cy="318.64" r="1.45" fill="#bcd3ea" stroke="#3b79b7" stroke-width="0.85" />
<circle cx="442.10" cy="318.87" r="1.45" fill="#bcd3ea" stroke="#3b79b7" stroke-width="0.85" />
<circle cx="443.16" cy="319.07" r="1.45" fill="#bcd3ea" stroke="#3b79b7" stroke-width="0.85" />
<circle cx="444.22" cy="319.25" r="1.45" fill="#bcd3ea" stroke="#3b79b7" stroke-width="0.85" />
<circle cx="445.28" cy="319.39" r="1.45" fill="#bcd3ea" stroke="#3b79b7" stroke-width="0.85" />
<circle cx="446.34" cy="319.49" r="1.45" fill="#bcd3ea" stroke="#3b79b7" stroke-width="0.85" />
<polyline points="277.80,315.90 278.05,314.96 278.30,314.00 278.55,313.01 278.80,312.00 279.05,310.96 279.30,309.90 279.55,308.82 279.80,307.72 280.05,306.60 280.30,305.45 280.55,304.28 280.80,303.08 281.05,301.84 281.30,300.56 281.55,299.23 281.80,297.81 282.05,296.29 282.30,294.72 282.55,293.13 282.80,291.56 283.05,290.03 283.30,288.60 283.55,287.25 283.80,285.95 284.05,284.69 284.30,283.45 284.55,282.22 284.80,280.99 285.05,279.75 285.30,278.50 285.55,277.25 285.80,276.00 286.05,274.75 286.30,273.50 286.55,272.25 286.80,271.00 287.05,269.75 287.30,268.48 287.55,267.22 287.80,265.96 288.05,264.69 288.30,263.42 288.55,262.16 288.80,260.89 289.05,259.62 289.30,258.35 289.55,257.07 289.80,255.80 290.05,254.54 290.30,253.29 290.55,252.05 290.80,250.78 291.05,249.46 291.30,248.15 291.55,246.86 291.80,245.65 292.05,244.53 292.30,243.55 292.55,242.70 292.80,241.89 293.05,241.10 293.30,240.38 293.55,239.74 293.80,239.20 294.05,238.78 294.30,238.50 294.55,238.27 294.80,238.06 295.05,237.88 295.30,237.71 295.55,237.57 295.80,237.43 296.05,237.31 296.30,237.19 296.55,237.08 296.80,236.97 297.05,236.86 297.30,236.75 297.55,236.63 297.80,236.50 298.05,236.37 298.30,236.24 298.55,236.11 298.80,235.98 299.05,235.85 299.30,235.73 299.55,235.61 299.80,235.49 300.05,235.38 300.30,235.27 300.55,235.17 300.80,235.07 301.05,234.97 301.30,234.88 301.55,234.80 301.80,234.71 302.05,234.62 302.30,234.53 302.55,234.44 302.80,234.35 303.05,234.25 303.30,234.14 303.55,234.03 303.80,233.92 304.05,233.79 304.30,233.66 304.55,233.51 304.80,233.34 305.05,233.15 305.30,232.94 305.55,232.71 305.80,232.47 306.05,232.21 306.30,231.95 306.55,231.68 306.80,231.40 307.05,231.12 307.30,230.84 307.55,230.57 307.80,230.29 308.05,230.03 308.30,229.77 308.55,229.53 308.80,229.30 309.05,229.07 309.30,228.84 309.55,228.60 309.80,228.36 310.05,228.11 310.30,227.87 310.55,227.62 310.80,227.39 311.05,227.16 311.30,226.94 311.55,226.73 311.80,226.53 312.05,226.35 312.30,226.18 312.55,226.04 312.80,225.92 313.05,225.82 313.30,225.73 313.55,225.65 313.80,225.58 314.05,225.50 314.30,225.43 314.55,225.36 314.80,225.29 315.05,225.23 315.30,225.17 315.55,225.12 315.80,225.07 316.05,225.02 316.30,224.99 316.55,224.96 316.80,224.93 317.05,224.91 317.30,224.90 317.55,224.90 317.80,224.90 318.05,224.90 318.30,224.90 318.55,224.90 318.80,224.90 319.05,224.90 319.30,224.90 319.55,224.90 319.80,224.90 320.05,224.90 320.30,224.90 320.55,224.90 320.80,224.90 321.05,224.90 321.30,224.90 321.55,224.90 321.80,224.90 322.05,224.90 322.30,224.90 322.55,224.90 322.80,224.89 323.05,224.89 323.30,224.88 323.55,224.87 323.80,224.86 324.05,224.85 324.30,224.83 324.55,224.82 324.80,224.81 325.05,224.79 325.30,224.77 325.55,224.76 325.80,224.74 326.05,224.72 326.30,224.70 326.55,224.68 326.80,224.64 327.05,224.61 327.30,224.56 327.55,224.51 327.80,224.45 328.05,224.39 328.30,224.32 328.55,224.25 328.80,224.17 329.05,224.10 329.30,224.02 329.55,223.94 329.80,223.86 330.05,223.78 330.30,223.70 330.55,223.62 330.80,223.53 331.05,223.45 331.30,223.35 331.55,223.26 331.80,223.15 332.05,223.05 332.30,222.94 332.55,222.83 332.80,222.72 333.05,222.60 333.30,222.49 333.55,222.38 333.80,222.27 334.05,222.17 334.30,222.06 334.55,221.96 334.80,221.87 335.05,221.78 335.30,221.70 335.55,221.61 335.80,221.53 336.05,221.45 336.30,221.37 336.55,221.29 336.80,221.21 337.05,221.14 337.30,221.06 337.55,220.99 337.80,220.92 338.05,220.85 338.30,220.78 338.55,220.72 338.80,220.65 339.05,220.59 339.30,220.52 339.55,220.46 339.80,220.40 340.05,220.34 340.30,220.28 340.55,220.23 340.80,220.17 341.05,220.11 341.30,220.05 341.55,220.00 341.80,219.95 342.05,219.90 342.30,219.85 342.55,219.80 342.80,219.75 343.05,219.71 343.30,219.67 343.55,219.63 343.80,219.60 344.05,219.57 344.30,219.53 344.55,219.50 344.80,219.47 345.05,219.43 345.30,219.40 345.55,219.37 345.80,219.34 346.05,219.30 346.30,219.27 346.55,219.24 346.80,219.21 347.05,219.18 347.30,219.15 347.55,219.12 347.80,219.09 348.05,219.07 348.30,219.04 348.55,219.02 348.80,218.99 349.05,218.97 349.30,218.95 349.55,218.93 349.80,218.91 350.05,218.89 350.30,218.87 350.55,218.86 350.80,218.84 351.05,218.83 351.30,218.82 351.55,218.81 351.80,218.81 352.05,218.80 352.30,218.80 352.55,218.80 352.80,218.80 353.05,218.80 353.30,218.80 353.55,218.81 353.80,218.81 354.05,218.81 354.30,218.82 354.55,218.82 354.80,218.83 355.05,218.83 355.30,218.84 355.55,218.84 355.80,218.85 356.05,218.86 356.30,218.86 356.55,218.87 356.80,218.88 357.05,218.89 357.30,218.90 357.55,218.91 357.80,218.92 358.05,218.92 358.30,218.93 358.55,218.94 358.80,218.95 359.05,218.96 359.30,218.97 359.55,218.98 359.80,218.99 360.05,219.00 360.30,219.01 360.55,219.03 360.80,219.04 361.05,219.06 361.30,219.08 361.55,219.10 361.80,219.12 362.05,219.14 362.30,219.17 362.55,219.19 362.80,219.22 363.05,219.25 363.30,219.27 363.55,219.30 363.80,219.33 364.05,219.35 364.30,219.38 364.55,219.41 364.80,219.44 365.05,219.46 365.30,219.49 365.55,219.51 365.80,219.54 366.05,219.56 366.30,219.58 366.55,219.60 366.80,219.62 367.05,219.64 367.30,219.65 367.55,219.67 367.80,219.68 368.05,219.69 368.30,219.69 368.55,219.70 368.80,219.70 369.05,219.70 369.30,219.70 369.55,219.69 369.80,219.68 370.05,219.67 370.30,219.66 370.55,219.65 370.80,219.64 371.05,219.63 371.30,219.61 371.55,219.60 371.80,219.58 372.05,219.57 372.30,219.55 372.55,219.53 372.80,219.52 373.05,219.50 373.30,219.49 373.55,219.47 373.80,219.46 374.05,219.45 374.30,219.44 374.55,219.43 374.80,219.42 375.05,219.41 375.30,219.40 375.55,219.40 375.80,219.40 376.05,219.42 376.30,219.48 376.55,219.57 376.80,219.69 377.05,219.84 377.30,220.01 377.55,220.19 377.80,220.39 378.05,220.59 378.30,220.80 378.55,221.01 378.80,221.22 379.05,221.42 379.30,221.60 379.55,221.78 379.80,221.96 380.05,222.15 380.30,222.34 380.55,222.54 380.80,222.74 381.05,222.94 381.30,223.14 381.55,223.35 381.80,223.56 382.05,223.77 382.30,223.98 382.55,224.20 382.80,224.41 383.05,224.63 383.30,224.84 383.55,225.06 383.80,225.27 384.05,225.50 384.30,225.73 384.55,225.96 384.80,226.20 385.05,226.44 385.30,226.68 385.55,226.92 385.80,227.16 386.05,227.40 386.30,227.64 386.55,227.87 386.80,228.10 387.05,228.32 387.30,228.54 387.55,228.75 387.80,228.95 388.05,229.14 388.30,229.32 388.55,229.49 388.80,229.65 389.05,229.81 389.30,229.96 389.55,230.11 389.80,230.27 390.05,230.43 390.30,230.59 390.55,230.76 390.80,230.96 391.05,231.18 391.30,231.43 391.55,231.69 391.80,231.96 392.05,232.22 392.30,232.48 392.55,232.72 392.80,232.92 393.05,233.09 393.30,233.22 393.55,233.29 393.80,233.30 394.05,233.29 394.30,233.26 394.55,233.22 394.80,233.18 395.05,233.12 395.30,233.06 395.55,232.99 395.80,232.91 396.05,232.84 396.30,232.76 396.55,232.68 396.80,232.60 397.05,232.51 397.30,232.41 397.55,232.29 397.80,232.15 398.05,232.01 398.30,231.85 398.55,231.69 398.80,231.53 399.05,231.36 399.30,231.20 399.55,231.03 399.80,230.88 400.05,230.73 400.30,230.59 400.55,230.46 400.80,230.34 401.05,230.25 401.30,230.17 401.55,230.10 401.80,230.03 402.05,229.96 402.30,229.89 402.55,229.83 402.80,229.77 403.05,229.71 403.30,229.65 403.55,229.60 403.80,229.56 404.05,229.52 404.30,229.48 404.55,229.45 404.80,229.42 405.05,229.40 405.30,229.38 405.55,229.36 405.80,229.34 406.05,229.32 406.30,229.30 406.55,229.28 406.80,229.27 407.05,229.25 407.30,229.24 407.55,229.23 407.80,229.22 408.05,229.21 408.30,229.21 408.55,229.20 408.80,229.20 409.05,229.26 409.30,229.58 409.55,230.11 409.80,230.75 410.05,231.41 410.30,232.00 410.55,232.53 410.80,233.08 411.05,233.65 411.30,234.21 411.55,234.78 411.80,235.34 412.05,235.88 412.30,236.41 412.55,236.92 412.80,237.42 413.05,237.92 413.30,238.41 413.55,238.90 413.80,239.40 414.05,239.90 414.30,240.39 414.55,240.86 414.80,241.32 415.05,241.78 415.30,242.28 415.55,242.82 415.80,243.43 416.05,244.10 416.30,244.77 416.55,245.63 416.80,246.86 417.05,249.68 417.30,254.50 417.55,257.20 417.80,259.35 418.05,261.30 418.30,263.40 418.55,265.76 418.80,268.19 419.05,270.56 419.30,272.75 419.55,274.73 419.80,276.62 420.05,278.54 420.30,280.60 420.55,283.01 420.80,285.87 421.05,288.63 421.30,290.79 421.55,292.63 421.80,294.31 422.05,295.84 422.30,297.24 422.55,298.50 422.80,299.64 423.05,300.61 423.30,301.48 423.55,302.28 423.80,303.10 424.05,304.00 424.30,305.06 424.55,306.40 424.80,307.72 425.05,308.65 425.30,309.30 425.55,309.87 425.80,310.35 426.05,310.78 426.30,311.18 426.55,311.58 426.80,311.97 427.05,312.35 427.30,312.73 427.55,313.09 427.80,313.44 428.05,313.77 428.30,314.09 428.55,314.39 428.80,314.67 429.05,314.92 429.30,315.16 429.55,315.36 429.80,315.55 430.05,315.73 430.30,315.91 430.55,316.09 430.80,316.26 431.05,316.43 431.30,316.59 431.55,316.75 431.80,316.90 432.05,317.05 432.30,317.20 432.55,317.33 432.80,317.47 433.05,317.59 433.30,317.71 433.55,317.82 433.80,317.93 434.05,318.03 434.30,318.12 434.55,318.20 434.80,318.28 435.05,318.35 435.30,318.41 435.55,318.46 435.80,318.50 436.05,318.54 436.30,318.58 436.55,318.61 436.80,318.65 437.05,318.68 437.30,318.72 437.55,318.75 437.80,318.79 438.05,318.82 438.30,318.85 438.55,318.88 438.80,318.91 439.05,318.94 439.30,318.97 439.55,319.00 439.80,319.02 440.05,319.05 440.30,319.08 440.55,319.10 440.80,319.12 441.05,319.15 441.30,319.17 441.55,319.19 441.80,319.21 442.05,319.23 442.30,319.25 442.55,319.26 442.80,319.28 443.05,319.30 443.30,319.31 443.55,319.32 443.80,319.34 444.05,319.35 444.30,319.36 444.55,319.37 444.80,319.37 445.05,319.38 445.30,319.39 445.55,319.39 445.80,319.40 446.05,319.40 446.30,319.40" fill="none" stroke="#ee7e80" stroke-width="0.7" stroke-linejoin="round" stroke-linecap="round" />
<circle cx="277.80" cy="315.90" r="1.45" fill="#f8caca" stroke="#ee7e80" stroke-width="0.85" />
<circle cx="278.86" cy="311.75" r="1.45" fill="#f8caca" stroke="#ee7e80" stroke-width="0.85" />
<circle cx="279.92" cy="307.18" r="1.45" fill="#f8caca" stroke="#ee7e80" stroke-width="0.85" />
<circle cx="280.98" cy="302.19" r="1.45" fill="#f8caca" stroke="#ee7e80" stroke-width="0.85" />
<circle cx="282.04" cy="296.35" r="1.45" fill="#f8caca" stroke="#ee7e80" stroke-width="0.85" />
<circle cx="283.10" cy="289.74" r="1.45" fill="#f8caca" stroke="#ee7e80" stroke-width="0.85" />
<circle cx="284.16" cy="284.14" r="1.45" fill="#f8caca" stroke="#ee7e80" stroke-width="0.85" />
<circle cx="285.22" cy="278.90" r="1.45" fill="#f8caca" stroke="#ee7e80" stroke-width="0.85" />
<circle cx="286.28" cy="273.60" r="1.45" fill="#f8caca" stroke="#ee7e80" stroke-width="0.85" />
<circle cx="287.34" cy="268.28" r="1.45" fill="#f8caca" stroke="#ee7e80" stroke-width="0.85" />
<circle cx="288.40" cy="262.92" r="1.45" fill="#f8caca" stroke="#ee7e80" stroke-width="0.85" />
<circle cx="289.46" cy="257.53" r="1.45" fill="#f8caca" stroke="#ee7e80" stroke-width="0.85" />
<circle cx="290.52" cy="252.20" r="1.45" fill="#f8caca" stroke="#ee7e80" stroke-width="0.85" />
<circle cx="291.58" cy="246.71" r="1.45" fill="#f8caca" stroke="#ee7e80" stroke-width="0.85" />
<circle cx="292.64" cy="242.41" r="1.45" fill="#f8caca" stroke="#ee7e80" stroke-width="0.85" />
<circle cx="293.70" cy="239.40" r="1.45" fill="#f8caca" stroke="#ee7e80" stroke-width="0.85" />
<circle cx="294.76" cy="238.09" r="1.45" fill="#f8caca" stroke="#ee7e80" stroke-width="0.85" />
<circle cx="295.82" cy="237.42" r="1.45" fill="#f8caca" stroke="#ee7e80" stroke-width="0.85" />
<circle cx="296.88" cy="236.94" r="1.45" fill="#f8caca" stroke="#ee7e80" stroke-width="0.85" />
<circle cx="297.94" cy="236.43" r="1.45" fill="#f8caca" stroke="#ee7e80" stroke-width="0.85" />
<circle cx="299.00" cy="235.88" r="1.45" fill="#f8caca" stroke="#ee7e80" stroke-width="0.85" />
<circle cx="300.06" cy="235.37" r="1.45" fill="#f8caca" stroke="#ee7e80" stroke-width="0.85" />
<circle cx="301.12" cy="234.95" r="1.45" fill="#f8caca" stroke="#ee7e80" stroke-width="0.85" />
<circle cx="302.18" cy="234.57" r="1.45" fill="#f8caca" stroke="#ee7e80" stroke-width="0.85" />
<circle cx="303.24" cy="234.17" r="1.45" fill="#f8caca" stroke="#ee7e80" stroke-width="0.85" />
<circle cx="304.30" cy="233.66" r="1.45" fill="#f8caca" stroke="#ee7e80" stroke-width="0.85" />
<circle cx="305.36" cy="232.88" r="1.45" fill="#f8caca" stroke="#ee7e80" stroke-width="0.85" />
<circle cx="306.42" cy="231.82" r="1.45" fill="#f8caca" stroke="#ee7e80" stroke-width="0.85" />
<circle cx="307.48" cy="230.64" r="1.45" fill="#f8caca" stroke="#ee7e80" stroke-width="0.85" />
<circle cx="308.54" cy="229.54" r="1.45" fill="#f8caca" stroke="#ee7e80" stroke-width="0.85" />
<circle cx="309.60" cy="228.55" r="1.45" fill="#f8caca" stroke="#ee7e80" stroke-width="0.85" />
<circle cx="310.66" cy="227.52" r="1.45" fill="#f8caca" stroke="#ee7e80" stroke-width="0.85" />
<circle cx="311.72" cy="226.59" r="1.45" fill="#f8caca" stroke="#ee7e80" stroke-width="0.85" />
<circle cx="312.78" cy="225.93" r="1.45" fill="#f8caca" stroke="#ee7e80" stroke-width="0.85" />
<circle cx="313.84" cy="225.56" r="1.45" fill="#f8caca" stroke="#ee7e80" stroke-width="0.85" />
<circle cx="314.90" cy="225.27" r="1.45" fill="#f8caca" stroke="#ee7e80" stroke-width="0.85" />
<circle cx="315.96" cy="225.04" r="1.45" fill="#f8caca" stroke="#ee7e80" stroke-width="0.85" />
<circle cx="317.02" cy="224.91" r="1.45" fill="#f8caca" stroke="#ee7e80" stroke-width="0.85" />
<circle cx="318.08" cy="224.90" r="1.45" fill="#f8caca" stroke="#ee7e80" stroke-width="0.85" />
<circle cx="319.14" cy="224.90" r="1.45" fill="#f8caca" stroke="#ee7e80" stroke-width="0.85" />
<circle cx="320.20" cy="224.90" r="1.45" fill="#f8caca" stroke="#ee7e80" stroke-width="0.85" />
<circle cx="321.26" cy="224.90" r="1.45" fill="#f8caca" stroke="#ee7e80" stroke-width="0.85" />
<circle cx="322.32" cy="224.90" r="1.45" fill="#f8caca" stroke="#ee7e80" stroke-width="0.85" />
<circle cx="323.38" cy="224.88" r="1.45" fill="#f8caca" stroke="#ee7e80" stroke-width="0.85" />
<circle cx="324.44" cy="224.83" r="1.45" fill="#f8caca" stroke="#ee7e80" stroke-width="0.85" />
<circle cx="325.50" cy="224.76" r="1.45" fill="#f8caca" stroke="#ee7e80" stroke-width="0.85" />
<circle cx="326.56" cy="224.68" r="1.45" fill="#f8caca" stroke="#ee7e80" stroke-width="0.85" />
<circle cx="327.62" cy="224.49" r="1.45" fill="#f8caca" stroke="#ee7e80" stroke-width="0.85" />
<circle cx="328.68" cy="224.21" r="1.45" fill="#f8caca" stroke="#ee7e80" stroke-width="0.85" />
<circle cx="329.74" cy="223.88" r="1.45" fill="#f8caca" stroke="#ee7e80" stroke-width="0.85" />
<circle cx="330.80" cy="223.53" r="1.45" fill="#f8caca" stroke="#ee7e80" stroke-width="0.85" />
<circle cx="331.86" cy="223.13" r="1.45" fill="#f8caca" stroke="#ee7e80" stroke-width="0.85" />
<circle cx="332.92" cy="222.66" r="1.45" fill="#f8caca" stroke="#ee7e80" stroke-width="0.85" />
<circle cx="333.98" cy="222.19" r="1.45" fill="#f8caca" stroke="#ee7e80" stroke-width="0.85" />
<circle cx="335.04" cy="221.79" r="1.45" fill="#f8caca" stroke="#ee7e80" stroke-width="0.85" />
<circle cx="336.10" cy="221.43" r="1.45" fill="#f8caca" stroke="#ee7e80" stroke-width="0.85" />
<circle cx="337.16" cy="221.11" r="1.45" fill="#f8caca" stroke="#ee7e80" stroke-width="0.85" />
<circle cx="338.22" cy="220.80" r="1.45" fill="#f8caca" stroke="#ee7e80" stroke-width="0.85" />
<circle cx="339.28" cy="220.53" r="1.45" fill="#f8caca" stroke="#ee7e80" stroke-width="0.85" />
<circle cx="340.34" cy="220.27" r="1.45" fill="#f8caca" stroke="#ee7e80" stroke-width="0.85" />
<circle cx="341.40" cy="220.03" r="1.45" fill="#f8caca" stroke="#ee7e80" stroke-width="0.85" />
<circle cx="342.46" cy="219.82" r="1.45" fill="#f8caca" stroke="#ee7e80" stroke-width="0.85" />
<circle cx="343.52" cy="219.64" r="1.45" fill="#f8caca" stroke="#ee7e80" stroke-width="0.85" />
<circle cx="344.58" cy="219.50" r="1.45" fill="#f8caca" stroke="#ee7e80" stroke-width="0.85" />
<circle cx="345.64" cy="219.36" r="1.45" fill="#f8caca" stroke="#ee7e80" stroke-width="0.85" />
<circle cx="346.70" cy="219.22" r="1.45" fill="#f8caca" stroke="#ee7e80" stroke-width="0.85" />
<circle cx="347.76" cy="219.10" r="1.45" fill="#f8caca" stroke="#ee7e80" stroke-width="0.85" />
<circle cx="348.82" cy="218.99" r="1.45" fill="#f8caca" stroke="#ee7e80" stroke-width="0.85" />
<circle cx="349.88" cy="218.90" r="1.45" fill="#f8caca" stroke="#ee7e80" stroke-width="0.85" />
<circle cx="350.94" cy="218.84" r="1.45" fill="#f8caca" stroke="#ee7e80" stroke-width="0.85" />
<circle cx="352.00" cy="218.80" r="1.45" fill="#f8caca" stroke="#ee7e80" stroke-width="0.85" />
<circle cx="353.06" cy="218.80" r="1.45" fill="#f8caca" stroke="#ee7e80" stroke-width="0.85" />
<circle cx="354.12" cy="218.81" r="1.45" fill="#f8caca" stroke="#ee7e80" stroke-width="0.85" />
<circle cx="355.18" cy="218.83" r="1.45" fill="#f8caca" stroke="#ee7e80" stroke-width="0.85" />
<circle cx="356.24" cy="218.86" r="1.45" fill="#f8caca" stroke="#ee7e80" stroke-width="0.85" />
<circle cx="357.30" cy="218.90" r="1.45" fill="#f8caca" stroke="#ee7e80" stroke-width="0.85" />
<circle cx="358.36" cy="218.94" r="1.45" fill="#f8caca" stroke="#ee7e80" stroke-width="0.85" />
<circle cx="359.42" cy="218.98" r="1.45" fill="#f8caca" stroke="#ee7e80" stroke-width="0.85" />
<circle cx="360.48" cy="219.02" r="1.45" fill="#f8caca" stroke="#ee7e80" stroke-width="0.85" />
<circle cx="361.54" cy="219.10" r="1.45" fill="#f8caca" stroke="#ee7e80" stroke-width="0.85" />
<circle cx="362.60" cy="219.20" r="1.45" fill="#f8caca" stroke="#ee7e80" stroke-width="0.85" />
<circle cx="363.66" cy="219.31" r="1.45" fill="#f8caca" stroke="#ee7e80" stroke-width="0.85" />
<circle cx="364.72" cy="219.43" r="1.45" fill="#f8caca" stroke="#ee7e80" stroke-width="0.85" />
<circle cx="365.78" cy="219.54" r="1.45" fill="#f8caca" stroke="#ee7e80" stroke-width="0.85" />
<circle cx="366.84" cy="219.62" r="1.45" fill="#f8caca" stroke="#ee7e80" stroke-width="0.85" />
<circle cx="367.90" cy="219.68" r="1.45" fill="#f8caca" stroke="#ee7e80" stroke-width="0.85" />
<circle cx="368.96" cy="219.70" r="1.45" fill="#f8caca" stroke="#ee7e80" stroke-width="0.85" />
<circle cx="370.02" cy="219.68" r="1.45" fill="#f8caca" stroke="#ee7e80" stroke-width="0.85" />
<circle cx="371.08" cy="219.63" r="1.45" fill="#f8caca" stroke="#ee7e80" stroke-width="0.85" />
<circle cx="372.14" cy="219.56" r="1.45" fill="#f8caca" stroke="#ee7e80" stroke-width="0.85" />
<circle cx="373.20" cy="219.49" r="1.45" fill="#f8caca" stroke="#ee7e80" stroke-width="0.85" />
<circle cx="374.26" cy="219.44" r="1.45" fill="#f8caca" stroke="#ee7e80" stroke-width="0.85" />
<circle cx="375.32" cy="219.40" r="1.45" fill="#f8caca" stroke="#ee7e80" stroke-width="0.85" />
<circle cx="376.38" cy="219.50" r="1.45" fill="#f8caca" stroke="#ee7e80" stroke-width="0.85" />
<circle cx="377.44" cy="220.11" r="1.45" fill="#f8caca" stroke="#ee7e80" stroke-width="0.85" />
<circle cx="378.50" cy="220.97" r="1.45" fill="#f8caca" stroke="#ee7e80" stroke-width="0.85" />
<circle cx="379.56" cy="221.79" r="1.45" fill="#f8caca" stroke="#ee7e80" stroke-width="0.85" />
<circle cx="380.62" cy="222.59" r="1.45" fill="#f8caca" stroke="#ee7e80" stroke-width="0.85" />
<circle cx="381.68" cy="223.46" r="1.45" fill="#f8caca" stroke="#ee7e80" stroke-width="0.85" />
<circle cx="382.74" cy="224.36" r="1.45" fill="#f8caca" stroke="#ee7e80" stroke-width="0.85" />
<circle cx="383.80" cy="225.27" r="1.45" fill="#f8caca" stroke="#ee7e80" stroke-width="0.85" />
<circle cx="384.86" cy="226.25" r="1.45" fill="#f8caca" stroke="#ee7e80" stroke-width="0.85" />
<circle cx="385.92" cy="227.27" r="1.45" fill="#f8caca" stroke="#ee7e80" stroke-width="0.85" />
<circle cx="386.98" cy="228.26" r="1.45" fill="#f8caca" stroke="#ee7e80" stroke-width="0.85" />
<circle cx="388.04" cy="229.13" r="1.45" fill="#f8caca" stroke="#ee7e80" stroke-width="0.85" />
<circle cx="389.10" cy="229.84" r="1.45" fill="#f8caca" stroke="#ee7e80" stroke-width="0.85" />
<circle cx="390.16" cy="230.50" r="1.45" fill="#f8caca" stroke="#ee7e80" stroke-width="0.85" />
<circle cx="391.22" cy="231.35" r="1.45" fill="#f8caca" stroke="#ee7e80" stroke-width="0.85" />
<circle cx="392.28" cy="232.46" r="1.45" fill="#f8caca" stroke="#ee7e80" stroke-width="0.85" />
<circle cx="393.34" cy="233.23" r="1.45" fill="#f8caca" stroke="#ee7e80" stroke-width="0.85" />
<circle cx="394.40" cy="233.25" r="1.45" fill="#f8caca" stroke="#ee7e80" stroke-width="0.85" />
<circle cx="395.46" cy="233.01" r="1.45" fill="#f8caca" stroke="#ee7e80" stroke-width="0.85" />
<circle cx="396.52" cy="232.69" r="1.45" fill="#f8caca" stroke="#ee7e80" stroke-width="0.85" />
<circle cx="397.58" cy="232.27" r="1.45" fill="#f8caca" stroke="#ee7e80" stroke-width="0.85" />
<circle cx="398.64" cy="231.63" r="1.45" fill="#f8caca" stroke="#ee7e80" stroke-width="0.85" />
<circle cx="399.70" cy="230.94" r="1.45" fill="#f8caca" stroke="#ee7e80" stroke-width="0.85" />
<circle cx="400.76" cy="230.36" r="1.45" fill="#f8caca" stroke="#ee7e80" stroke-width="0.85" />
<circle cx="401.82" cy="230.02" r="1.45" fill="#f8caca" stroke="#ee7e80" stroke-width="0.85" />
<circle cx="402.88" cy="229.75" r="1.45" fill="#f8caca" stroke="#ee7e80" stroke-width="0.85" />
<circle cx="403.94" cy="229.53" r="1.45" fill="#f8caca" stroke="#ee7e80" stroke-width="0.85" />
<circle cx="405.00" cy="229.40" r="1.45" fill="#f8caca" stroke="#ee7e80" stroke-width="0.85" />
<circle cx="406.06" cy="229.32" r="1.45" fill="#f8caca" stroke="#ee7e80" stroke-width="0.85" />
<circle cx="407.12" cy="229.25" r="1.45" fill="#f8caca" stroke="#ee7e80" stroke-width="0.85" />
<circle cx="408.18" cy="229.21" r="1.45" fill="#f8caca" stroke="#ee7e80" stroke-width="0.85" />
<circle cx="409.24" cy="229.48" r="1.45" fill="#f8caca" stroke="#ee7e80" stroke-width="0.85" />
<circle cx="410.30" cy="232.00" r="1.45" fill="#f8caca" stroke="#ee7e80" stroke-width="0.85" />
<circle cx="411.36" cy="234.35" r="1.45" fill="#f8caca" stroke="#ee7e80" stroke-width="0.85" />
<circle cx="412.42" cy="236.66" r="1.45" fill="#f8caca" stroke="#ee7e80" stroke-width="0.85" />
<circle cx="413.48" cy="238.77" r="1.45" fill="#f8caca" stroke="#ee7e80" stroke-width="0.85" />
<circle cx="414.54" cy="240.84" r="1.45" fill="#f8caca" stroke="#ee7e80" stroke-width="0.85" />
<circle cx="415.60" cy="242.94" r="1.45" fill="#f8caca" stroke="#ee7e80" stroke-width="0.85" />
<circle cx="416.66" cy="246.12" r="1.45" fill="#f8caca" stroke="#ee7e80" stroke-width="0.85" />
<circle cx="417.72" cy="258.70" r="1.45" fill="#f8caca" stroke="#ee7e80" stroke-width="0.85" />
<circle cx="418.78" cy="267.99" r="1.45" fill="#f8caca" stroke="#ee7e80" stroke-width="0.85" />
<circle cx="419.84" cy="276.92" r="1.45" fill="#f8caca" stroke="#ee7e80" stroke-width="0.85" />
<circle cx="420.90" cy="287.02" r="1.45" fill="#f8caca" stroke="#ee7e80" stroke-width="0.85" />
<circle cx="421.96" cy="295.31" r="1.45" fill="#f8caca" stroke="#ee7e80" stroke-width="0.85" />
<circle cx="423.02" cy="300.51" r="1.45" fill="#f8caca" stroke="#ee7e80" stroke-width="0.85" />
<circle cx="424.08" cy="304.11" r="1.45" fill="#f8caca" stroke="#ee7e80" stroke-width="0.85" />
<circle cx="425.14" cy="308.90" r="1.45" fill="#f8caca" stroke="#ee7e80" stroke-width="0.85" />
<circle cx="426.20" cy="311.03" r="1.45" fill="#f8caca" stroke="#ee7e80" stroke-width="0.85" />
<circle cx="427.26" cy="312.67" r="1.45" fill="#f8caca" stroke="#ee7e80" stroke-width="0.85" />
<circle cx="428.32" cy="314.12" r="1.45" fill="#f8caca" stroke="#ee7e80" stroke-width="0.85" />
<circle cx="429.38" cy="315.22" r="1.45" fill="#f8caca" stroke="#ee7e80" stroke-width="0.85" />
<circle cx="430.44" cy="316.01" r="1.45" fill="#f8caca" stroke="#ee7e80" stroke-width="0.85" />
<circle cx="431.50" cy="316.72" r="1.45" fill="#f8caca" stroke="#ee7e80" stroke-width="0.85" />
<circle cx="432.56" cy="317.34" r="1.45" fill="#f8caca" stroke="#ee7e80" stroke-width="0.85" />
<circle cx="433.62" cy="317.85" r="1.45" fill="#f8caca" stroke="#ee7e80" stroke-width="0.85" />
<circle cx="434.68" cy="318.24" r="1.45" fill="#f8caca" stroke="#ee7e80" stroke-width="0.85" />
<circle cx="435.74" cy="318.49" r="1.45" fill="#f8caca" stroke="#ee7e80" stroke-width="0.85" />
<circle cx="436.80" cy="318.65" r="1.45" fill="#f8caca" stroke="#ee7e80" stroke-width="0.85" />
<circle cx="437.86" cy="318.79" r="1.45" fill="#f8caca" stroke="#ee7e80" stroke-width="0.85" />
<circle cx="438.92" cy="318.93" r="1.45" fill="#f8caca" stroke="#ee7e80" stroke-width="0.85" />
<circle cx="439.98" cy="319.04" r="1.45" fill="#f8caca" stroke="#ee7e80" stroke-width="0.85" />
<circle cx="441.04" cy="319.15" r="1.45" fill="#f8caca" stroke="#ee7e80" stroke-width="0.85" />
<circle cx="442.10" cy="319.23" r="1.45" fill="#f8caca" stroke="#ee7e80" stroke-width="0.85" />
<circle cx="443.16" cy="319.30" r="1.45" fill="#f8caca" stroke="#ee7e80" stroke-width="0.85" />
<circle cx="444.22" cy="319.35" r="1.45" fill="#f8caca" stroke="#ee7e80" stroke-width="0.85" />
<circle cx="445.28" cy="319.39" r="1.45" fill="#f8caca" stroke="#ee7e80" stroke-width="0.85" />
<circle cx="446.34" cy="319.40" r="1.45" fill="#f8caca" stroke="#ee7e80" stroke-width="0.85" />
<polyline points="352.80,197.00 375.70,197.00" fill="none" stroke="#3b79b7" stroke-width="1.1" stroke-linejoin="round" stroke-linecap="round" />
<circle cx="364.10" cy="197.00" r="1.35" fill="none" stroke="#3b79b7" stroke-width="0.8" />
<text x="380.50" y="200.30" font-size="9.0" text-anchor="start" font-weight="normal" fill="#1a1a1a" >w/o Sn(SCN)<tspan dy="2.8" font-size="6.2">2</tspan></text>
<polyline points="352.80,211.50 375.70,211.50" fill="none" stroke="#ee7e80" stroke-width="1.1" stroke-linejoin="round" stroke-linecap="round" />
<circle cx="364.10" cy="211.50" r="1.35" fill="none" stroke="#ee7e80" stroke-width="0.8" />
<text x="380.50" y="214.70" font-size="9.0" text-anchor="start" font-weight="normal" fill="#1a1a1a" >with Sn(SCN)<tspan dy="2.8" font-size="6.2">2</tspan></text>
<rect x="277.60" y="190.50" width="169.30" height="129.80" fill="none" stroke="#1a1a1a" stroke-width="1.1"/>
<line x1="277.60" y1="320.40" x2="282.10" y2="320.40" stroke="#1a1a1a" stroke-width="1.0" />
<text x="273.00" y="323.80" font-size="9.4" text-anchor="end" font-weight="normal" fill="#1a1a1a" >0</text>
<line x1="277.60" y1="298.60" x2="282.10" y2="298.60" stroke="#1a1a1a" stroke-width="1.0" />
<text x="273.00" y="302.00" font-size="9.4" text-anchor="end" font-weight="normal" fill="#1a1a1a" >20</text>
<line x1="277.60" y1="276.80" x2="282.10" y2="276.80" stroke="#1a1a1a" stroke-width="1.0" />
<text x="273.00" y="280.20" font-size="9.4" text-anchor="end" font-weight="normal" fill="#1a1a1a" >40</text>
<line x1="277.60" y1="255.00" x2="282.10" y2="255.00" stroke="#1a1a1a" stroke-width="1.0" />
<text x="273.00" y="258.40" font-size="9.4" text-anchor="end" font-weight="normal" fill="#1a1a1a" >60</text>
<line x1="277.60" y1="233.20" x2="282.10" y2="233.20" stroke="#1a1a1a" stroke-width="1.0" />
<text x="273.00" y="236.60" font-size="9.4" text-anchor="end" font-weight="normal" fill="#1a1a1a" >80</text>
<line x1="277.60" y1="211.40" x2="282.10" y2="211.40" stroke="#1a1a1a" stroke-width="1.0" />
<text x="273.00" y="214.80" font-size="9.4" text-anchor="end" font-weight="normal" fill="#1a1a1a" >100</text>
<line x1="277.60" y1="309.50" x2="280.20" y2="309.50" stroke="#1a1a1a" stroke-width="0.9" />
<line x1="277.60" y1="287.70" x2="280.20" y2="287.70" stroke="#1a1a1a" stroke-width="0.9" />
<line x1="277.60" y1="265.90" x2="280.20" y2="265.90" stroke="#1a1a1a" stroke-width="0.9" />
<line x1="277.60" y1="244.10" x2="280.20" y2="244.10" stroke="#1a1a1a" stroke-width="0.9" />
<line x1="277.60" y1="222.30" x2="280.20" y2="222.30" stroke="#1a1a1a" stroke-width="0.9" />
<line x1="277.60" y1="200.50" x2="280.20" y2="200.50" stroke="#1a1a1a" stroke-width="0.9" />
<line x1="298.62" y1="320.30" x2="298.62" y2="315.80" stroke="#1a1a1a" stroke-width="1.0" />
<text x="298.62" y="334.60" font-size="9.4" text-anchor="middle" font-weight="normal" fill="#1a1a1a" >400</text>
<line x1="341.06" y1="320.30" x2="341.06" y2="315.80" stroke="#1a1a1a" stroke-width="1.0" />
<text x="341.06" y="334.60" font-size="9.4" text-anchor="middle" font-weight="normal" fill="#1a1a1a" >600</text>
<line x1="383.50" y1="320.30" x2="383.50" y2="315.80" stroke="#1a1a1a" stroke-width="1.0" />
<text x="383.50" y="334.60" font-size="9.4" text-anchor="middle" font-weight="normal" fill="#1a1a1a" >800</text>
<line x1="425.94" y1="320.30" x2="425.94" y2="315.80" stroke="#1a1a1a" stroke-width="1.0" />
<text x="425.94" y="334.60" font-size="9.4" text-anchor="middle" font-weight="normal" fill="#1a1a1a" >1000</text>
<line x1="277.40" y1="320.30" x2="277.40" y2="317.70" stroke="#1a1a1a" stroke-width="0.9" />
<line x1="319.84" y1="320.30" x2="319.84" y2="317.70" stroke="#1a1a1a" stroke-width="0.9" />
<line x1="362.28" y1="320.30" x2="362.28" y2="317.70" stroke="#1a1a1a" stroke-width="0.9" />
<line x1="404.72" y1="320.30" x2="404.72" y2="317.70" stroke="#1a1a1a" stroke-width="0.9" />
<text x="362.20" y="348.50" font-size="9.0" text-anchor="middle" font-weight="normal" fill="#1a1a1a" >Wavelength (nm)</text>
<text transform="translate(246.30,255.30) rotate(-90)" x="0" y="0" font-size="9.0" text-anchor="middle" fill="#1a1a1a">EQE (%)</text>
<text x="469.70" y="194.50" font-size="15.5" text-anchor="start" font-weight="bold" fill="#000" >f</text>
<polyline points="515.60,320.30 515.85,319.56 516.10,318.81 516.35,318.06 516.60,317.32 516.85,316.57 517.10,315.82 517.35,315.07 517.60,314.32 517.85,313.57 518.10,312.81 518.35,312.06 518.60,311.31 518.85,310.55 519.10,309.80 519.35,309.03 519.60,308.25 519.85,307.47 520.10,306.69 520.35,305.91 520.60,305.14 520.85,304.38 521.10,303.64 521.35,302.92 521.60,302.23 521.85,301.55 522.10,300.88 522.35,300.22 522.60,299.58 522.85,298.95 523.10,298.33 523.35,297.72 523.60,297.13 523.85,296.54 524.10,295.97 524.35,295.42 524.60,294.88 524.85,294.35 525.10,293.83 525.35,293.32 525.60,292.81 525.85,292.31 526.10,291.81 526.35,291.31 526.60,290.80 526.85,290.28 527.10,289.73 527.35,289.18 527.60,288.63 527.85,288.08 528.10,287.55 528.35,287.05 528.60,286.58 528.85,286.16 529.10,285.80 529.35,285.48 529.60,285.18 529.85,284.90 530.10,284.63 530.35,284.38 530.60,284.15 530.85,283.92 531.10,283.71 531.35,283.50 531.60,283.30 531.85,283.10 532.10,282.92 532.35,282.74 532.60,282.57 532.85,282.40 533.10,282.24 533.35,282.08 533.60,281.93 533.85,281.78 534.10,281.63 534.35,281.48 534.60,281.34 534.85,281.19 535.10,281.04 535.35,280.90 535.60,280.74 535.85,280.59 536.10,280.43 536.35,280.27 536.60,280.10 536.85,279.93 537.10,279.76 537.35,279.59 537.60,279.42 537.85,279.25 538.10,279.08 538.35,278.91 538.60,278.73 538.85,278.56 539.10,278.38 539.35,278.20 539.60,278.02 539.85,277.83 540.10,277.64 540.35,277.45 540.60,277.25 540.85,277.04 541.10,276.84 541.35,276.62 541.60,276.40 541.85,276.17 542.10,275.92 542.35,275.67 542.60,275.40 542.85,275.13 543.10,274.84 543.35,274.55 543.60,274.25 543.85,273.95 544.10,273.65 544.35,273.34 544.60,273.03 544.85,272.73 545.10,272.42 545.35,272.12 545.60,271.82 545.85,271.53 546.10,271.25 546.35,270.97 546.60,270.70 546.85,270.45 547.10,270.19 547.35,269.93 547.60,269.67 547.85,269.41 548.10,269.15 548.35,268.89 548.60,268.64 548.85,268.39 549.10,268.14 549.35,267.89 549.60,267.65 549.85,267.42 550.10,267.19 550.35,266.97 550.60,266.75 550.85,266.54 551.10,266.34 551.35,266.15 551.60,265.97 551.85,265.80 552.10,265.63 552.35,265.47 552.60,265.31 552.85,265.16 553.10,265.02 553.35,264.87 553.60,264.73 553.85,264.60 554.10,264.47 554.35,264.34 554.60,264.21 554.85,264.08 555.10,263.96 555.35,263.84 555.60,263.71 555.85,263.59 556.10,263.47 556.35,263.35 556.60,263.22 556.85,263.10 557.10,262.97 557.35,262.84 557.60,262.71 557.85,262.58 558.10,262.45 558.35,262.31 558.60,262.18 558.85,262.05 559.10,261.92 559.35,261.79 559.60,261.66 559.85,261.53 560.10,261.40 560.35,261.27 560.60,261.14 560.85,261.01 561.10,260.88 561.35,260.74 561.60,260.61 561.85,260.47 562.10,260.34 562.35,260.20 562.60,260.05 562.85,259.91 563.10,259.76 563.35,259.61 563.60,259.46 563.85,259.30 564.10,259.13 564.35,258.97 564.60,258.79 564.85,258.62 565.10,258.43 565.35,258.25 565.60,258.05 565.85,257.86 566.10,257.66 566.35,257.46 566.60,257.25 566.85,257.05 567.10,256.84 567.35,256.63 567.60,256.41 567.85,256.20 568.10,255.99 568.35,255.77 568.60,255.56 568.85,255.34 569.10,255.13 569.35,254.91 569.60,254.70 569.85,254.49 570.10,254.28 570.35,254.07 570.60,253.86 570.85,253.66 571.10,253.46 571.35,253.26 571.60,253.06 571.85,252.87 572.10,252.67 572.35,252.48 572.60,252.28 572.85,252.09 573.10,251.89 573.35,251.70 573.60,251.50 573.85,251.31 574.10,251.12 574.35,250.92 574.60,250.73 574.85,250.54 575.10,250.34 575.35,250.15 575.60,249.96 575.85,249.77 576.10,249.57 576.35,249.38 576.60,249.19 576.85,249.00 577.10,248.81 577.35,248.62 577.60,248.43 577.85,248.24 578.10,248.05 578.35,247.87 578.60,247.68 578.85,247.49 579.10,247.30 579.35,247.12 579.60,246.93 579.85,246.74 580.10,246.56 580.35,246.37 580.60,246.19 580.85,246.00 581.10,245.82 581.35,245.64 581.60,245.45 581.85,245.27 582.10,245.09 582.35,244.91 582.60,244.73 582.85,244.55 583.10,244.36 583.35,244.18 583.60,244.00 583.85,243.82 584.10,243.64 584.35,243.45 584.60,243.27 584.85,243.09 585.10,242.91 585.35,242.72 585.60,242.54 585.85,242.36 586.10,242.18 586.35,241.99 586.60,241.81 586.85,241.63 587.10,241.45 587.35,241.27 587.60,241.09 587.85,240.91 588.10,240.74 588.35,240.56 588.60,240.38 588.85,240.21 589.10,240.03 589.35,239.86 589.60,239.69 589.85,239.52 590.10,239.35 590.35,239.18 590.60,239.01 590.85,238.84 591.10,238.68 591.35,238.52 591.60,238.35 591.85,238.19 592.10,238.03 592.35,237.88 592.60,237.72 592.85,237.57 593.10,237.42 593.35,237.27 593.60,237.12 593.85,236.97 594.10,236.83 594.35,236.69 594.60,236.55 594.85,236.41 595.10,236.28 595.35,236.14 595.60,236.01 595.85,235.88 596.10,235.75 596.35,235.62 596.60,235.50 596.85,235.37 597.10,235.25 597.35,235.12 597.60,235.00 597.85,234.88 598.10,234.75 598.35,234.63 598.60,234.50 598.85,234.38 599.10,234.25 599.35,234.13 599.60,234.00 599.85,233.87 600.10,233.74 600.35,233.62 600.60,233.49 600.85,233.37 601.10,233.24 601.35,233.12 601.60,232.99 601.85,232.87 602.10,232.74 602.35,232.62 602.60,232.49 602.85,232.37 603.10,232.24 603.35,232.12 603.60,231.99 603.85,231.87 604.10,231.75 604.35,231.62 604.60,231.50 604.85,231.37 605.10,231.25 605.35,231.12 605.60,231.00 605.85,230.87 606.10,230.74 606.35,230.61 606.60,230.48 606.85,230.35 607.10,230.22 607.35,230.09 607.60,229.96 607.85,229.84 608.10,229.71 608.35,229.58 608.60,229.46 608.85,229.33 609.10,229.21 609.35,229.09 609.60,228.98 609.85,228.86 610.10,228.75 610.35,228.65 610.60,228.54 610.85,228.44 611.10,228.33 611.35,228.22 611.60,228.10 611.85,227.99 612.10,227.87 612.35,227.75 612.60,227.64 612.85,227.53 613.10,227.43 613.35,227.34 613.60,227.25 613.85,227.17 614.10,227.11 614.35,227.06 614.60,227.02 614.85,227.00 615.10,227.00 615.35,227.01 615.60,227.03 615.85,227.07 616.10,227.11 616.35,227.16 616.60,227.22 616.85,227.29 617.10,227.36 617.35,227.44 617.60,227.53 617.85,227.61 618.10,227.70 618.35,227.80 618.60,227.89 618.85,227.99 619.10,228.08 619.35,228.18 619.60,228.27 619.85,228.36 620.10,228.44 620.35,228.52 620.60,228.60 620.85,228.67 621.10,228.75 621.35,228.82 621.60,228.89 621.85,228.96 622.10,229.04 622.35,229.11 622.60,229.18 622.85,229.26 623.10,229.33 623.35,229.40 623.60,229.48 623.85,229.55 624.10,229.63 624.35,229.70 624.60,229.78 624.85,229.85 625.10,229.93 625.35,230.00 625.60,230.08 625.85,230.16 626.10,230.24 626.35,230.32 626.60,230.40 626.85,230.50 627.10,230.61 627.35,230.72 627.60,230.83 627.85,230.94 628.10,231.04 628.35,231.14 628.60,231.23 628.85,231.30 629.10,231.35 629.35,231.39 629.60,231.40 629.85,231.39 630.10,231.37 630.35,231.33 630.60,231.27 630.85,231.21 631.10,231.13 631.35,231.04 631.60,230.94 631.85,230.84 632.10,230.73 632.35,230.61 632.60,230.49 632.85,230.37 633.10,230.25 633.35,230.09 633.60,229.90 633.85,229.68 634.10,229.43 634.35,229.15 634.60,228.86 634.85,228.55 635.10,228.22 635.35,227.89 635.60,227.56 635.85,227.22 636.10,226.88 636.35,226.55 636.60,226.23 636.85,225.92 637.10,225.62 637.35,225.35 637.60,225.10 637.85,224.85 638.10,224.61 638.35,224.36 638.60,224.11 638.85,223.87 639.10,223.63 639.35,223.39 639.60,223.15 639.85,222.93 640.10,222.70 640.35,222.49 640.60,222.28 640.85,222.08 641.10,221.89 641.35,221.71 641.60,221.54 641.85,221.39 642.10,221.24 642.35,221.10 642.60,220.95 642.85,220.80 643.10,220.66 643.35,220.51 643.60,220.38 643.85,220.24 644.10,220.12 644.35,220.00 644.60,219.90 644.85,219.81 645.10,219.73 645.35,219.67 645.60,219.63 645.85,219.60 646.10,219.61 646.35,219.67 646.60,219.79 646.85,219.97 647.10,220.20 647.35,220.47 647.60,220.76 647.85,221.09 648.10,221.43 648.35,221.77 648.60,222.12 648.85,222.47 649.10,222.84 649.35,223.26 649.60,223.72 649.85,224.22 650.10,224.75 650.35,225.32 650.60,225.91 650.85,226.52 651.10,227.16 651.35,227.88 651.60,228.66 651.85,229.49 652.10,230.36 652.35,231.25 652.60,232.15 652.85,233.02 653.10,233.88 653.35,234.76 653.60,235.70 653.85,236.77 654.10,238.00 654.35,239.42 654.60,240.99 654.85,242.71 655.10,244.57 655.35,246.72 655.60,249.09 655.85,251.53 656.10,253.90 656.35,256.16 656.60,258.39 656.85,260.66 657.10,263.02 657.35,265.54 657.60,268.26 657.85,271.05 658.10,273.83 658.35,276.52 658.60,279.30 658.85,282.12 659.10,284.91 659.35,287.57 659.60,290.05 659.85,292.24 660.10,294.12 660.35,295.88 660.60,297.58 660.85,299.21 661.10,300.77 661.35,302.25 661.60,303.64 661.85,304.95 662.10,306.17 662.35,307.29 662.60,308.30 662.85,309.21 663.10,310.00 663.35,310.73 663.60,311.43 663.85,312.12 664.10,312.79 664.35,313.43 664.60,314.05 664.85,314.63 665.10,315.19 665.35,315.70 665.60,316.18 665.85,316.62 666.10,317.01 666.35,317.36 666.60,317.65 666.85,317.90 667.10,318.09 667.35,318.22 667.60,318.33 667.85,318.44 668.10,318.54 668.35,318.64 668.60,318.73 668.85,318.82 669.10,318.90 669.35,318.98 669.60,319.06 669.85,319.13 670.10,319.20 670.35,319.26 670.60,319.32 670.85,319.37 671.10,319.42 671.35,319.47 671.60,319.51 671.85,319.55 672.10,319.58 672.35,319.61 672.60,319.64 672.85,319.66 673.10,319.68 673.35,319.70 673.60,319.71 673.85,319.72 674.10,319.74 674.35,319.75 674.60,319.76 674.85,319.77 675.10,319.79 675.35,319.80 675.60,319.81 675.85,319.82 676.10,319.83 676.35,319.84 676.60,319.85 676.85,319.86 677.10,319.87 677.35,319.88 677.60,319.89 677.85,319.89 678.10,319.90 678.35,319.91 678.60,319.92 678.85,319.92 679.10,319.93 679.35,319.94 679.60,319.94 679.85,319.95 680.10,319.96 680.35,319.96 680.60,319.97 680.85,319.97 681.10,319.97 681.35,319.98 681.60,319.98 681.85,319.99 682.10,319.99 682.35,319.99 682.60,319.99 682.85,320.00 683.10,320.00 683.35,320.00 683.60,320.00 683.85,320.00 684.10,320.00" fill="none" stroke="#ee7e80" stroke-width="0.7" stroke-linejoin="round" stroke-linecap="round" />
<circle cx="515.60" cy="320.30" r="1.45" fill="#f8caca" stroke="#ee7e80" stroke-width="0.85" />
<circle cx="516.66" cy="317.14" r="1.45" fill="#f8caca" stroke="#ee7e80" stroke-width="0.85" />
<circle cx="517.72" cy="313.96" r="1.45" fill="#f8caca" stroke="#ee7e80" stroke-width="0.85" />
<circle cx="518.78" cy="310.76" r="1.45" fill="#f8caca" stroke="#ee7e80" stroke-width="0.85" />
<circle cx="519.84" cy="307.50" r="1.45" fill="#f8caca" stroke="#ee7e80" stroke-width="0.85" />
<circle cx="520.90" cy="304.23" r="1.45" fill="#f8caca" stroke="#ee7e80" stroke-width="0.85" />
<circle cx="521.96" cy="301.25" r="1.45" fill="#f8caca" stroke="#ee7e80" stroke-width="0.85" />
<circle cx="523.02" cy="298.53" r="1.45" fill="#f8caca" stroke="#ee7e80" stroke-width="0.85" />
<circle cx="524.08" cy="296.02" r="1.45" fill="#f8caca" stroke="#ee7e80" stroke-width="0.85" />
<circle cx="525.14" cy="293.75" r="1.45" fill="#f8caca" stroke="#ee7e80" stroke-width="0.85" />
<circle cx="526.20" cy="291.61" r="1.45" fill="#f8caca" stroke="#ee7e80" stroke-width="0.85" />
<circle cx="527.26" cy="289.38" r="1.45" fill="#f8caca" stroke="#ee7e80" stroke-width="0.85" />
<circle cx="528.32" cy="287.11" r="1.45" fill="#f8caca" stroke="#ee7e80" stroke-width="0.85" />
<circle cx="529.38" cy="285.44" r="1.45" fill="#f8caca" stroke="#ee7e80" stroke-width="0.85" />
<circle cx="530.44" cy="284.30" r="1.45" fill="#f8caca" stroke="#ee7e80" stroke-width="0.85" />
<circle cx="531.50" cy="283.38" r="1.45" fill="#f8caca" stroke="#ee7e80" stroke-width="0.85" />
<circle cx="532.56" cy="282.59" r="1.45" fill="#f8caca" stroke="#ee7e80" stroke-width="0.85" />
<circle cx="533.62" cy="281.91" r="1.45" fill="#f8caca" stroke="#ee7e80" stroke-width="0.85" />
<circle cx="534.68" cy="281.29" r="1.45" fill="#f8caca" stroke="#ee7e80" stroke-width="0.85" />
<circle cx="535.74" cy="280.66" r="1.45" fill="#f8caca" stroke="#ee7e80" stroke-width="0.85" />
<circle cx="536.80" cy="279.96" r="1.45" fill="#f8caca" stroke="#ee7e80" stroke-width="0.85" />
<circle cx="537.86" cy="279.24" r="1.45" fill="#f8caca" stroke="#ee7e80" stroke-width="0.85" />
<circle cx="538.92" cy="278.51" r="1.45" fill="#f8caca" stroke="#ee7e80" stroke-width="0.85" />
<circle cx="539.98" cy="277.73" r="1.45" fill="#f8caca" stroke="#ee7e80" stroke-width="0.85" />
<circle cx="541.04" cy="276.89" r="1.45" fill="#f8caca" stroke="#ee7e80" stroke-width="0.85" />
<circle cx="542.10" cy="275.92" r="1.45" fill="#f8caca" stroke="#ee7e80" stroke-width="0.85" />
<circle cx="543.16" cy="274.77" r="1.45" fill="#f8caca" stroke="#ee7e80" stroke-width="0.85" />
<circle cx="544.22" cy="273.50" r="1.45" fill="#f8caca" stroke="#ee7e80" stroke-width="0.85" />
<circle cx="545.28" cy="272.20" r="1.45" fill="#f8caca" stroke="#ee7e80" stroke-width="0.85" />
<circle cx="546.34" cy="270.98" r="1.45" fill="#f8caca" stroke="#ee7e80" stroke-width="0.85" />
<circle cx="547.40" cy="269.88" r="1.45" fill="#f8caca" stroke="#ee7e80" stroke-width="0.85" />
<circle cx="548.46" cy="268.78" r="1.45" fill="#f8caca" stroke="#ee7e80" stroke-width="0.85" />
<circle cx="549.52" cy="267.73" r="1.45" fill="#f8caca" stroke="#ee7e80" stroke-width="0.85" />
<circle cx="550.58" cy="266.77" r="1.45" fill="#f8caca" stroke="#ee7e80" stroke-width="0.85" />
<circle cx="551.64" cy="265.94" r="1.45" fill="#f8caca" stroke="#ee7e80" stroke-width="0.85" />
<circle cx="552.70" cy="265.25" r="1.45" fill="#f8caca" stroke="#ee7e80" stroke-width="0.85" />
<circle cx="553.76" cy="264.65" r="1.45" fill="#f8caca" stroke="#ee7e80" stroke-width="0.85" />
<circle cx="554.82" cy="264.10" r="1.45" fill="#f8caca" stroke="#ee7e80" stroke-width="0.85" />
<circle cx="555.88" cy="263.58" r="1.45" fill="#f8caca" stroke="#ee7e80" stroke-width="0.85" />
<circle cx="556.94" cy="263.05" r="1.45" fill="#f8caca" stroke="#ee7e80" stroke-width="0.85" />
<circle cx="558.00" cy="262.50" r="1.45" fill="#f8caca" stroke="#ee7e80" stroke-width="0.85" />
<circle cx="559.06" cy="261.94" r="1.45" fill="#f8caca" stroke="#ee7e80" stroke-width="0.85" />
<circle cx="560.12" cy="261.39" r="1.45" fill="#f8caca" stroke="#ee7e80" stroke-width="0.85" />
<circle cx="561.18" cy="260.83" r="1.45" fill="#f8caca" stroke="#ee7e80" stroke-width="0.85" />
<circle cx="562.24" cy="260.26" r="1.45" fill="#f8caca" stroke="#ee7e80" stroke-width="0.85" />
<circle cx="563.30" cy="259.64" r="1.45" fill="#f8caca" stroke="#ee7e80" stroke-width="0.85" />
<circle cx="564.36" cy="258.96" r="1.45" fill="#f8caca" stroke="#ee7e80" stroke-width="0.85" />
<circle cx="565.42" cy="258.19" r="1.45" fill="#f8caca" stroke="#ee7e80" stroke-width="0.85" />
<circle cx="566.48" cy="257.35" r="1.45" fill="#f8caca" stroke="#ee7e80" stroke-width="0.85" />
<circle cx="567.54" cy="256.47" r="1.45" fill="#f8caca" stroke="#ee7e80" stroke-width="0.85" />
<circle cx="568.60" cy="255.56" r="1.45" fill="#f8caca" stroke="#ee7e80" stroke-width="0.85" />
<circle cx="569.66" cy="254.65" r="1.45" fill="#f8caca" stroke="#ee7e80" stroke-width="0.85" />
<circle cx="570.72" cy="253.76" r="1.45" fill="#f8caca" stroke="#ee7e80" stroke-width="0.85" />
<circle cx="571.78" cy="252.92" r="1.45" fill="#f8caca" stroke="#ee7e80" stroke-width="0.85" />
<circle cx="572.84" cy="252.10" r="1.45" fill="#f8caca" stroke="#ee7e80" stroke-width="0.85" />
<circle cx="573.90" cy="251.27" r="1.45" fill="#f8caca" stroke="#ee7e80" stroke-width="0.85" />
<circle cx="574.96" cy="250.45" r="1.45" fill="#f8caca" stroke="#ee7e80" stroke-width="0.85" />
<circle cx="576.02" cy="249.64" r="1.45" fill="#f8caca" stroke="#ee7e80" stroke-width="0.85" />
<circle cx="577.08" cy="248.83" r="1.45" fill="#f8caca" stroke="#ee7e80" stroke-width="0.85" />
<circle cx="578.14" cy="248.02" r="1.45" fill="#f8caca" stroke="#ee7e80" stroke-width="0.85" />
<circle cx="579.20" cy="247.23" r="1.45" fill="#f8caca" stroke="#ee7e80" stroke-width="0.85" />
<circle cx="580.26" cy="246.44" r="1.45" fill="#f8caca" stroke="#ee7e80" stroke-width="0.85" />
<circle cx="581.32" cy="245.66" r="1.45" fill="#f8caca" stroke="#ee7e80" stroke-width="0.85" />
<circle cx="582.38" cy="244.89" r="1.45" fill="#f8caca" stroke="#ee7e80" stroke-width="0.85" />
<circle cx="583.44" cy="244.12" r="1.45" fill="#f8caca" stroke="#ee7e80" stroke-width="0.85" />
<circle cx="584.50" cy="243.34" r="1.45" fill="#f8caca" stroke="#ee7e80" stroke-width="0.85" />
<circle cx="585.56" cy="242.57" r="1.45" fill="#f8caca" stroke="#ee7e80" stroke-width="0.85" />
<circle cx="586.62" cy="241.80" r="1.45" fill="#f8caca" stroke="#ee7e80" stroke-width="0.85" />
<circle cx="587.68" cy="241.04" r="1.45" fill="#f8caca" stroke="#ee7e80" stroke-width="0.85" />
<circle cx="588.74" cy="240.29" r="1.45" fill="#f8caca" stroke="#ee7e80" stroke-width="0.85" />
<circle cx="589.80" cy="239.55" r="1.45" fill="#f8caca" stroke="#ee7e80" stroke-width="0.85" />
<circle cx="590.86" cy="238.84" r="1.45" fill="#f8caca" stroke="#ee7e80" stroke-width="0.85" />
<circle cx="591.92" cy="238.15" r="1.45" fill="#f8caca" stroke="#ee7e80" stroke-width="0.85" />
<circle cx="592.98" cy="237.49" r="1.45" fill="#f8caca" stroke="#ee7e80" stroke-width="0.85" />
<circle cx="594.04" cy="236.86" r="1.45" fill="#f8caca" stroke="#ee7e80" stroke-width="0.85" />
<circle cx="595.10" cy="236.28" r="1.45" fill="#f8caca" stroke="#ee7e80" stroke-width="0.85" />
<circle cx="596.16" cy="235.72" r="1.45" fill="#f8caca" stroke="#ee7e80" stroke-width="0.85" />
<circle cx="597.22" cy="235.19" r="1.45" fill="#f8caca" stroke="#ee7e80" stroke-width="0.85" />
<circle cx="598.28" cy="234.66" r="1.45" fill="#f8caca" stroke="#ee7e80" stroke-width="0.85" />
<circle cx="599.34" cy="234.13" r="1.45" fill="#f8caca" stroke="#ee7e80" stroke-width="0.85" />
<circle cx="600.40" cy="233.59" r="1.45" fill="#f8caca" stroke="#ee7e80" stroke-width="0.85" />
<circle cx="601.46" cy="233.06" r="1.45" fill="#f8caca" stroke="#ee7e80" stroke-width="0.85" />
<circle cx="602.52" cy="232.53" r="1.45" fill="#f8caca" stroke="#ee7e80" stroke-width="0.85" />
<circle cx="603.58" cy="232.00" r="1.45" fill="#f8caca" stroke="#ee7e80" stroke-width="0.85" />
<circle cx="604.64" cy="231.48" r="1.45" fill="#f8caca" stroke="#ee7e80" stroke-width="0.85" />
<circle cx="605.70" cy="230.95" r="1.45" fill="#f8caca" stroke="#ee7e80" stroke-width="0.85" />
<circle cx="606.76" cy="230.40" r="1.45" fill="#f8caca" stroke="#ee7e80" stroke-width="0.85" />
<circle cx="607.82" cy="229.85" r="1.45" fill="#f8caca" stroke="#ee7e80" stroke-width="0.85" />
<circle cx="608.88" cy="229.32" r="1.45" fill="#f8caca" stroke="#ee7e80" stroke-width="0.85" />
<circle cx="609.94" cy="228.82" r="1.45" fill="#f8caca" stroke="#ee7e80" stroke-width="0.85" />
<circle cx="611.00" cy="228.37" r="1.45" fill="#f8caca" stroke="#ee7e80" stroke-width="0.85" />
<circle cx="612.06" cy="227.89" r="1.45" fill="#f8caca" stroke="#ee7e80" stroke-width="0.85" />
<circle cx="613.12" cy="227.42" r="1.45" fill="#f8caca" stroke="#ee7e80" stroke-width="0.85" />
<circle cx="614.18" cy="227.09" r="1.45" fill="#f8caca" stroke="#ee7e80" stroke-width="0.85" />
<circle cx="615.24" cy="227.01" r="1.45" fill="#f8caca" stroke="#ee7e80" stroke-width="0.85" />
<circle cx="616.30" cy="227.15" r="1.45" fill="#f8caca" stroke="#ee7e80" stroke-width="0.85" />
<circle cx="617.36" cy="227.45" r="1.45" fill="#f8caca" stroke="#ee7e80" stroke-width="0.85" />
<circle cx="618.42" cy="227.82" r="1.45" fill="#f8caca" stroke="#ee7e80" stroke-width="0.85" />
<circle cx="619.48" cy="228.22" r="1.45" fill="#f8caca" stroke="#ee7e80" stroke-width="0.85" />
<circle cx="620.54" cy="228.58" r="1.45" fill="#f8caca" stroke="#ee7e80" stroke-width="0.85" />
<circle cx="621.60" cy="228.89" r="1.45" fill="#f8caca" stroke="#ee7e80" stroke-width="0.85" />
<circle cx="622.66" cy="229.20" r="1.45" fill="#f8caca" stroke="#ee7e80" stroke-width="0.85" />
<circle cx="623.72" cy="229.51" r="1.45" fill="#f8caca" stroke="#ee7e80" stroke-width="0.85" />
<circle cx="624.78" cy="229.83" r="1.45" fill="#f8caca" stroke="#ee7e80" stroke-width="0.85" />
<circle cx="625.84" cy="230.16" r="1.45" fill="#f8caca" stroke="#ee7e80" stroke-width="0.85" />
<circle cx="626.90" cy="230.52" r="1.45" fill="#f8caca" stroke="#ee7e80" stroke-width="0.85" />
<circle cx="627.96" cy="230.98" r="1.45" fill="#f8caca" stroke="#ee7e80" stroke-width="0.85" />
<circle cx="629.02" cy="231.34" r="1.45" fill="#f8caca" stroke="#ee7e80" stroke-width="0.85" />
<circle cx="630.08" cy="231.37" r="1.45" fill="#f8caca" stroke="#ee7e80" stroke-width="0.85" />
<circle cx="631.14" cy="231.11" r="1.45" fill="#f8caca" stroke="#ee7e80" stroke-width="0.85" />
<circle cx="632.20" cy="230.68" r="1.45" fill="#f8caca" stroke="#ee7e80" stroke-width="0.85" />
<circle cx="633.26" cy="230.15" r="1.45" fill="#f8caca" stroke="#ee7e80" stroke-width="0.85" />
<circle cx="634.32" cy="229.19" r="1.45" fill="#f8caca" stroke="#ee7e80" stroke-width="0.85" />
<circle cx="635.38" cy="227.85" r="1.45" fill="#f8caca" stroke="#ee7e80" stroke-width="0.85" />
<circle cx="636.44" cy="226.43" r="1.45" fill="#f8caca" stroke="#ee7e80" stroke-width="0.85" />
<circle cx="637.50" cy="225.20" r="1.45" fill="#f8caca" stroke="#ee7e80" stroke-width="0.85" />
<circle cx="638.56" cy="224.15" r="1.45" fill="#f8caca" stroke="#ee7e80" stroke-width="0.85" />
<circle cx="639.62" cy="223.14" r="1.45" fill="#f8caca" stroke="#ee7e80" stroke-width="0.85" />
<circle cx="640.68" cy="222.21" r="1.45" fill="#f8caca" stroke="#ee7e80" stroke-width="0.85" />
<circle cx="641.74" cy="221.45" r="1.45" fill="#f8caca" stroke="#ee7e80" stroke-width="0.85" />
<circle cx="642.80" cy="220.83" r="1.45" fill="#f8caca" stroke="#ee7e80" stroke-width="0.85" />
<circle cx="643.86" cy="220.24" r="1.45" fill="#f8caca" stroke="#ee7e80" stroke-width="0.85" />
<circle cx="644.92" cy="219.78" r="1.45" fill="#f8caca" stroke="#ee7e80" stroke-width="0.85" />
<circle cx="645.98" cy="219.60" r="1.45" fill="#f8caca" stroke="#ee7e80" stroke-width="0.85" />
<circle cx="647.04" cy="220.14" r="1.45" fill="#f8caca" stroke="#ee7e80" stroke-width="0.85" />
<circle cx="648.10" cy="221.43" r="1.45" fill="#f8caca" stroke="#ee7e80" stroke-width="0.85" />
<circle cx="649.16" cy="222.94" r="1.45" fill="#f8caca" stroke="#ee7e80" stroke-width="0.85" />
<circle cx="650.22" cy="225.02" r="1.45" fill="#f8caca" stroke="#ee7e80" stroke-width="0.85" />
<circle cx="651.28" cy="227.67" r="1.45" fill="#f8caca" stroke="#ee7e80" stroke-width="0.85" />
<circle cx="652.34" cy="231.22" r="1.45" fill="#f8caca" stroke="#ee7e80" stroke-width="0.85" />
<circle cx="653.40" cy="234.94" r="1.45" fill="#f8caca" stroke="#ee7e80" stroke-width="0.85" />
<circle cx="654.46" cy="240.09" r="1.45" fill="#f8caca" stroke="#ee7e80" stroke-width="0.85" />
<circle cx="655.52" cy="248.32" r="1.45" fill="#f8caca" stroke="#ee7e80" stroke-width="0.85" />
<circle cx="656.58" cy="258.21" r="1.45" fill="#f8caca" stroke="#ee7e80" stroke-width="0.85" />
<circle cx="657.64" cy="268.70" r="1.45" fill="#f8caca" stroke="#ee7e80" stroke-width="0.85" />
<circle cx="658.70" cy="280.43" r="1.45" fill="#f8caca" stroke="#ee7e80" stroke-width="0.85" />
<circle cx="659.76" cy="291.49" r="1.45" fill="#f8caca" stroke="#ee7e80" stroke-width="0.85" />
<circle cx="660.82" cy="299.02" r="1.45" fill="#f8caca" stroke="#ee7e80" stroke-width="0.85" />
<circle cx="661.88" cy="305.10" r="1.45" fill="#f8caca" stroke="#ee7e80" stroke-width="0.85" />
<circle cx="662.94" cy="309.51" r="1.45" fill="#f8caca" stroke="#ee7e80" stroke-width="0.85" />
<circle cx="664.00" cy="312.53" r="1.45" fill="#f8caca" stroke="#ee7e80" stroke-width="0.85" />
<circle cx="665.06" cy="315.10" r="1.45" fill="#f8caca" stroke="#ee7e80" stroke-width="0.85" />
<circle cx="666.12" cy="317.04" r="1.45" fill="#f8caca" stroke="#ee7e80" stroke-width="0.85" />
<circle cx="667.18" cy="318.14" r="1.45" fill="#f8caca" stroke="#ee7e80" stroke-width="0.85" />
<circle cx="668.24" cy="318.60" r="1.45" fill="#f8caca" stroke="#ee7e80" stroke-width="0.85" />
<circle cx="669.30" cy="318.97" r="1.45" fill="#f8caca" stroke="#ee7e80" stroke-width="0.85" />
<circle cx="670.36" cy="319.26" r="1.45" fill="#f8caca" stroke="#ee7e80" stroke-width="0.85" />
<circle cx="671.42" cy="319.48" r="1.45" fill="#f8caca" stroke="#ee7e80" stroke-width="0.85" />
<circle cx="672.48" cy="319.63" r="1.45" fill="#f8caca" stroke="#ee7e80" stroke-width="0.85" />
<circle cx="673.54" cy="319.71" r="1.45" fill="#f8caca" stroke="#ee7e80" stroke-width="0.85" />
<circle cx="674.60" cy="319.76" r="1.45" fill="#f8caca" stroke="#ee7e80" stroke-width="0.85" />
<circle cx="675.66" cy="319.81" r="1.45" fill="#f8caca" stroke="#ee7e80" stroke-width="0.85" />
<circle cx="676.72" cy="319.85" r="1.45" fill="#f8caca" stroke="#ee7e80" stroke-width="0.85" />
<circle cx="677.78" cy="319.89" r="1.45" fill="#f8caca" stroke="#ee7e80" stroke-width="0.85" />
<circle cx="678.84" cy="319.92" r="1.45" fill="#f8caca" stroke="#ee7e80" stroke-width="0.85" />
<circle cx="679.90" cy="319.95" r="1.45" fill="#f8caca" stroke="#ee7e80" stroke-width="0.85" />
<circle cx="680.96" cy="319.97" r="1.45" fill="#f8caca" stroke="#ee7e80" stroke-width="0.85" />
<circle cx="682.02" cy="319.99" r="1.45" fill="#f8caca" stroke="#ee7e80" stroke-width="0.85" />
<circle cx="683.08" cy="320.00" r="1.45" fill="#f8caca" stroke="#ee7e80" stroke-width="0.85" />
<circle cx="684.14" cy="320.00" r="1.45" fill="#f8caca" stroke="#ee7e80" stroke-width="0.85" />
<polyline points="515.60,320.30 515.85,319.58 516.10,318.85 516.35,318.13 516.60,317.40 516.85,316.67 517.10,315.93 517.35,315.20 517.60,314.46 517.85,313.72 518.10,312.98 518.35,312.24 518.60,311.49 518.85,310.75 519.10,310.00 519.35,309.24 519.60,308.46 519.85,307.67 520.10,306.89 520.35,306.11 520.60,305.33 520.85,304.57 521.10,303.83 521.35,303.12 521.60,302.43 521.85,301.75 522.10,301.09 522.35,300.44 522.60,299.81 522.85,299.18 523.10,298.57 523.35,297.98 523.60,297.40 523.85,296.83 524.10,296.28 524.35,295.74 524.60,295.21 524.85,294.69 525.10,294.18 525.35,293.69 525.60,293.20 525.85,292.73 526.10,292.27 526.35,291.83 526.60,291.40 526.85,290.97 527.10,290.54 527.35,290.12 527.60,289.70 527.85,289.29 528.10,288.91 528.35,288.55 528.60,288.22 528.85,287.94 529.10,287.70 529.35,287.50 529.60,287.32 529.85,287.16 530.10,287.01 530.35,286.87 530.60,286.74 530.85,286.61 531.10,286.48 531.35,286.34 531.60,286.20 531.85,286.05 532.10,285.91 532.35,285.77 532.60,285.63 532.85,285.49 533.10,285.35 533.35,285.21 533.60,285.07 533.85,284.93 534.10,284.79 534.35,284.65 534.60,284.51 534.85,284.37 535.10,284.22 535.35,284.08 535.60,283.93 535.85,283.78 536.10,283.62 536.35,283.46 536.60,283.30 536.85,283.13 537.10,282.96 537.35,282.79 537.60,282.61 537.85,282.43 538.10,282.25 538.35,282.06 538.60,281.88 538.85,281.69 539.10,281.49 539.35,281.30 539.60,281.10 539.85,280.91 540.10,280.71 540.35,280.51 540.60,280.31 540.85,280.11 541.10,279.90 541.35,279.70 541.60,279.50 541.85,279.30 542.10,279.09 542.35,278.88 542.60,278.67 542.85,278.46 543.10,278.24 543.35,278.03 543.60,277.81 543.85,277.59 544.10,277.37 544.35,277.15 544.60,276.93 544.85,276.71 545.10,276.49 545.35,276.27 545.60,276.05 545.85,275.83 546.10,275.62 546.35,275.40 546.60,275.19 546.85,274.97 547.10,274.75 547.35,274.53 547.60,274.31 547.85,274.09 548.10,273.86 548.35,273.64 548.60,273.41 548.85,273.19 549.10,272.96 549.35,272.74 549.60,272.52 549.85,272.31 550.10,272.10 550.35,271.90 550.60,271.70 550.85,271.50 551.10,271.32 551.35,271.14 551.60,270.97 551.85,270.80 552.10,270.65 552.35,270.49 552.60,270.34 552.85,270.20 553.10,270.06 553.35,269.92 553.60,269.78 553.85,269.65 554.10,269.52 554.35,269.39 554.60,269.26 554.85,269.14 555.10,269.02 555.35,268.90 555.60,268.77 555.85,268.65 556.10,268.53 556.35,268.41 556.60,268.29 556.85,268.17 557.10,268.05 557.35,267.93 557.60,267.80 557.85,267.68 558.10,267.55 558.35,267.42 558.60,267.30 558.85,267.18 559.10,267.06 559.35,266.94 559.60,266.82 559.85,266.71 560.10,266.59 560.35,266.47 560.60,266.36 560.85,266.24 561.10,266.12 561.35,266.00 561.60,265.88 561.85,265.76 562.10,265.64 562.35,265.51 562.60,265.38 562.85,265.25 563.10,265.12 563.35,264.98 563.60,264.84 563.85,264.69 564.10,264.54 564.35,264.38 564.60,264.22 564.85,264.05 565.10,263.88 565.35,263.70 565.60,263.52 565.85,263.33 566.10,263.14 566.35,262.95 566.60,262.75 566.85,262.55 567.10,262.35 567.35,262.14 567.60,261.94 567.85,261.73 568.10,261.52 568.35,261.31 568.60,261.10 568.85,260.89 569.10,260.68 569.35,260.47 569.60,260.27 569.85,260.06 570.10,259.85 570.35,259.65 570.60,259.45 570.85,259.25 571.10,259.05 571.35,258.86 571.60,258.67 571.85,258.48 572.10,258.29 572.35,258.09 572.60,257.90 572.85,257.71 573.10,257.52 573.35,257.32 573.60,257.13 573.85,256.94 574.10,256.75 574.35,256.56 574.60,256.36 574.85,256.17 575.10,255.98 575.35,255.79 575.60,255.60 575.85,255.41 576.10,255.22 576.35,255.02 576.60,254.83 576.85,254.64 577.10,254.45 577.35,254.27 577.60,254.08 577.85,253.89 578.10,253.70 578.35,253.51 578.60,253.33 578.85,253.14 579.10,252.95 579.35,252.77 579.60,252.59 579.85,252.40 580.10,252.22 580.35,252.04 580.60,251.85 580.85,251.67 581.10,251.49 581.35,251.31 581.60,251.14 581.85,250.96 582.10,250.78 582.35,250.61 582.60,250.43 582.85,250.26 583.10,250.08 583.35,249.91 583.60,249.73 583.85,249.56 584.10,249.38 584.35,249.21 584.60,249.04 584.85,248.86 585.10,248.69 585.35,248.52 585.60,248.34 585.85,248.17 586.10,248.00 586.35,247.83 586.60,247.66 586.85,247.49 587.10,247.32 587.35,247.15 587.60,246.98 587.85,246.81 588.10,246.65 588.35,246.48 588.60,246.31 588.85,246.15 589.10,245.99 589.35,245.82 589.60,245.66 589.85,245.50 590.10,245.34 590.35,245.18 590.60,245.02 590.85,244.86 591.10,244.71 591.35,244.55 591.60,244.40 591.85,244.25 592.10,244.10 592.35,243.95 592.60,243.80 592.85,243.65 593.10,243.50 593.35,243.36 593.60,243.21 593.85,243.07 594.10,242.93 594.35,242.79 594.60,242.65 594.85,242.52 595.10,242.38 595.35,242.24 595.60,242.11 595.85,241.98 596.10,241.84 596.35,241.71 596.60,241.58 596.85,241.45 597.10,241.32 597.35,241.20 597.60,241.07 597.85,240.94 598.10,240.82 598.35,240.69 598.60,240.57 598.85,240.44 599.10,240.32 599.35,240.20 599.60,240.08 599.85,239.95 600.10,239.83 600.35,239.71 600.60,239.59 600.85,239.47 601.10,239.35 601.35,239.23 601.60,239.11 601.85,238.99 602.10,238.88 602.35,238.76 602.60,238.64 602.85,238.52 603.10,238.40 603.35,238.28 603.60,238.16 603.85,238.05 604.10,237.93 604.35,237.81 604.60,237.69 604.85,237.57 605.10,237.45 605.35,237.33 605.60,237.20 605.85,237.08 606.10,236.95 606.35,236.82 606.60,236.69 606.85,236.56 607.10,236.43 607.35,236.30 607.60,236.18 607.85,236.05 608.10,235.93 608.35,235.82 608.60,235.71 608.85,235.60 609.10,235.50 609.35,235.41 609.60,235.32 609.85,235.24 610.10,235.17 610.35,235.10 610.60,235.03 610.85,234.96 611.10,234.89 611.35,234.82 611.60,234.75 611.85,234.69 612.10,234.62 612.35,234.56 612.60,234.50 612.85,234.45 613.10,234.40 613.35,234.35 613.60,234.31 613.85,234.28 614.10,234.25 614.35,234.23 614.60,234.21 614.85,234.20 615.10,234.20 615.35,234.22 615.60,234.25 615.85,234.29 616.10,234.35 616.35,234.42 616.60,234.49 616.85,234.58 617.10,234.68 617.35,234.78 617.60,234.89 617.85,235.00 618.10,235.11 618.35,235.23 618.60,235.34 618.85,235.46 619.10,235.57 619.35,235.68 619.60,235.78 619.85,235.88 620.10,235.97 620.35,236.05 620.60,236.13 620.85,236.19 621.10,236.24 621.35,236.27 621.60,236.29 621.85,236.30 622.10,236.28 622.35,236.23 622.60,236.16 622.85,236.06 623.10,235.95 623.35,235.82 623.60,235.68 623.85,235.53 624.10,235.38 624.35,235.22 624.60,235.06 624.85,234.90 625.10,234.75 625.35,234.61 625.60,234.48 625.85,234.36 626.10,234.26 626.35,234.19 626.60,234.12 626.85,234.06 627.10,234.00 627.35,233.95 627.60,233.90 627.85,233.86 628.10,233.82 628.35,233.78 628.60,233.74 628.85,233.70 629.10,233.66 629.35,233.62 629.60,233.59 629.85,233.55 630.10,233.50 630.35,233.46 630.60,233.41 630.85,233.36 631.10,233.31 631.35,233.25 631.60,233.18 631.85,233.11 632.10,233.04 632.35,232.94 632.60,232.83 632.85,232.71 633.10,232.57 633.35,232.43 633.60,232.27 633.85,232.11 634.10,231.94 634.35,231.77 634.60,231.59 634.85,231.41 635.10,231.23 635.35,231.04 635.60,230.87 635.85,230.69 636.10,230.52 636.35,230.35 636.60,230.19 636.85,230.04 637.10,229.90 637.35,229.77 637.60,229.65 637.85,229.53 638.10,229.41 638.35,229.28 638.60,229.15 638.85,229.03 639.10,228.90 639.35,228.78 639.60,228.66 639.85,228.55 640.10,228.44 640.35,228.34 640.60,228.25 640.85,228.18 641.10,228.11 641.35,228.06 641.60,228.02 641.85,228.00 642.10,228.00 642.35,228.02 642.60,228.04 642.85,228.09 643.10,228.14 643.35,228.21 643.60,228.29 643.85,228.38 644.10,228.48 644.35,228.58 644.60,228.70 644.85,228.82 645.10,228.94 645.35,229.07 645.60,229.23 645.85,229.44 646.10,229.71 646.35,230.01 646.60,230.35 646.85,230.71 647.10,231.09 647.35,231.47 647.60,231.85 647.85,232.22 648.10,232.61 648.35,233.01 648.60,233.42 648.85,233.85 649.10,234.31 649.35,234.78 649.60,235.28 649.85,235.79 650.10,236.35 650.35,236.95 650.60,237.59 650.85,238.27 651.10,238.97 651.35,239.68 651.60,240.40 651.85,241.14 652.10,241.92 652.35,242.71 652.60,243.49 652.85,244.23 653.10,244.88 653.35,245.52 653.60,246.25 653.85,247.18 654.10,248.59 654.35,250.62 654.60,252.80 654.85,255.05 655.10,257.47 655.35,259.78 655.60,261.73 655.85,263.43 656.10,264.98 656.35,266.47 656.60,267.98 656.85,269.55 657.10,271.11 657.35,272.66 657.60,274.22 657.85,275.77 658.10,277.33 658.35,278.91 658.60,280.50 658.85,282.12 659.10,283.77 659.35,285.55 659.60,287.43 659.85,289.35 660.10,291.25 660.35,293.09 660.60,294.79 660.85,296.31 661.10,297.60 661.35,298.72 661.60,299.77 661.85,300.76 662.10,301.70 662.35,302.59 662.60,303.43 662.85,304.23 663.10,304.98 663.35,305.70 663.60,306.38 663.85,307.03 664.10,307.66 664.35,308.26 664.60,308.87 664.85,309.47 665.10,310.08 665.35,310.67 665.60,311.26 665.85,311.84 666.10,312.40 666.35,312.95 666.60,313.48 666.85,313.99 667.10,314.47 667.35,314.92 667.60,315.34 667.85,315.73 668.10,316.09 668.35,316.40 668.60,316.68 668.85,316.91 669.10,317.09 669.35,317.22 669.60,317.34 669.85,317.45 670.10,317.56 670.35,317.66 670.60,317.76 670.85,317.85 671.10,317.95 671.35,318.03 671.60,318.12 671.85,318.20 672.10,318.28 672.35,318.35 672.60,318.42 672.85,318.49 673.10,318.56 673.35,318.62 673.60,318.68 673.85,318.73 674.10,318.79 674.35,318.84 674.60,318.89 674.85,318.93 675.10,318.98 675.35,319.02 675.60,319.06 675.85,319.09 676.10,319.13 676.35,319.16 676.60,319.19 676.85,319.22 677.10,319.25 677.35,319.28 677.60,319.30 677.85,319.32 678.10,319.35 678.35,319.37 678.60,319.39 678.85,319.42 679.10,319.44 679.35,319.46 679.60,319.48 679.85,319.50 680.10,319.52 680.35,319.54 680.60,319.56 680.85,319.58 681.10,319.59 681.35,319.61 681.60,319.62 681.85,319.64 682.10,319.65 682.35,319.66 682.60,319.67 682.85,319.68 683.10,319.68 683.35,319.69 683.60,319.70 683.85,319.70 684.10,319.70" fill="none" stroke="#3b79b7" stroke-width="0.7" stroke-linejoin="round" stroke-linecap="round" />
<circle cx="515.60" cy="320.30" r="1.45" fill="#bcd3ea" stroke="#3b79b7" stroke-width="0.85" />
<circle cx="516.66" cy="317.22" r="1.45" fill="#bcd3ea" stroke="#3b79b7" stroke-width="0.85" />
<circle cx="517.72" cy="314.11" r="1.45" fill="#bcd3ea" stroke="#3b79b7" stroke-width="0.85" />
<circle cx="518.78" cy="310.96" r="1.45" fill="#bcd3ea" stroke="#3b79b7" stroke-width="0.85" />
<circle cx="519.84" cy="307.71" r="1.45" fill="#bcd3ea" stroke="#3b79b7" stroke-width="0.85" />
<circle cx="520.90" cy="304.42" r="1.45" fill="#bcd3ea" stroke="#3b79b7" stroke-width="0.85" />
<circle cx="521.96" cy="301.46" r="1.45" fill="#bcd3ea" stroke="#3b79b7" stroke-width="0.85" />
<circle cx="523.02" cy="298.77" r="1.45" fill="#bcd3ea" stroke="#3b79b7" stroke-width="0.85" />
<circle cx="524.08" cy="296.33" r="1.45" fill="#bcd3ea" stroke="#3b79b7" stroke-width="0.85" />
<circle cx="525.14" cy="294.10" r="1.45" fill="#bcd3ea" stroke="#3b79b7" stroke-width="0.85" />
<circle cx="526.20" cy="292.09" r="1.45" fill="#bcd3ea" stroke="#3b79b7" stroke-width="0.85" />
<circle cx="527.26" cy="290.27" r="1.45" fill="#bcd3ea" stroke="#3b79b7" stroke-width="0.85" />
<circle cx="528.32" cy="288.59" r="1.45" fill="#bcd3ea" stroke="#3b79b7" stroke-width="0.85" />
<circle cx="529.38" cy="287.48" r="1.45" fill="#bcd3ea" stroke="#3b79b7" stroke-width="0.85" />
<circle cx="530.44" cy="286.82" r="1.45" fill="#bcd3ea" stroke="#3b79b7" stroke-width="0.85" />
<circle cx="531.50" cy="286.26" r="1.45" fill="#bcd3ea" stroke="#3b79b7" stroke-width="0.85" />
<circle cx="532.56" cy="285.65" r="1.45" fill="#bcd3ea" stroke="#3b79b7" stroke-width="0.85" />
<circle cx="533.62" cy="285.06" r="1.45" fill="#bcd3ea" stroke="#3b79b7" stroke-width="0.85" />
<circle cx="534.68" cy="284.47" r="1.45" fill="#bcd3ea" stroke="#3b79b7" stroke-width="0.85" />
<circle cx="535.74" cy="283.84" r="1.45" fill="#bcd3ea" stroke="#3b79b7" stroke-width="0.85" />
<circle cx="536.80" cy="283.17" r="1.45" fill="#bcd3ea" stroke="#3b79b7" stroke-width="0.85" />
<circle cx="537.86" cy="282.43" r="1.45" fill="#bcd3ea" stroke="#3b79b7" stroke-width="0.85" />
<circle cx="538.92" cy="281.63" r="1.45" fill="#bcd3ea" stroke="#3b79b7" stroke-width="0.85" />
<circle cx="539.98" cy="280.80" r="1.45" fill="#bcd3ea" stroke="#3b79b7" stroke-width="0.85" />
<circle cx="541.04" cy="279.95" r="1.45" fill="#bcd3ea" stroke="#3b79b7" stroke-width="0.85" />
<circle cx="542.10" cy="279.09" r="1.45" fill="#bcd3ea" stroke="#3b79b7" stroke-width="0.85" />
<circle cx="543.16" cy="278.19" r="1.45" fill="#bcd3ea" stroke="#3b79b7" stroke-width="0.85" />
<circle cx="544.22" cy="277.27" r="1.45" fill="#bcd3ea" stroke="#3b79b7" stroke-width="0.85" />
<circle cx="545.28" cy="276.33" r="1.45" fill="#bcd3ea" stroke="#3b79b7" stroke-width="0.85" />
<circle cx="546.34" cy="275.41" r="1.45" fill="#bcd3ea" stroke="#3b79b7" stroke-width="0.85" />
<circle cx="547.40" cy="274.49" r="1.45" fill="#bcd3ea" stroke="#3b79b7" stroke-width="0.85" />
<circle cx="548.46" cy="273.54" r="1.45" fill="#bcd3ea" stroke="#3b79b7" stroke-width="0.85" />
<circle cx="549.52" cy="272.59" r="1.45" fill="#bcd3ea" stroke="#3b79b7" stroke-width="0.85" />
<circle cx="550.58" cy="271.71" r="1.45" fill="#bcd3ea" stroke="#3b79b7" stroke-width="0.85" />
<circle cx="551.64" cy="270.94" r="1.45" fill="#bcd3ea" stroke="#3b79b7" stroke-width="0.85" />
<circle cx="552.70" cy="270.28" r="1.45" fill="#bcd3ea" stroke="#3b79b7" stroke-width="0.85" />
<circle cx="553.76" cy="269.70" r="1.45" fill="#bcd3ea" stroke="#3b79b7" stroke-width="0.85" />
<circle cx="554.82" cy="269.15" r="1.45" fill="#bcd3ea" stroke="#3b79b7" stroke-width="0.85" />
<circle cx="555.88" cy="268.64" r="1.45" fill="#bcd3ea" stroke="#3b79b7" stroke-width="0.85" />
<circle cx="556.94" cy="268.13" r="1.45" fill="#bcd3ea" stroke="#3b79b7" stroke-width="0.85" />
<circle cx="558.00" cy="267.60" r="1.45" fill="#bcd3ea" stroke="#3b79b7" stroke-width="0.85" />
<circle cx="559.06" cy="267.08" r="1.45" fill="#bcd3ea" stroke="#3b79b7" stroke-width="0.85" />
<circle cx="560.12" cy="266.58" r="1.45" fill="#bcd3ea" stroke="#3b79b7" stroke-width="0.85" />
<circle cx="561.18" cy="266.09" r="1.45" fill="#bcd3ea" stroke="#3b79b7" stroke-width="0.85" />
<circle cx="562.24" cy="265.57" r="1.45" fill="#bcd3ea" stroke="#3b79b7" stroke-width="0.85" />
<circle cx="563.30" cy="265.01" r="1.45" fill="#bcd3ea" stroke="#3b79b7" stroke-width="0.85" />
<circle cx="564.36" cy="264.38" r="1.45" fill="#bcd3ea" stroke="#3b79b7" stroke-width="0.85" />
<circle cx="565.42" cy="263.65" r="1.45" fill="#bcd3ea" stroke="#3b79b7" stroke-width="0.85" />
<circle cx="566.48" cy="262.85" r="1.45" fill="#bcd3ea" stroke="#3b79b7" stroke-width="0.85" />
<circle cx="567.54" cy="261.99" r="1.45" fill="#bcd3ea" stroke="#3b79b7" stroke-width="0.85" />
<circle cx="568.60" cy="261.10" r="1.45" fill="#bcd3ea" stroke="#3b79b7" stroke-width="0.85" />
<circle cx="569.66" cy="260.22" r="1.45" fill="#bcd3ea" stroke="#3b79b7" stroke-width="0.85" />
<circle cx="570.72" cy="259.35" r="1.45" fill="#bcd3ea" stroke="#3b79b7" stroke-width="0.85" />
<circle cx="571.78" cy="258.53" r="1.45" fill="#bcd3ea" stroke="#3b79b7" stroke-width="0.85" />
<circle cx="572.84" cy="257.72" r="1.45" fill="#bcd3ea" stroke="#3b79b7" stroke-width="0.85" />
<circle cx="573.90" cy="256.90" r="1.45" fill="#bcd3ea" stroke="#3b79b7" stroke-width="0.85" />
<circle cx="574.96" cy="256.09" r="1.45" fill="#bcd3ea" stroke="#3b79b7" stroke-width="0.85" />
<circle cx="576.02" cy="255.28" r="1.45" fill="#bcd3ea" stroke="#3b79b7" stroke-width="0.85" />
<circle cx="577.08" cy="254.47" r="1.45" fill="#bcd3ea" stroke="#3b79b7" stroke-width="0.85" />
<circle cx="578.14" cy="253.67" r="1.45" fill="#bcd3ea" stroke="#3b79b7" stroke-width="0.85" />
<circle cx="579.20" cy="252.88" r="1.45" fill="#bcd3ea" stroke="#3b79b7" stroke-width="0.85" />
<circle cx="580.26" cy="252.10" r="1.45" fill="#bcd3ea" stroke="#3b79b7" stroke-width="0.85" />
<circle cx="581.32" cy="251.34" r="1.45" fill="#bcd3ea" stroke="#3b79b7" stroke-width="0.85" />
<circle cx="582.38" cy="250.58" r="1.45" fill="#bcd3ea" stroke="#3b79b7" stroke-width="0.85" />
<circle cx="583.44" cy="249.84" r="1.45" fill="#bcd3ea" stroke="#3b79b7" stroke-width="0.85" />
<circle cx="584.50" cy="249.10" r="1.45" fill="#bcd3ea" stroke="#3b79b7" stroke-width="0.85" />
<circle cx="585.56" cy="248.37" r="1.45" fill="#bcd3ea" stroke="#3b79b7" stroke-width="0.85" />
<circle cx="586.62" cy="247.64" r="1.45" fill="#bcd3ea" stroke="#3b79b7" stroke-width="0.85" />
<circle cx="587.68" cy="246.93" r="1.45" fill="#bcd3ea" stroke="#3b79b7" stroke-width="0.85" />
<circle cx="588.74" cy="246.22" r="1.45" fill="#bcd3ea" stroke="#3b79b7" stroke-width="0.85" />
<circle cx="589.80" cy="245.53" r="1.45" fill="#bcd3ea" stroke="#3b79b7" stroke-width="0.85" />
<circle cx="590.86" cy="244.86" r="1.45" fill="#bcd3ea" stroke="#3b79b7" stroke-width="0.85" />
<circle cx="591.92" cy="244.20" r="1.45" fill="#bcd3ea" stroke="#3b79b7" stroke-width="0.85" />
<circle cx="592.98" cy="243.57" r="1.45" fill="#bcd3ea" stroke="#3b79b7" stroke-width="0.85" />
<circle cx="594.04" cy="242.96" r="1.45" fill="#bcd3ea" stroke="#3b79b7" stroke-width="0.85" />
<circle cx="595.10" cy="242.38" r="1.45" fill="#bcd3ea" stroke="#3b79b7" stroke-width="0.85" />
<circle cx="596.16" cy="241.81" r="1.45" fill="#bcd3ea" stroke="#3b79b7" stroke-width="0.85" />
<circle cx="597.22" cy="241.26" r="1.45" fill="#bcd3ea" stroke="#3b79b7" stroke-width="0.85" />
<circle cx="598.28" cy="240.73" r="1.45" fill="#bcd3ea" stroke="#3b79b7" stroke-width="0.85" />
<circle cx="599.34" cy="240.20" r="1.45" fill="#bcd3ea" stroke="#3b79b7" stroke-width="0.85" />
<circle cx="600.40" cy="239.69" r="1.45" fill="#bcd3ea" stroke="#3b79b7" stroke-width="0.85" />
<circle cx="601.46" cy="239.18" r="1.45" fill="#bcd3ea" stroke="#3b79b7" stroke-width="0.85" />
<circle cx="602.52" cy="238.68" r="1.45" fill="#bcd3ea" stroke="#3b79b7" stroke-width="0.85" />
<circle cx="603.58" cy="238.17" r="1.45" fill="#bcd3ea" stroke="#3b79b7" stroke-width="0.85" />
<circle cx="604.64" cy="237.67" r="1.45" fill="#bcd3ea" stroke="#3b79b7" stroke-width="0.85" />
<circle cx="605.70" cy="237.15" r="1.45" fill="#bcd3ea" stroke="#3b79b7" stroke-width="0.85" />
<circle cx="606.76" cy="236.61" r="1.45" fill="#bcd3ea" stroke="#3b79b7" stroke-width="0.85" />
<circle cx="607.82" cy="236.07" r="1.45" fill="#bcd3ea" stroke="#3b79b7" stroke-width="0.85" />
<circle cx="608.88" cy="235.59" r="1.45" fill="#bcd3ea" stroke="#3b79b7" stroke-width="0.85" />
<circle cx="609.94" cy="235.22" r="1.45" fill="#bcd3ea" stroke="#3b79b7" stroke-width="0.85" />
<circle cx="611.00" cy="234.92" r="1.45" fill="#bcd3ea" stroke="#3b79b7" stroke-width="0.85" />
<circle cx="612.06" cy="234.63" r="1.45" fill="#bcd3ea" stroke="#3b79b7" stroke-width="0.85" />
<circle cx="613.12" cy="234.39" r="1.45" fill="#bcd3ea" stroke="#3b79b7" stroke-width="0.85" />
<circle cx="614.18" cy="234.24" r="1.45" fill="#bcd3ea" stroke="#3b79b7" stroke-width="0.85" />
<circle cx="615.24" cy="234.21" r="1.45" fill="#bcd3ea" stroke="#3b79b7" stroke-width="0.85" />
<circle cx="616.30" cy="234.40" r="1.45" fill="#bcd3ea" stroke="#3b79b7" stroke-width="0.85" />
<circle cx="617.36" cy="234.78" r="1.45" fill="#bcd3ea" stroke="#3b79b7" stroke-width="0.85" />
<circle cx="618.42" cy="235.26" r="1.45" fill="#bcd3ea" stroke="#3b79b7" stroke-width="0.85" />
<circle cx="619.48" cy="235.73" r="1.45" fill="#bcd3ea" stroke="#3b79b7" stroke-width="0.85" />
<circle cx="620.54" cy="236.11" r="1.45" fill="#bcd3ea" stroke="#3b79b7" stroke-width="0.85" />
<circle cx="621.60" cy="236.29" r="1.45" fill="#bcd3ea" stroke="#3b79b7" stroke-width="0.85" />
<circle cx="622.66" cy="236.14" r="1.45" fill="#bcd3ea" stroke="#3b79b7" stroke-width="0.85" />
<circle cx="623.72" cy="235.61" r="1.45" fill="#bcd3ea" stroke="#3b79b7" stroke-width="0.85" />
<circle cx="624.78" cy="234.94" r="1.45" fill="#bcd3ea" stroke="#3b79b7" stroke-width="0.85" />
<circle cx="625.84" cy="234.37" r="1.45" fill="#bcd3ea" stroke="#3b79b7" stroke-width="0.85" />
<circle cx="626.90" cy="234.05" r="1.45" fill="#bcd3ea" stroke="#3b79b7" stroke-width="0.85" />
<circle cx="627.96" cy="233.84" r="1.45" fill="#bcd3ea" stroke="#3b79b7" stroke-width="0.85" />
<circle cx="629.02" cy="233.67" r="1.45" fill="#bcd3ea" stroke="#3b79b7" stroke-width="0.85" />
<circle cx="630.08" cy="233.51" r="1.45" fill="#bcd3ea" stroke="#3b79b7" stroke-width="0.85" />
<circle cx="631.14" cy="233.30" r="1.45" fill="#bcd3ea" stroke="#3b79b7" stroke-width="0.85" />
<circle cx="632.20" cy="233.00" r="1.45" fill="#bcd3ea" stroke="#3b79b7" stroke-width="0.85" />
<circle cx="633.26" cy="232.48" r="1.45" fill="#bcd3ea" stroke="#3b79b7" stroke-width="0.85" />
<circle cx="634.32" cy="231.79" r="1.45" fill="#bcd3ea" stroke="#3b79b7" stroke-width="0.85" />
<circle cx="635.38" cy="231.02" r="1.45" fill="#bcd3ea" stroke="#3b79b7" stroke-width="0.85" />
<circle cx="636.44" cy="230.29" r="1.45" fill="#bcd3ea" stroke="#3b79b7" stroke-width="0.85" />
<circle cx="637.50" cy="229.70" r="1.45" fill="#bcd3ea" stroke="#3b79b7" stroke-width="0.85" />
<circle cx="638.56" cy="229.18" r="1.45" fill="#bcd3ea" stroke="#3b79b7" stroke-width="0.85" />
<circle cx="639.62" cy="228.65" r="1.45" fill="#bcd3ea" stroke="#3b79b7" stroke-width="0.85" />
<circle cx="640.68" cy="228.23" r="1.45" fill="#bcd3ea" stroke="#3b79b7" stroke-width="0.85" />
<circle cx="641.74" cy="228.01" r="1.45" fill="#bcd3ea" stroke="#3b79b7" stroke-width="0.85" />
<circle cx="642.80" cy="228.08" r="1.45" fill="#bcd3ea" stroke="#3b79b7" stroke-width="0.85" />
<circle cx="643.86" cy="228.38" r="1.45" fill="#bcd3ea" stroke="#3b79b7" stroke-width="0.85" />
<circle cx="644.92" cy="228.85" r="1.45" fill="#bcd3ea" stroke="#3b79b7" stroke-width="0.85" />
<circle cx="645.98" cy="229.57" r="1.45" fill="#bcd3ea" stroke="#3b79b7" stroke-width="0.85" />
<circle cx="647.04" cy="231.00" r="1.45" fill="#bcd3ea" stroke="#3b79b7" stroke-width="0.85" />
<circle cx="648.10" cy="232.61" r="1.45" fill="#bcd3ea" stroke="#3b79b7" stroke-width="0.85" />
<circle cx="649.16" cy="234.42" r="1.45" fill="#bcd3ea" stroke="#3b79b7" stroke-width="0.85" />
<circle cx="650.22" cy="236.63" r="1.45" fill="#bcd3ea" stroke="#3b79b7" stroke-width="0.85" />
<circle cx="651.28" cy="239.48" r="1.45" fill="#bcd3ea" stroke="#3b79b7" stroke-width="0.85" />
<circle cx="652.34" cy="242.68" r="1.45" fill="#bcd3ea" stroke="#3b79b7" stroke-width="0.85" />
<circle cx="653.40" cy="245.65" r="1.45" fill="#bcd3ea" stroke="#3b79b7" stroke-width="0.85" />
<circle cx="654.46" cy="251.59" r="1.45" fill="#bcd3ea" stroke="#3b79b7" stroke-width="0.85" />
<circle cx="655.52" cy="261.15" r="1.45" fill="#bcd3ea" stroke="#3b79b7" stroke-width="0.85" />
<circle cx="656.58" cy="267.85" r="1.45" fill="#bcd3ea" stroke="#3b79b7" stroke-width="0.85" />
<circle cx="657.64" cy="274.47" r="1.45" fill="#bcd3ea" stroke="#3b79b7" stroke-width="0.85" />
<circle cx="658.70" cy="281.14" r="1.45" fill="#bcd3ea" stroke="#3b79b7" stroke-width="0.85" />
<circle cx="659.76" cy="288.66" r="1.45" fill="#bcd3ea" stroke="#3b79b7" stroke-width="0.85" />
<circle cx="660.82" cy="296.14" r="1.45" fill="#bcd3ea" stroke="#3b79b7" stroke-width="0.85" />
<circle cx="661.88" cy="300.88" r="1.45" fill="#bcd3ea" stroke="#3b79b7" stroke-width="0.85" />
<circle cx="662.94" cy="304.50" r="1.45" fill="#bcd3ea" stroke="#3b79b7" stroke-width="0.85" />
<circle cx="664.00" cy="307.41" r="1.45" fill="#bcd3ea" stroke="#3b79b7" stroke-width="0.85" />
<circle cx="665.06" cy="309.98" r="1.45" fill="#bcd3ea" stroke="#3b79b7" stroke-width="0.85" />
<circle cx="666.12" cy="312.45" r="1.45" fill="#bcd3ea" stroke="#3b79b7" stroke-width="0.85" />
<circle cx="667.18" cy="314.61" r="1.45" fill="#bcd3ea" stroke="#3b79b7" stroke-width="0.85" />
<circle cx="668.24" cy="316.27" r="1.45" fill="#bcd3ea" stroke="#3b79b7" stroke-width="0.85" />
<circle cx="669.30" cy="317.20" r="1.45" fill="#bcd3ea" stroke="#3b79b7" stroke-width="0.85" />
<circle cx="670.36" cy="317.66" r="1.45" fill="#bcd3ea" stroke="#3b79b7" stroke-width="0.85" />
<circle cx="671.42" cy="318.06" r="1.45" fill="#bcd3ea" stroke="#3b79b7" stroke-width="0.85" />
<circle cx="672.48" cy="318.39" r="1.45" fill="#bcd3ea" stroke="#3b79b7" stroke-width="0.85" />
<circle cx="673.54" cy="318.66" r="1.45" fill="#bcd3ea" stroke="#3b79b7" stroke-width="0.85" />
<circle cx="674.60" cy="318.89" r="1.45" fill="#bcd3ea" stroke="#3b79b7" stroke-width="0.85" />
<circle cx="675.66" cy="319.06" r="1.45" fill="#bcd3ea" stroke="#3b79b7" stroke-width="0.85" />
<circle cx="676.72" cy="319.21" r="1.45" fill="#bcd3ea" stroke="#3b79b7" stroke-width="0.85" />
<circle cx="677.78" cy="319.32" r="1.45" fill="#bcd3ea" stroke="#3b79b7" stroke-width="0.85" />
<circle cx="678.84" cy="319.42" r="1.45" fill="#bcd3ea" stroke="#3b79b7" stroke-width="0.85" />
<circle cx="679.90" cy="319.51" r="1.45" fill="#bcd3ea" stroke="#3b79b7" stroke-width="0.85" />
<circle cx="680.96" cy="319.58" r="1.45" fill="#bcd3ea" stroke="#3b79b7" stroke-width="0.85" />
<circle cx="682.02" cy="319.64" r="1.45" fill="#bcd3ea" stroke="#3b79b7" stroke-width="0.85" />
<circle cx="683.08" cy="319.68" r="1.45" fill="#bcd3ea" stroke="#3b79b7" stroke-width="0.85" />
<circle cx="684.14" cy="319.70" r="1.45" fill="#bcd3ea" stroke="#3b79b7" stroke-width="0.85" />
<polyline points="521.50,197.00 543.80,197.00" fill="none" stroke="#3b79b7" stroke-width="1.1" stroke-linejoin="round" stroke-linecap="round" />
<circle cx="532.70" cy="197.00" r="1.35" fill="none" stroke="#3b79b7" stroke-width="0.8" />
<text x="549.50" y="200.30" font-size="9.0" text-anchor="start" font-weight="normal" fill="#1a1a1a" >w/o Sn(SCN)<tspan dy="2.8" font-size="6.2">2</tspan></text>
<polyline points="521.50,210.80 543.80,210.80" fill="none" stroke="#ee7e80" stroke-width="1.1" stroke-linejoin="round" stroke-linecap="round" />
<circle cx="532.70" cy="210.80" r="1.35" fill="none" stroke="#ee7e80" stroke-width="0.8" />
<text x="549.50" y="214.00" font-size="9.0" text-anchor="start" font-weight="normal" fill="#1a1a1a" >with Sn(SCN)<tspan dy="2.8" font-size="6.2">2</tspan></text>
<rect x="515.20" y="190.50" width="169.30" height="129.90" fill="none" stroke="#1a1a1a" stroke-width="1.1"/>
<line x1="515.20" y1="320.40" x2="519.70" y2="320.40" stroke="#1a1a1a" stroke-width="1.0" />
<text x="510.40" y="323.80" font-size="9.4" text-anchor="end" font-weight="normal" fill="#1a1a1a" >0.0</text>
<line x1="515.20" y1="287.88" x2="519.70" y2="287.88" stroke="#1a1a1a" stroke-width="1.0" />
<text x="510.40" y="291.28" font-size="9.4" text-anchor="end" font-weight="normal" fill="#1a1a1a" >0.2</text>
<line x1="515.20" y1="255.36" x2="519.70" y2="255.36" stroke="#1a1a1a" stroke-width="1.0" />
<text x="510.40" y="258.76" font-size="9.4" text-anchor="end" font-weight="normal" fill="#1a1a1a" >0.4</text>
<line x1="515.20" y1="222.84" x2="519.70" y2="222.84" stroke="#1a1a1a" stroke-width="1.0" />
<text x="510.40" y="226.24" font-size="9.4" text-anchor="end" font-weight="normal" fill="#1a1a1a" >0.6</text>
<line x1="515.20" y1="190.32" x2="519.70" y2="190.32" stroke="#1a1a1a" stroke-width="1.0" />
<text x="510.40" y="193.72" font-size="9.4" text-anchor="end" font-weight="normal" fill="#1a1a1a" >0.8</text>
<line x1="515.20" y1="304.14" x2="517.80" y2="304.14" stroke="#1a1a1a" stroke-width="0.9" />
<line x1="515.20" y1="271.62" x2="517.80" y2="271.62" stroke="#1a1a1a" stroke-width="0.9" />
<line x1="515.20" y1="239.10" x2="517.80" y2="239.10" stroke="#1a1a1a" stroke-width="0.9" />
<line x1="515.20" y1="206.58" x2="517.80" y2="206.58" stroke="#1a1a1a" stroke-width="0.9" />
<line x1="536.36" y1="320.40" x2="536.36" y2="315.90" stroke="#1a1a1a" stroke-width="1.0" />
<text x="536.36" y="334.60" font-size="9.4" text-anchor="middle" font-weight="normal" fill="#1a1a1a" >400</text>
<line x1="578.69" y1="320.40" x2="578.69" y2="315.90" stroke="#1a1a1a" stroke-width="1.0" />
<text x="578.69" y="334.60" font-size="9.4" text-anchor="middle" font-weight="normal" fill="#1a1a1a" >600</text>
<line x1="621.02" y1="320.40" x2="621.02" y2="315.90" stroke="#1a1a1a" stroke-width="1.0" />
<text x="621.02" y="334.60" font-size="9.4" text-anchor="middle" font-weight="normal" fill="#1a1a1a" >800</text>
<line x1="663.34" y1="320.40" x2="663.34" y2="315.90" stroke="#1a1a1a" stroke-width="1.0" />
<text x="663.34" y="334.60" font-size="9.4" text-anchor="middle" font-weight="normal" fill="#1a1a1a" >1000</text>
<line x1="515.20" y1="320.40" x2="515.20" y2="317.80" stroke="#1a1a1a" stroke-width="0.9" />
<line x1="557.53" y1="320.40" x2="557.53" y2="317.80" stroke="#1a1a1a" stroke-width="0.9" />
<line x1="599.85" y1="320.40" x2="599.85" y2="317.80" stroke="#1a1a1a" stroke-width="0.9" />
<line x1="642.18" y1="320.40" x2="642.18" y2="317.80" stroke="#1a1a1a" stroke-width="0.9" />
<text x="600.00" y="348.50" font-size="9.0" text-anchor="middle" font-weight="normal" fill="#1a1a1a" >Wavelength (nm)</text>
<text transform="translate(485.60,255.30) rotate(-90)" x="0" y="0" font-size="9.0" text-anchor="middle" fill="#1a1a1a">Responsivity (A W<tspan dy="-4.2" font-size="5.8">−1</tspan><tspan dy="4.2">)</tspan></text>
<text x="-0.50" y="374.10" font-size="15.5" text-anchor="start" font-weight="bold" fill="#000" >g</text>
<polyline points="53.00,411.00 53.82,410.96 54.64,410.92 55.46,410.90 56.28,410.90 57.10,410.91 57.91,410.93 58.73,410.96 59.55,410.98 60.37,411.01 61.19,411.05 62.01,411.10 62.83,411.15 63.65,411.21 64.47,411.28 65.29,411.35 66.11,411.42 66.92,411.50 67.74,411.58 68.56,411.66 69.38,411.74 70.20,411.82 71.02,411.90 71.84,411.99 72.66,412.08 73.48,412.17 74.30,412.27 75.12,412.37 75.93,412.48 76.75,412.58 77.57,412.69 78.39,412.79 79.21,412.90 80.03,413.00 80.85,413.11 81.67,413.22 82.49,413.33 83.31,413.45 84.13,413.56 84.94,413.68 85.76,413.80 86.58,413.91 87.40,414.03 88.22,414.15 89.04,414.26 89.86,414.38 90.68,414.49 91.50,414.61 92.32,414.72 93.14,414.84 93.95,414.95 94.77,415.07 95.59,415.18 96.41,415.30 97.23,415.41 98.05,415.53 98.87,415.64 99.69,415.76 100.51,415.87 101.33,415.98 102.15,416.09 102.96,416.20 103.78,416.31 104.60,416.42 105.42,416.52 106.24,416.64 107.06,416.75 107.88,416.87 108.70,416.99 109.52,417.12 110.34,417.26 111.16,417.40 111.97,417.54 112.79,417.70 113.61,417.85 114.43,418.02 115.25,418.18 116.07,418.35 116.89,418.53 117.71,418.70 118.53,418.88 119.35,419.07 120.17,419.25 120.98,419.44 121.80,419.63 122.62,419.81 123.44,420.00 124.26,420.19 125.08,420.38 125.90,420.57 126.72,420.76 127.54,420.95 128.36,421.13 129.18,421.32 129.99,421.50 130.81,421.68 131.63,421.86 132.45,422.04 133.27,422.22 134.09,422.40 134.91,422.58 135.73,422.76 136.55,422.94 137.37,423.12 138.19,423.30 139.01,423.49 139.82,423.67 140.64,423.85 141.46,424.04 142.28,424.22 143.10,424.40 143.92,424.59 144.74,424.78 145.56,424.96 146.38,425.15 147.20,425.34 148.02,425.53 148.83,425.73 149.65,425.92 150.47,426.11 151.29,426.31 152.11,426.51 152.93,426.71 153.75,426.91 154.57,427.11 155.39,427.31 156.21,427.52 157.03,427.73 157.84,427.93 158.66,428.14 159.48,428.35 160.30,428.56 161.12,428.77 161.94,428.97 162.76,429.18 163.58,429.39 164.40,429.60 165.22,429.81 166.04,430.01 166.85,430.22 167.67,430.42 168.49,430.63 169.31,430.83 170.13,431.03 170.95,431.23 171.77,431.43 172.59,431.63 173.41,431.83 174.23,432.03 175.05,432.23 175.86,432.43 176.68,432.63 177.50,432.83 178.32,433.03 179.14,433.23 179.96,433.42 180.78,433.62 181.60,433.82 182.42,434.01 183.24,434.21 184.06,434.40 184.87,434.60 185.69,434.79 186.51,434.99 187.33,435.18 188.15,435.37 188.97,435.56 189.79,435.75 190.61,435.94 191.43,436.13 192.25,436.32 193.07,436.51 193.88,436.70 194.70,436.88 195.52,437.07 196.34,437.26 197.16,437.44 197.98,437.63 198.80,437.81 199.62,438.00 200.44,438.18 201.26,438.37 202.08,438.55 202.89,438.74 203.71,438.92 204.53,439.10 205.35,439.28 206.17,439.46 206.99,439.64 207.81,439.82 208.63,440.00 209.45,440.18 210.27,440.36 211.09,440.54 211.90,440.72 212.72,440.90 213.54,441.07 214.36,441.25 215.18,441.42 216.00,441.60" fill="none" stroke="#3b79b7" stroke-width="1.1" stroke-linejoin="round" stroke-linecap="round" />
<polyline points="48.20,409.60 49.50,410.30 51.40,412.80 53.00,411.00" fill="none" stroke="#3b79b7" stroke-width="1.1" stroke-linejoin="round" stroke-linecap="round" />
<polyline points="47.70,454.20 48.26,450.60 48.83,447.68 49.39,445.70 49.95,444.07 50.51,442.75 51.08,441.77 51.64,441.07 52.20,440.51 52.77,440.11 53.33,439.88 53.89,439.68 54.45,439.52 55.02,439.39 55.58,439.32 56.14,439.30 56.71,439.33 57.27,439.38 57.83,439.45 58.39,439.54 58.96,439.63 59.52,439.73 60.08,439.81 60.65,439.90 61.21,439.99 61.77,440.08 62.33,440.18 62.90,440.29 63.46,440.40 64.02,440.51 64.59,440.62 65.15,440.74 65.71,440.85 66.27,440.97 66.84,441.09 67.40,441.20 67.96,441.31 68.53,441.43 69.09,441.53 69.65,441.64 70.22,441.74 70.78,441.84 71.34,441.93 71.90,442.01 72.47,442.09 73.03,442.16 73.59,442.22 74.16,442.28 74.72,442.34 75.28,442.39 75.84,442.44 76.41,442.49 76.97,442.54 77.53,442.59 78.10,442.64 78.66,442.68 79.22,442.72 79.78,442.76 80.35,442.80 80.91,442.84 81.47,442.88 82.04,442.92 82.60,442.95 83.16,442.99 83.72,443.03 84.29,443.06 84.85,443.09 85.41,443.13 85.98,443.16 86.54,443.20 87.10,443.23 87.66,443.26 88.23,443.30 88.79,443.33 89.35,443.37 89.92,443.40 90.48,443.44 91.04,443.48 91.60,443.51 92.17,443.55 92.73,443.59 93.29,443.63 93.86,443.67 94.42,443.72 94.98,443.76 95.54,443.81 96.11,443.86 96.67,443.91 97.23,443.96 97.80,444.01 98.36,444.06 98.92,444.11 99.48,444.17 100.05,444.22 100.61,444.28 101.17,444.33 101.74,444.39 102.30,444.45 102.86,444.51 103.42,444.57 103.99,444.62 104.55,444.69 105.11,444.75 105.68,444.81 106.24,444.87 106.80,444.93 107.36,445.00 107.93,445.06 108.49,445.13 109.05,445.19 109.62,445.26 110.18,445.33 110.74,445.39 111.31,445.46 111.87,445.53 112.43,445.60 112.99,445.67 113.56,445.74 114.12,445.81 114.68,445.89 115.25,445.96 115.81,446.03 116.37,446.11 116.93,446.18 117.50,446.26 118.06,446.33 118.62,446.41 119.19,446.49 119.75,446.56 120.31,446.64 120.87,446.72 121.44,446.81 122.00,446.89 122.56,446.98 123.13,447.06 123.69,447.15 124.25,447.24 124.81,447.34 125.38,447.43 125.94,447.53 126.50,447.62 127.07,447.72 127.63,447.82 128.19,447.92 128.75,448.02 129.32,448.12 129.88,448.23 130.44,448.33 131.01,448.43 131.57,448.54 132.13,448.65 132.69,448.75 133.26,448.86 133.82,448.97 134.38,449.08 134.95,449.19 135.51,449.30 136.07,449.41 136.63,449.52 137.20,449.63 137.76,449.74 138.32,449.85 138.89,449.96 139.45,450.07 140.01,450.18 140.57,450.29 141.14,450.39 141.70,450.50 142.26,450.61 142.83,450.72 143.39,450.83 143.95,450.93 144.51,451.04 145.08,451.15 145.64,451.25 146.20,451.36 146.77,451.46 147.33,451.56 147.89,451.66 148.45,451.76 149.02,451.86 149.58,451.96 150.14,452.06 150.71,452.15 151.27,452.24 151.83,452.34 152.39,452.43 152.96,452.52 153.52,452.61 154.08,452.70 154.65,452.79 155.21,452.88 155.77,452.97 156.34,453.06 156.90,453.14 157.46,453.23 158.02,453.32 158.59,453.40 159.15,453.49 159.71,453.57 160.28,453.66 160.84,453.74 161.40,453.83 161.96,453.91 162.53,453.99 163.09,454.08 163.65,454.16 164.22,454.24 164.78,454.32 165.34,454.41 165.90,454.49 166.47,454.57 167.03,454.66 167.59,454.74 168.16,454.82 168.72,454.90 169.28,454.99 169.84,455.07 170.41,455.15 170.97,455.23 171.53,455.32 172.10,455.40 172.66,455.49 173.22,455.57 173.78,455.65 174.35,455.74 174.91,455.82 175.47,455.91 176.04,456.00 176.60,456.08 177.16,456.17 177.72,456.26 178.29,456.35 178.85,456.44 179.41,456.52 179.98,456.61 180.54,456.71 181.10,456.80 181.66,456.89 182.23,456.98 182.79,457.08 183.35,457.17 183.92,457.27 184.48,457.36 185.04,457.46 185.60,457.56 186.17,457.65 186.73,457.75 187.29,457.85 187.86,457.95 188.42,458.05 188.98,458.15 189.54,458.25 190.11,458.36 190.67,458.46 191.23,458.56 191.80,458.66 192.36,458.77 192.92,458.87 193.48,458.98 194.05,459.08 194.61,459.19 195.17,459.29 195.74,459.40 196.30,459.50 196.86,459.61 197.43,459.72 197.99,459.83 198.55,459.94 199.11,460.05 199.68,460.15 200.24,460.26 200.80,460.37 201.37,460.49 201.93,460.60 202.49,460.71 203.05,460.82 203.62,460.93 204.18,461.04 204.74,461.16 205.31,461.27 205.87,461.39 206.43,461.50 206.99,461.61 207.56,461.73 208.12,461.84 208.68,461.96 209.25,462.08 209.81,462.19 210.37,462.31 210.93,462.43 211.50,462.55 212.06,462.66 212.62,462.78 213.19,462.90 213.75,463.02 214.31,463.14 214.87,463.26 215.44,463.38 216.00,463.50" fill="none" stroke="#ee7e80" stroke-width="1.1" stroke-linejoin="round" stroke-linecap="round" />
<polyline points="48.00,472.00 48.84,472.15 49.69,472.30 50.53,472.44 51.38,472.59 52.22,472.73 53.07,472.88 53.91,473.02 54.75,473.16 55.60,473.30 56.44,473.44 57.29,473.57 58.13,473.71 58.97,473.84 59.82,473.97 60.66,474.10 61.51,474.24 62.35,474.37 63.20,474.51 64.04,474.64 64.88,474.78 65.73,474.92 66.57,475.05 67.42,475.19 68.26,475.32 69.11,475.45 69.95,475.57 70.79,475.69 71.64,475.81 72.48,475.92 73.33,476.03 74.17,476.12 75.02,476.22 75.86,476.30 76.70,476.38 77.55,476.44 78.39,476.51 79.24,476.57 80.08,476.63 80.92,476.69 81.77,476.75 82.61,476.80 83.46,476.85 84.30,476.90 85.15,476.95 85.99,477.00 86.83,477.04 87.68,477.09 88.52,477.13 89.37,477.17 90.21,477.21 91.06,477.25 91.90,477.29 92.74,477.32 93.59,477.36 94.43,477.39 95.28,477.43 96.12,477.46 96.96,477.50 97.81,477.53 98.65,477.56 99.50,477.59 100.34,477.63 101.19,477.66 102.03,477.69 102.87,477.73 103.72,477.76 104.56,477.79 105.41,477.83 106.25,477.86 107.10,477.90 107.94,477.94 108.78,477.97 109.63,478.01 110.47,478.05 111.32,478.09 112.16,478.13 113.01,478.18 113.85,478.22 114.69,478.27 115.54,478.32 116.38,478.37 117.23,478.42 118.07,478.47 118.91,478.53 119.76,478.58 120.60,478.64 121.45,478.70 122.29,478.77 123.14,478.84 123.98,478.90 124.82,478.98 125.67,479.05 126.51,479.12 127.36,479.20 128.20,479.28 129.05,479.36 129.89,479.44 130.73,479.52 131.58,479.61 132.42,479.70 133.27,479.78 134.11,479.87 134.95,479.96 135.80,480.06 136.64,480.15 137.49,480.25 138.33,480.34 139.18,480.44 140.02,480.54 140.86,480.64 141.71,480.73 142.55,480.84 143.40,480.94 144.24,481.04 145.09,481.14 145.93,481.25 146.77,481.35 147.62,481.45 148.46,481.56 149.31,481.66 150.15,481.77 150.99,481.87 151.84,481.98 152.68,482.09 153.53,482.19 154.37,482.30 155.22,482.40 156.06,482.51 156.90,482.62 157.75,482.72 158.59,482.83 159.44,482.93 160.28,483.03 161.13,483.14 161.97,483.24 162.81,483.35 163.66,483.46 164.50,483.56 165.35,483.67 166.19,483.78 167.04,483.89 167.88,483.99 168.72,484.10 169.57,484.21 170.41,484.32 171.26,484.43 172.10,484.54 172.94,484.66 173.79,484.77 174.63,484.88 175.48,484.99 176.32,485.11 177.17,485.22 178.01,485.34 178.85,485.45 179.70,485.57 180.54,485.68 181.39,485.80 182.23,485.92 183.08,486.03 183.92,486.15 184.76,486.27 185.61,486.39 186.45,486.51 187.30,486.63 188.14,486.75 188.98,486.87 189.83,486.99 190.67,487.11 191.52,487.24 192.36,487.36 193.21,487.48 194.05,487.61 194.89,487.73 195.74,487.86 196.58,487.98 197.43,488.11 198.27,488.23 199.12,488.36 199.96,488.49 200.80,488.62 201.65,488.74 202.49,488.87 203.34,489.00 204.18,489.13 205.03,489.26 205.87,489.39 206.71,489.52 207.56,489.66 208.40,489.79 209.25,489.92 210.09,490.05 210.93,490.19 211.78,490.32 212.62,490.46 213.47,490.59 214.31,490.73 215.16,490.86 216.00,491.00" fill="none" stroke="#e6e6e6" stroke-width="0.8" stroke-linejoin="round" stroke-linecap="round" stroke-dasharray="1 1.2"/>
<polyline points="124.00,378.40 146.40,378.40" fill="none" stroke="#3b79b7" stroke-width="1.1" stroke-linejoin="round" stroke-linecap="round" />
<text x="151.70" y="381.50" font-size="9.0" text-anchor="start" font-weight="normal" fill="#1a1a1a" >w/o Sn(SCN)<tspan dy="2.8" font-size="6.2">2</tspan></text>
<polyline points="124.00,393.30 146.40,393.30" fill="none" stroke="#ee7e80" stroke-width="1.1" stroke-linejoin="round" stroke-linecap="round" />
<text x="151.70" y="396.20" font-size="9.0" text-anchor="start" font-weight="normal" fill="#1a1a1a" >with Sn(SCN)<tspan dy="2.8" font-size="6.2">2</tspan></text>
<polyline points="124.00,408.20 146.40,408.20" fill="none" stroke="#e6e6e6" stroke-width="0.8" stroke-linejoin="round" stroke-linecap="round" stroke-dasharray="1 1.2"/>
<text x="151.70" y="411.00" font-size="9.0" text-anchor="start" font-weight="normal" fill="#1a1a1a" >backgound</text>
<rect x="47.50" y="372.00" width="169.00" height="130.20" fill="none" stroke="#1a1a1a" stroke-width="1.1"/>
<line x1="47.50" y1="502.20" x2="52.00" y2="502.20" stroke="#1a1a1a" stroke-width="1.0" />
<text x="21.64" y="505.90" font-size="9.4" text-anchor="start" font-weight="normal" fill="#1a1a1a" >10</text>
<text x="32.29" y="501.40" font-size="5.9" text-anchor="start" font-weight="normal" fill="#1a1a1a" >−16</text>
<line x1="47.50" y1="494.36" x2="50.10" y2="494.36" stroke="#1a1a1a" stroke-width="1.0" />
<line x1="47.50" y1="489.78" x2="50.10" y2="489.78" stroke="#1a1a1a" stroke-width="1.0" />
<line x1="47.50" y1="486.52" x2="50.10" y2="486.52" stroke="#1a1a1a" stroke-width="1.0" />
<line x1="47.50" y1="484.00" x2="50.10" y2="484.00" stroke="#1a1a1a" stroke-width="1.0" />
<line x1="47.50" y1="481.94" x2="50.10" y2="481.94" stroke="#1a1a1a" stroke-width="1.0" />
<line x1="47.50" y1="480.19" x2="50.10" y2="480.19" stroke="#1a1a1a" stroke-width="1.0" />
<line x1="47.50" y1="478.68" x2="50.10" y2="478.68" stroke="#1a1a1a" stroke-width="1.0" />
<line x1="47.50" y1="477.35" x2="50.10" y2="477.35" stroke="#1a1a1a" stroke-width="1.0" />
<line x1="47.50" y1="476.16" x2="52.00" y2="476.16" stroke="#1a1a1a" stroke-width="1.0" />
<text x="21.64" y="479.86" font-size="9.4" text-anchor="start" font-weight="normal" fill="#1a1a1a" >10</text>
<text x="32.29" y="475.36" font-size="5.9" text-anchor="start" font-weight="normal" fill="#1a1a1a" >−15</text>
<line x1="47.50" y1="468.32" x2="50.10" y2="468.32" stroke="#1a1a1a" stroke-width="1.0" />
<line x1="47.50" y1="463.74" x2="50.10" y2="463.74" stroke="#1a1a1a" stroke-width="1.0" />
<line x1="47.50" y1="460.48" x2="50.10" y2="460.48" stroke="#1a1a1a" stroke-width="1.0" />
<line x1="47.50" y1="457.96" x2="50.10" y2="457.96" stroke="#1a1a1a" stroke-width="1.0" />
<line x1="47.50" y1="455.90" x2="50.10" y2="455.90" stroke="#1a1a1a" stroke-width="1.0" />
<line x1="47.50" y1="454.15" x2="50.10" y2="454.15" stroke="#1a1a1a" stroke-width="1.0" />
<line x1="47.50" y1="452.64" x2="50.10" y2="452.64" stroke="#1a1a1a" stroke-width="1.0" />
<line x1="47.50" y1="451.31" x2="50.10" y2="451.31" stroke="#1a1a1a" stroke-width="1.0" />
<line x1="47.50" y1="450.12" x2="52.00" y2="450.12" stroke="#1a1a1a" stroke-width="1.0" />
<text x="21.64" y="453.82" font-size="9.4" text-anchor="start" font-weight="normal" fill="#1a1a1a" >10</text>
<text x="32.29" y="449.32" font-size="5.9" text-anchor="start" font-weight="normal" fill="#1a1a1a" >−14</text>
<line x1="47.50" y1="442.28" x2="50.10" y2="442.28" stroke="#1a1a1a" stroke-width="1.0" />
<line x1="47.50" y1="437.70" x2="50.10" y2="437.70" stroke="#1a1a1a" stroke-width="1.0" />
<line x1="47.50" y1="434.44" x2="50.10" y2="434.44" stroke="#1a1a1a" stroke-width="1.0" />
<line x1="47.50" y1="431.92" x2="50.10" y2="431.92" stroke="#1a1a1a" stroke-width="1.0" />
<line x1="47.50" y1="429.86" x2="50.10" y2="429.86" stroke="#1a1a1a" stroke-width="1.0" />
<line x1="47.50" y1="428.11" x2="50.10" y2="428.11" stroke="#1a1a1a" stroke-width="1.0" />
<line x1="47.50" y1="426.60" x2="50.10" y2="426.60" stroke="#1a1a1a" stroke-width="1.0" />
<line x1="47.50" y1="425.27" x2="50.10" y2="425.27" stroke="#1a1a1a" stroke-width="1.0" />
<line x1="47.50" y1="424.08" x2="52.00" y2="424.08" stroke="#1a1a1a" stroke-width="1.0" />
<text x="21.64" y="427.78" font-size="9.4" text-anchor="start" font-weight="normal" fill="#1a1a1a" >10</text>
<text x="32.29" y="423.28" font-size="5.9" text-anchor="start" font-weight="normal" fill="#1a1a1a" >−13</text>
<line x1="47.50" y1="416.24" x2="50.10" y2="416.24" stroke="#1a1a1a" stroke-width="1.0" />
<line x1="47.50" y1="411.66" x2="50.10" y2="411.66" stroke="#1a1a1a" stroke-width="1.0" />
<line x1="47.50" y1="408.40" x2="50.10" y2="408.40" stroke="#1a1a1a" stroke-width="1.0" />
<line x1="47.50" y1="405.88" x2="50.10" y2="405.88" stroke="#1a1a1a" stroke-width="1.0" />
<line x1="47.50" y1="403.82" x2="50.10" y2="403.82" stroke="#1a1a1a" stroke-width="1.0" />
<line x1="47.50" y1="402.07" x2="50.10" y2="402.07" stroke="#1a1a1a" stroke-width="1.0" />
<line x1="47.50" y1="400.56" x2="50.10" y2="400.56" stroke="#1a1a1a" stroke-width="1.0" />
<line x1="47.50" y1="399.23" x2="50.10" y2="399.23" stroke="#1a1a1a" stroke-width="1.0" />
<line x1="47.50" y1="398.04" x2="52.00" y2="398.04" stroke="#1a1a1a" stroke-width="1.0" />
<text x="21.64" y="401.74" font-size="9.4" text-anchor="start" font-weight="normal" fill="#1a1a1a" >10</text>
<text x="32.29" y="397.24" font-size="5.9" text-anchor="start" font-weight="normal" fill="#1a1a1a" >−12</text>
<line x1="47.50" y1="390.20" x2="50.10" y2="390.20" stroke="#1a1a1a" stroke-width="1.0" />
<line x1="47.50" y1="385.62" x2="50.10" y2="385.62" stroke="#1a1a1a" stroke-width="1.0" />
<line x1="47.50" y1="382.36" x2="50.10" y2="382.36" stroke="#1a1a1a" stroke-width="1.0" />
<line x1="47.50" y1="379.84" x2="50.10" y2="379.84" stroke="#1a1a1a" stroke-width="1.0" />
<line x1="47.50" y1="377.78" x2="50.10" y2="377.78" stroke="#1a1a1a" stroke-width="1.0" />
<line x1="47.50" y1="376.03" x2="50.10" y2="376.03" stroke="#1a1a1a" stroke-width="1.0" />
<line x1="47.50" y1="374.52" x2="50.10" y2="374.52" stroke="#1a1a1a" stroke-width="1.0" />
<line x1="47.50" y1="373.19" x2="50.10" y2="373.19" stroke="#1a1a1a" stroke-width="1.0" />
<line x1="47.50" y1="372.00" x2="52.00" y2="372.00" stroke="#1a1a1a" stroke-width="1.0" />
<text x="22.08" y="375.70" font-size="9.4" text-anchor="start" font-weight="normal" fill="#1a1a1a" >10</text>
<text x="32.73" y="371.20" font-size="5.9" text-anchor="start" font-weight="normal" fill="#1a1a1a" >−11</text>
<line x1="47.50" y1="502.20" x2="47.50" y2="497.70" stroke="#1a1a1a" stroke-width="1.0" />
<text x="41.03" y="517.00" font-size="9.4" text-anchor="start" font-weight="normal" fill="#1a1a1a" >10</text>
<text x="51.69" y="512.50" font-size="5.9" text-anchor="start" font-weight="normal" fill="#1a1a1a" >0</text>
<line x1="57.67" y1="502.20" x2="57.67" y2="499.60" stroke="#1a1a1a" stroke-width="1.0" />
<line x1="63.63" y1="502.20" x2="63.63" y2="499.60" stroke="#1a1a1a" stroke-width="1.0" />
<line x1="67.85" y1="502.20" x2="67.85" y2="499.60" stroke="#1a1a1a" stroke-width="1.0" />
<line x1="71.13" y1="502.20" x2="71.13" y2="499.60" stroke="#1a1a1a" stroke-width="1.0" />
<line x1="73.80" y1="502.20" x2="73.80" y2="499.60" stroke="#1a1a1a" stroke-width="1.0" />
<line x1="76.06" y1="502.20" x2="76.06" y2="499.60" stroke="#1a1a1a" stroke-width="1.0" />
<line x1="78.02" y1="502.20" x2="78.02" y2="499.60" stroke="#1a1a1a" stroke-width="1.0" />
<line x1="79.75" y1="502.20" x2="79.75" y2="499.60" stroke="#1a1a1a" stroke-width="1.0" />
<line x1="81.30" y1="502.20" x2="81.30" y2="497.70" stroke="#1a1a1a" stroke-width="1.0" />
<text x="74.83" y="517.00" font-size="9.4" text-anchor="start" font-weight="normal" fill="#1a1a1a" >10</text>
<text x="85.49" y="512.50" font-size="5.9" text-anchor="start" font-weight="normal" fill="#1a1a1a" >1</text>
<line x1="91.47" y1="502.20" x2="91.47" y2="499.60" stroke="#1a1a1a" stroke-width="1.0" />
<line x1="97.43" y1="502.20" x2="97.43" y2="499.60" stroke="#1a1a1a" stroke-width="1.0" />
<line x1="101.65" y1="502.20" x2="101.65" y2="499.60" stroke="#1a1a1a" stroke-width="1.0" />
<line x1="104.93" y1="502.20" x2="104.93" y2="499.60" stroke="#1a1a1a" stroke-width="1.0" />
<line x1="107.60" y1="502.20" x2="107.60" y2="499.60" stroke="#1a1a1a" stroke-width="1.0" />
<line x1="109.86" y1="502.20" x2="109.86" y2="499.60" stroke="#1a1a1a" stroke-width="1.0" />
<line x1="111.82" y1="502.20" x2="111.82" y2="499.60" stroke="#1a1a1a" stroke-width="1.0" />
<line x1="113.55" y1="502.20" x2="113.55" y2="499.60" stroke="#1a1a1a" stroke-width="1.0" />
<line x1="115.10" y1="502.20" x2="115.10" y2="497.70" stroke="#1a1a1a" stroke-width="1.0" />
<text x="108.63" y="517.00" font-size="9.4" text-anchor="start" font-weight="normal" fill="#1a1a1a" >10</text>
<text x="119.29" y="512.50" font-size="5.9" text-anchor="start" font-weight="normal" fill="#1a1a1a" >2</text>
<line x1="125.27" y1="502.20" x2="125.27" y2="499.60" stroke="#1a1a1a" stroke-width="1.0" />
<line x1="131.23" y1="502.20" x2="131.23" y2="499.60" stroke="#1a1a1a" stroke-width="1.0" />
<line x1="135.45" y1="502.20" x2="135.45" y2="499.60" stroke="#1a1a1a" stroke-width="1.0" />
<line x1="138.73" y1="502.20" x2="138.73" y2="499.60" stroke="#1a1a1a" stroke-width="1.0" />
<line x1="141.40" y1="502.20" x2="141.40" y2="499.60" stroke="#1a1a1a" stroke-width="1.0" />
<line x1="143.66" y1="502.20" x2="143.66" y2="499.60" stroke="#1a1a1a" stroke-width="1.0" />
<line x1="145.62" y1="502.20" x2="145.62" y2="499.60" stroke="#1a1a1a" stroke-width="1.0" />
<line x1="147.35" y1="502.20" x2="147.35" y2="499.60" stroke="#1a1a1a" stroke-width="1.0" />
<line x1="148.90" y1="502.20" x2="148.90" y2="497.70" stroke="#1a1a1a" stroke-width="1.0" />
<text x="142.43" y="517.00" font-size="9.4" text-anchor="start" font-weight="normal" fill="#1a1a1a" >10</text>
<text x="153.09" y="512.50" font-size="5.9" text-anchor="start" font-weight="normal" fill="#1a1a1a" >3</text>
<line x1="159.07" y1="502.20" x2="159.07" y2="499.60" stroke="#1a1a1a" stroke-width="1.0" />
<line x1="165.03" y1="502.20" x2="165.03" y2="499.60" stroke="#1a1a1a" stroke-width="1.0" />
<line x1="169.25" y1="502.20" x2="169.25" y2="499.60" stroke="#1a1a1a" stroke-width="1.0" />
<line x1="172.53" y1="502.20" x2="172.53" y2="499.60" stroke="#1a1a1a" stroke-width="1.0" />
<line x1="175.20" y1="502.20" x2="175.20" y2="499.60" stroke="#1a1a1a" stroke-width="1.0" />
<line x1="177.46" y1="502.20" x2="177.46" y2="499.60" stroke="#1a1a1a" stroke-width="1.0" />
<line x1="179.42" y1="502.20" x2="179.42" y2="499.60" stroke="#1a1a1a" stroke-width="1.0" />
<line x1="181.15" y1="502.20" x2="181.15" y2="499.60" stroke="#1a1a1a" stroke-width="1.0" />
<line x1="182.70" y1="502.20" x2="182.70" y2="497.70" stroke="#1a1a1a" stroke-width="1.0" />
<text x="176.23" y="517.00" font-size="9.4" text-anchor="start" font-weight="normal" fill="#1a1a1a" >10</text>
<text x="186.89" y="512.50" font-size="5.9" text-anchor="start" font-weight="normal" fill="#1a1a1a" >4</text>
<line x1="192.87" y1="502.20" x2="192.87" y2="499.60" stroke="#1a1a1a" stroke-width="1.0" />
<line x1="198.83" y1="502.20" x2="198.83" y2="499.60" stroke="#1a1a1a" stroke-width="1.0" />
<line x1="203.05" y1="502.20" x2="203.05" y2="499.60" stroke="#1a1a1a" stroke-width="1.0" />
<line x1="206.33" y1="502.20" x2="206.33" y2="499.60" stroke="#1a1a1a" stroke-width="1.0" />
<line x1="209.00" y1="502.20" x2="209.00" y2="499.60" stroke="#1a1a1a" stroke-width="1.0" />
<line x1="211.26" y1="502.20" x2="211.26" y2="499.60" stroke="#1a1a1a" stroke-width="1.0" />
<line x1="213.22" y1="502.20" x2="213.22" y2="499.60" stroke="#1a1a1a" stroke-width="1.0" />
<line x1="214.95" y1="502.20" x2="214.95" y2="499.60" stroke="#1a1a1a" stroke-width="1.0" />
<line x1="216.50" y1="502.20" x2="216.50" y2="497.70" stroke="#1a1a1a" stroke-width="1.0" />
<text x="210.03" y="517.00" font-size="9.4" text-anchor="start" font-weight="normal" fill="#1a1a1a" >10</text>
<text x="220.69" y="512.50" font-size="5.9" text-anchor="start" font-weight="normal" fill="#1a1a1a" >5</text>
<text x="131.90" y="530.60" font-size="9.0" text-anchor="middle" font-weight="normal" fill="#1a1a1a" >Frequency (Hz)</text>
<text transform="translate(12.30,437.80) rotate(-90)" x="0" y="0" font-size="9.0" text-anchor="middle" fill="#1a1a1a">Noise current (A Hz<tspan dy="-4.0" font-size="6.2">−1/2</tspan><tspan dy="4.0">)</tspan></text>
<text x="238.40" y="374.10" font-size="15.5" text-anchor="start" font-weight="bold" fill="#000" >h</text>
<circle cx="277.90" cy="428.00" r="1.45" fill="#fad6d6" stroke="#ee7e80" stroke-width="0.75" />
<circle cx="278.47" cy="424.91" r="1.45" fill="#fad6d6" stroke="#ee7e80" stroke-width="0.75" />
<circle cx="279.04" cy="421.90" r="1.45" fill="#fad6d6" stroke="#ee7e80" stroke-width="0.75" />
<circle cx="279.63" cy="418.99" r="1.45" fill="#fad6d6" stroke="#ee7e80" stroke-width="0.75" />
<circle cx="280.22" cy="416.18" r="1.45" fill="#fad6d6" stroke="#ee7e80" stroke-width="0.75" />
<circle cx="280.82" cy="413.47" r="1.45" fill="#fad6d6" stroke="#ee7e80" stroke-width="0.75" />
<circle cx="281.42" cy="410.82" r="1.45" fill="#fad6d6" stroke="#ee7e80" stroke-width="0.75" />
<circle cx="282.04" cy="408.27" r="1.45" fill="#fad6d6" stroke="#ee7e80" stroke-width="0.75" />
<circle cx="282.67" cy="405.87" r="1.45" fill="#fad6d6" stroke="#ee7e80" stroke-width="0.75" />
<circle cx="283.32" cy="403.69" r="1.45" fill="#fad6d6" stroke="#ee7e80" stroke-width="0.75" />
<circle cx="283.99" cy="401.62" r="1.45" fill="#fad6d6" stroke="#ee7e80" stroke-width="0.75" />
<circle cx="284.66" cy="399.63" r="1.45" fill="#fad6d6" stroke="#ee7e80" stroke-width="0.75" />
<circle cx="285.35" cy="397.76" r="1.45" fill="#fad6d6" stroke="#ee7e80" stroke-width="0.75" />
<circle cx="286.06" cy="396.02" r="1.45" fill="#fad6d6" stroke="#ee7e80" stroke-width="0.75" />
<circle cx="286.80" cy="394.46" r="1.45" fill="#fad6d6" stroke="#ee7e80" stroke-width="0.75" />
<circle cx="287.57" cy="393.08" r="1.45" fill="#fad6d6" stroke="#ee7e80" stroke-width="0.75" />
<circle cx="288.34" cy="391.79" r="1.45" fill="#fad6d6" stroke="#ee7e80" stroke-width="0.75" />
<circle cx="289.14" cy="390.60" r="1.45" fill="#fad6d6" stroke="#ee7e80" stroke-width="0.75" />
<circle cx="289.96" cy="389.56" r="1.45" fill="#fad6d6" stroke="#ee7e80" stroke-width="0.75" />
<circle cx="290.83" cy="388.73" r="1.45" fill="#fad6d6" stroke="#ee7e80" stroke-width="0.75" />
<circle cx="291.72" cy="388.12" r="1.45" fill="#fad6d6" stroke="#ee7e80" stroke-width="0.75" />
<circle cx="292.63" cy="387.60" r="1.45" fill="#fad6d6" stroke="#ee7e80" stroke-width="0.75" />
<circle cx="293.55" cy="387.16" r="1.45" fill="#fad6d6" stroke="#ee7e80" stroke-width="0.75" />
<circle cx="294.48" cy="386.78" r="1.45" fill="#fad6d6" stroke="#ee7e80" stroke-width="0.75" />
<circle cx="295.42" cy="386.45" r="1.45" fill="#fad6d6" stroke="#ee7e80" stroke-width="0.75" />
<circle cx="296.35" cy="386.15" r="1.45" fill="#fad6d6" stroke="#ee7e80" stroke-width="0.75" />
<circle cx="297.29" cy="385.90" r="1.45" fill="#fad6d6" stroke="#ee7e80" stroke-width="0.75" />
<circle cx="298.23" cy="385.68" r="1.45" fill="#fad6d6" stroke="#ee7e80" stroke-width="0.75" />
<circle cx="299.18" cy="385.48" r="1.45" fill="#fad6d6" stroke="#ee7e80" stroke-width="0.75" />
<circle cx="300.12" cy="385.27" r="1.45" fill="#fad6d6" stroke="#ee7e80" stroke-width="0.75" />
<circle cx="301.07" cy="385.07" r="1.45" fill="#fad6d6" stroke="#ee7e80" stroke-width="0.75" />
<circle cx="302.01" cy="384.86" r="1.45" fill="#fad6d6" stroke="#ee7e80" stroke-width="0.75" />
<circle cx="302.95" cy="384.65" r="1.45" fill="#fad6d6" stroke="#ee7e80" stroke-width="0.75" />
<circle cx="303.90" cy="384.45" r="1.45" fill="#fad6d6" stroke="#ee7e80" stroke-width="0.75" />
<circle cx="304.84" cy="384.25" r="1.45" fill="#fad6d6" stroke="#ee7e80" stroke-width="0.75" />
<circle cx="305.78" cy="384.05" r="1.45" fill="#fad6d6" stroke="#ee7e80" stroke-width="0.75" />
<circle cx="306.73" cy="383.85" r="1.45" fill="#fad6d6" stroke="#ee7e80" stroke-width="0.75" />
<circle cx="307.67" cy="383.65" r="1.45" fill="#fad6d6" stroke="#ee7e80" stroke-width="0.75" />
<circle cx="308.61" cy="383.46" r="1.45" fill="#fad6d6" stroke="#ee7e80" stroke-width="0.75" />
<circle cx="309.56" cy="383.27" r="1.45" fill="#fad6d6" stroke="#ee7e80" stroke-width="0.75" />
<circle cx="310.50" cy="383.08" r="1.45" fill="#fad6d6" stroke="#ee7e80" stroke-width="0.75" />
<circle cx="311.45" cy="382.90" r="1.45" fill="#fad6d6" stroke="#ee7e80" stroke-width="0.75" />
<circle cx="312.39" cy="382.71" r="1.45" fill="#fad6d6" stroke="#ee7e80" stroke-width="0.75" />
<circle cx="313.34" cy="382.54" r="1.45" fill="#fad6d6" stroke="#ee7e80" stroke-width="0.75" />
<circle cx="314.28" cy="382.36" r="1.45" fill="#fad6d6" stroke="#ee7e80" stroke-width="0.75" />
<circle cx="315.23" cy="382.19" r="1.45" fill="#fad6d6" stroke="#ee7e80" stroke-width="0.75" />
<circle cx="316.17" cy="382.03" r="1.45" fill="#fad6d6" stroke="#ee7e80" stroke-width="0.75" />
<circle cx="317.12" cy="381.86" r="1.45" fill="#fad6d6" stroke="#ee7e80" stroke-width="0.75" />
<circle cx="318.07" cy="381.71" r="1.45" fill="#fad6d6" stroke="#ee7e80" stroke-width="0.75" />
<circle cx="319.01" cy="381.55" r="1.45" fill="#fad6d6" stroke="#ee7e80" stroke-width="0.75" />
<circle cx="319.96" cy="381.40" r="1.45" fill="#fad6d6" stroke="#ee7e80" stroke-width="0.75" />
<circle cx="320.91" cy="381.25" r="1.45" fill="#fad6d6" stroke="#ee7e80" stroke-width="0.75" />
<circle cx="321.85" cy="381.11" r="1.45" fill="#fad6d6" stroke="#ee7e80" stroke-width="0.75" />
<circle cx="322.80" cy="380.96" r="1.45" fill="#fad6d6" stroke="#ee7e80" stroke-width="0.75" />
<circle cx="323.75" cy="380.82" r="1.45" fill="#fad6d6" stroke="#ee7e80" stroke-width="0.75" />
<circle cx="324.69" cy="380.68" r="1.45" fill="#fad6d6" stroke="#ee7e80" stroke-width="0.75" />
<circle cx="325.64" cy="380.55" r="1.45" fill="#fad6d6" stroke="#ee7e80" stroke-width="0.75" />
<circle cx="326.59" cy="380.41" r="1.45" fill="#fad6d6" stroke="#ee7e80" stroke-width="0.75" />
<circle cx="327.53" cy="380.28" r="1.45" fill="#fad6d6" stroke="#ee7e80" stroke-width="0.75" />
<circle cx="328.48" cy="380.15" r="1.45" fill="#fad6d6" stroke="#ee7e80" stroke-width="0.75" />
<circle cx="329.43" cy="380.02" r="1.45" fill="#fad6d6" stroke="#ee7e80" stroke-width="0.75" />
<circle cx="330.38" cy="379.90" r="1.45" fill="#fad6d6" stroke="#ee7e80" stroke-width="0.75" />
<circle cx="331.32" cy="379.77" r="1.45" fill="#fad6d6" stroke="#ee7e80" stroke-width="0.75" />
<circle cx="332.27" cy="379.65" r="1.45" fill="#fad6d6" stroke="#ee7e80" stroke-width="0.75" />
<circle cx="333.22" cy="379.53" r="1.45" fill="#fad6d6" stroke="#ee7e80" stroke-width="0.75" />
<circle cx="334.17" cy="379.41" r="1.45" fill="#fad6d6" stroke="#ee7e80" stroke-width="0.75" />
<circle cx="335.12" cy="379.29" r="1.45" fill="#fad6d6" stroke="#ee7e80" stroke-width="0.75" />
<circle cx="336.06" cy="379.16" r="1.45" fill="#fad6d6" stroke="#ee7e80" stroke-width="0.75" />
<circle cx="337.01" cy="379.04" r="1.45" fill="#fad6d6" stroke="#ee7e80" stroke-width="0.75" />
<circle cx="337.96" cy="378.92" r="1.45" fill="#fad6d6" stroke="#ee7e80" stroke-width="0.75" />
<circle cx="338.91" cy="378.80" r="1.45" fill="#fad6d6" stroke="#ee7e80" stroke-width="0.75" />
<circle cx="339.85" cy="378.68" r="1.45" fill="#fad6d6" stroke="#ee7e80" stroke-width="0.75" />
<circle cx="340.80" cy="378.56" r="1.45" fill="#fad6d6" stroke="#ee7e80" stroke-width="0.75" />
<circle cx="341.75" cy="378.44" r="1.45" fill="#fad6d6" stroke="#ee7e80" stroke-width="0.75" />
<circle cx="342.70" cy="378.32" r="1.45" fill="#fad6d6" stroke="#ee7e80" stroke-width="0.75" />
<circle cx="343.64" cy="378.21" r="1.45" fill="#fad6d6" stroke="#ee7e80" stroke-width="0.75" />
<circle cx="344.59" cy="378.10" r="1.45" fill="#fad6d6" stroke="#ee7e80" stroke-width="0.75" />
<circle cx="345.54" cy="377.99" r="1.45" fill="#fad6d6" stroke="#ee7e80" stroke-width="0.75" />
<circle cx="346.49" cy="377.88" r="1.45" fill="#fad6d6" stroke="#ee7e80" stroke-width="0.75" />
<circle cx="347.44" cy="377.78" r="1.45" fill="#fad6d6" stroke="#ee7e80" stroke-width="0.75" />
<circle cx="348.39" cy="377.68" r="1.45" fill="#fad6d6" stroke="#ee7e80" stroke-width="0.75" />
<circle cx="349.33" cy="377.58" r="1.45" fill="#fad6d6" stroke="#ee7e80" stroke-width="0.75" />
<circle cx="350.28" cy="377.49" r="1.45" fill="#fad6d6" stroke="#ee7e80" stroke-width="0.75" />
<circle cx="351.23" cy="377.41" r="1.45" fill="#fad6d6" stroke="#ee7e80" stroke-width="0.75" />
<circle cx="352.18" cy="377.33" r="1.45" fill="#fad6d6" stroke="#ee7e80" stroke-width="0.75" />
<circle cx="353.13" cy="377.26" r="1.45" fill="#fad6d6" stroke="#ee7e80" stroke-width="0.75" />
<circle cx="354.08" cy="377.19" r="1.45" fill="#fad6d6" stroke="#ee7e80" stroke-width="0.75" />
<circle cx="355.03" cy="377.11" r="1.45" fill="#fad6d6" stroke="#ee7e80" stroke-width="0.75" />
<circle cx="355.98" cy="377.03" r="1.45" fill="#fad6d6" stroke="#ee7e80" stroke-width="0.75" />
<circle cx="356.93" cy="376.96" r="1.45" fill="#fad6d6" stroke="#ee7e80" stroke-width="0.75" />
<circle cx="357.88" cy="376.88" r="1.45" fill="#fad6d6" stroke="#ee7e80" stroke-width="0.75" />
<circle cx="358.83" cy="376.81" r="1.45" fill="#fad6d6" stroke="#ee7e80" stroke-width="0.75" />
<circle cx="359.77" cy="376.74" r="1.45" fill="#fad6d6" stroke="#ee7e80" stroke-width="0.75" />
<circle cx="360.72" cy="376.67" r="1.45" fill="#fad6d6" stroke="#ee7e80" stroke-width="0.75" />
<circle cx="361.67" cy="376.61" r="1.45" fill="#fad6d6" stroke="#ee7e80" stroke-width="0.75" />
<circle cx="362.62" cy="376.55" r="1.45" fill="#fad6d6" stroke="#ee7e80" stroke-width="0.75" />
<circle cx="363.57" cy="376.49" r="1.45" fill="#fad6d6" stroke="#ee7e80" stroke-width="0.75" />
<circle cx="364.52" cy="376.44" r="1.45" fill="#fad6d6" stroke="#ee7e80" stroke-width="0.75" />
<circle cx="365.47" cy="376.40" r="1.45" fill="#fad6d6" stroke="#ee7e80" stroke-width="0.75" />
<circle cx="366.42" cy="376.36" r="1.45" fill="#fad6d6" stroke="#ee7e80" stroke-width="0.75" />
<circle cx="367.37" cy="376.34" r="1.45" fill="#fad6d6" stroke="#ee7e80" stroke-width="0.75" />
<circle cx="368.32" cy="376.31" r="1.45" fill="#fad6d6" stroke="#ee7e80" stroke-width="0.75" />
<circle cx="369.27" cy="376.30" r="1.45" fill="#fad6d6" stroke="#ee7e80" stroke-width="0.75" />
<circle cx="370.22" cy="376.30" r="1.45" fill="#fad6d6" stroke="#ee7e80" stroke-width="0.75" />
<circle cx="371.17" cy="376.30" r="1.45" fill="#fad6d6" stroke="#ee7e80" stroke-width="0.75" />
<circle cx="372.12" cy="376.31" r="1.45" fill="#fad6d6" stroke="#ee7e80" stroke-width="0.75" />
<circle cx="373.07" cy="376.31" r="1.45" fill="#fad6d6" stroke="#ee7e80" stroke-width="0.75" />
<circle cx="374.02" cy="376.32" r="1.45" fill="#fad6d6" stroke="#ee7e80" stroke-width="0.75" />
<circle cx="374.97" cy="376.34" r="1.45" fill="#fad6d6" stroke="#ee7e80" stroke-width="0.75" />
<circle cx="375.92" cy="376.35" r="1.45" fill="#fad6d6" stroke="#ee7e80" stroke-width="0.75" />
<circle cx="376.87" cy="376.37" r="1.45" fill="#fad6d6" stroke="#ee7e80" stroke-width="0.75" />
<circle cx="377.82" cy="376.38" r="1.45" fill="#fad6d6" stroke="#ee7e80" stroke-width="0.75" />
<circle cx="378.77" cy="376.40" r="1.45" fill="#fad6d6" stroke="#ee7e80" stroke-width="0.75" />
<circle cx="379.72" cy="376.42" r="1.45" fill="#fad6d6" stroke="#ee7e80" stroke-width="0.75" />
<circle cx="380.67" cy="376.44" r="1.45" fill="#fad6d6" stroke="#ee7e80" stroke-width="0.75" />
<circle cx="381.62" cy="376.46" r="1.45" fill="#fad6d6" stroke="#ee7e80" stroke-width="0.75" />
<circle cx="382.57" cy="376.48" r="1.45" fill="#fad6d6" stroke="#ee7e80" stroke-width="0.75" />
<circle cx="383.52" cy="376.51" r="1.45" fill="#fad6d6" stroke="#ee7e80" stroke-width="0.75" />
<circle cx="384.47" cy="376.53" r="1.45" fill="#fad6d6" stroke="#ee7e80" stroke-width="0.75" />
<circle cx="385.42" cy="376.55" r="1.45" fill="#fad6d6" stroke="#ee7e80" stroke-width="0.75" />
<circle cx="386.37" cy="376.57" r="1.45" fill="#fad6d6" stroke="#ee7e80" stroke-width="0.75" />
<circle cx="387.32" cy="376.59" r="1.45" fill="#fad6d6" stroke="#ee7e80" stroke-width="0.75" />
<circle cx="388.27" cy="376.62" r="1.45" fill="#fad6d6" stroke="#ee7e80" stroke-width="0.75" />
<circle cx="389.22" cy="376.65" r="1.45" fill="#fad6d6" stroke="#ee7e80" stroke-width="0.75" />
<circle cx="390.17" cy="376.68" r="1.45" fill="#fad6d6" stroke="#ee7e80" stroke-width="0.75" />
<circle cx="391.12" cy="376.72" r="1.45" fill="#fad6d6" stroke="#ee7e80" stroke-width="0.75" />
<circle cx="392.07" cy="376.75" r="1.45" fill="#fad6d6" stroke="#ee7e80" stroke-width="0.75" />
<circle cx="393.02" cy="376.78" r="1.45" fill="#fad6d6" stroke="#ee7e80" stroke-width="0.75" />
<circle cx="393.97" cy="376.80" r="1.45" fill="#fad6d6" stroke="#ee7e80" stroke-width="0.75" />
<circle cx="394.92" cy="376.79" r="1.45" fill="#fad6d6" stroke="#ee7e80" stroke-width="0.75" />
<circle cx="395.87" cy="376.70" r="1.45" fill="#fad6d6" stroke="#ee7e80" stroke-width="0.75" />
<circle cx="396.81" cy="376.52" r="1.45" fill="#fad6d6" stroke="#ee7e80" stroke-width="0.75" />
<circle cx="397.76" cy="376.30" r="1.45" fill="#fad6d6" stroke="#ee7e80" stroke-width="0.75" />
<circle cx="398.70" cy="376.07" r="1.45" fill="#fad6d6" stroke="#ee7e80" stroke-width="0.75" />
<circle cx="399.64" cy="375.87" r="1.45" fill="#fad6d6" stroke="#ee7e80" stroke-width="0.75" />
<circle cx="400.59" cy="375.70" r="1.45" fill="#fad6d6" stroke="#ee7e80" stroke-width="0.75" />
<circle cx="401.53" cy="375.55" r="1.45" fill="#fad6d6" stroke="#ee7e80" stroke-width="0.75" />
<circle cx="402.48" cy="375.41" r="1.45" fill="#fad6d6" stroke="#ee7e80" stroke-width="0.75" />
<circle cx="403.43" cy="375.26" r="1.45" fill="#fad6d6" stroke="#ee7e80" stroke-width="0.75" />
<circle cx="404.37" cy="375.12" r="1.45" fill="#fad6d6" stroke="#ee7e80" stroke-width="0.75" />
<circle cx="405.32" cy="374.96" r="1.45" fill="#fad6d6" stroke="#ee7e80" stroke-width="0.75" />
<circle cx="406.26" cy="374.77" r="1.45" fill="#fad6d6" stroke="#ee7e80" stroke-width="0.75" />
<circle cx="407.21" cy="374.56" r="1.45" fill="#fad6d6" stroke="#ee7e80" stroke-width="0.75" />
<circle cx="408.15" cy="374.36" r="1.45" fill="#fad6d6" stroke="#ee7e80" stroke-width="0.75" />
<circle cx="409.10" cy="374.20" r="1.45" fill="#fad6d6" stroke="#ee7e80" stroke-width="0.75" />
<circle cx="410.04" cy="374.11" r="1.45" fill="#fad6d6" stroke="#ee7e80" stroke-width="0.75" />
<circle cx="410.99" cy="374.15" r="1.45" fill="#fad6d6" stroke="#ee7e80" stroke-width="0.75" />
<circle cx="411.93" cy="374.39" r="1.45" fill="#fad6d6" stroke="#ee7e80" stroke-width="0.75" />
<circle cx="412.86" cy="374.78" r="1.45" fill="#fad6d6" stroke="#ee7e80" stroke-width="0.75" />
<circle cx="413.77" cy="375.28" r="1.45" fill="#fad6d6" stroke="#ee7e80" stroke-width="0.75" />
<circle cx="414.68" cy="375.83" r="1.45" fill="#fad6d6" stroke="#ee7e80" stroke-width="0.75" />
<circle cx="415.57" cy="376.50" r="1.45" fill="#fad6d6" stroke="#ee7e80" stroke-width="0.75" />
<circle cx="416.41" cy="377.43" r="1.45" fill="#fad6d6" stroke="#ee7e80" stroke-width="0.75" />
<circle cx="417.22" cy="378.54" r="1.45" fill="#fad6d6" stroke="#ee7e80" stroke-width="0.75" />
<circle cx="417.98" cy="379.98" r="1.45" fill="#fad6d6" stroke="#ee7e80" stroke-width="0.75" />
<circle cx="418.70" cy="381.61" r="1.45" fill="#fad6d6" stroke="#ee7e80" stroke-width="0.75" />
<circle cx="419.43" cy="383.22" r="1.45" fill="#fad6d6" stroke="#ee7e80" stroke-width="0.75" />
<circle cx="420.16" cy="384.83" r="1.45" fill="#fad6d6" stroke="#ee7e80" stroke-width="0.75" />
<circle cx="420.88" cy="386.50" r="1.45" fill="#fad6d6" stroke="#ee7e80" stroke-width="0.75" />
<circle cx="421.58" cy="388.28" r="1.45" fill="#fad6d6" stroke="#ee7e80" stroke-width="0.75" />
<circle cx="422.26" cy="390.23" r="1.45" fill="#fad6d6" stroke="#ee7e80" stroke-width="0.75" />
<circle cx="422.92" cy="392.34" r="1.45" fill="#fad6d6" stroke="#ee7e80" stroke-width="0.75" />
<circle cx="423.57" cy="394.56" r="1.45" fill="#fad6d6" stroke="#ee7e80" stroke-width="0.75" />
<circle cx="424.21" cy="396.84" r="1.45" fill="#fad6d6" stroke="#ee7e80" stroke-width="0.75" />
<circle cx="424.86" cy="399.12" r="1.45" fill="#fad6d6" stroke="#ee7e80" stroke-width="0.75" />
<circle cx="425.50" cy="401.37" r="1.45" fill="#fad6d6" stroke="#ee7e80" stroke-width="0.75" />
<circle cx="426.15" cy="403.57" r="1.45" fill="#fad6d6" stroke="#ee7e80" stroke-width="0.75" />
<circle cx="426.80" cy="405.78" r="1.45" fill="#fad6d6" stroke="#ee7e80" stroke-width="0.75" />
<circle cx="427.45" cy="407.99" r="1.45" fill="#fad6d6" stroke="#ee7e80" stroke-width="0.75" />
<circle cx="428.10" cy="410.20" r="1.45" fill="#fad6d6" stroke="#ee7e80" stroke-width="0.75" />
<circle cx="428.75" cy="412.40" r="1.45" fill="#fad6d6" stroke="#ee7e80" stroke-width="0.75" />
<circle cx="429.41" cy="414.59" r="1.45" fill="#fad6d6" stroke="#ee7e80" stroke-width="0.75" />
<circle cx="430.06" cy="416.78" r="1.45" fill="#fad6d6" stroke="#ee7e80" stroke-width="0.75" />
<circle cx="430.71" cy="418.98" r="1.45" fill="#fad6d6" stroke="#ee7e80" stroke-width="0.75" />
<circle cx="431.36" cy="421.17" r="1.45" fill="#fad6d6" stroke="#ee7e80" stroke-width="0.75" />
<circle cx="432.02" cy="423.35" r="1.45" fill="#fad6d6" stroke="#ee7e80" stroke-width="0.75" />
<circle cx="432.68" cy="425.47" r="1.45" fill="#fad6d6" stroke="#ee7e80" stroke-width="0.75" />
<circle cx="433.34" cy="427.53" r="1.45" fill="#fad6d6" stroke="#ee7e80" stroke-width="0.75" />
<circle cx="434.02" cy="429.52" r="1.45" fill="#fad6d6" stroke="#ee7e80" stroke-width="0.75" />
<circle cx="434.70" cy="431.48" r="1.45" fill="#fad6d6" stroke="#ee7e80" stroke-width="0.75" />
<circle cx="435.38" cy="433.39" r="1.45" fill="#fad6d6" stroke="#ee7e80" stroke-width="0.75" />
<circle cx="436.08" cy="435.25" r="1.45" fill="#fad6d6" stroke="#ee7e80" stroke-width="0.75" />
<circle cx="436.78" cy="437.03" r="1.45" fill="#fad6d6" stroke="#ee7e80" stroke-width="0.75" />
<circle cx="437.50" cy="438.72" r="1.45" fill="#fad6d6" stroke="#ee7e80" stroke-width="0.75" />
<circle cx="438.22" cy="440.34" r="1.45" fill="#fad6d6" stroke="#ee7e80" stroke-width="0.75" />
<circle cx="438.96" cy="441.90" r="1.45" fill="#fad6d6" stroke="#ee7e80" stroke-width="0.75" />
<circle cx="439.71" cy="443.40" r="1.45" fill="#fad6d6" stroke="#ee7e80" stroke-width="0.75" />
<circle cx="440.46" cy="444.83" r="1.45" fill="#fad6d6" stroke="#ee7e80" stroke-width="0.75" />
<circle cx="441.23" cy="446.18" r="1.45" fill="#fad6d6" stroke="#ee7e80" stroke-width="0.75" />
<circle cx="441.99" cy="447.59" r="1.45" fill="#fad6d6" stroke="#ee7e80" stroke-width="0.75" />
<circle cx="442.74" cy="449.04" r="1.45" fill="#fad6d6" stroke="#ee7e80" stroke-width="0.75" />
<circle cx="443.56" cy="450.12" r="1.45" fill="#fad6d6" stroke="#ee7e80" stroke-width="0.75" />
<circle cx="444.47" cy="450.03" r="1.45" fill="#fad6d6" stroke="#ee7e80" stroke-width="0.75" />
<circle cx="445.24" cy="448.62" r="1.45" fill="#fad6d6" stroke="#ee7e80" stroke-width="0.75" />
<circle cx="445.91" cy="446.61" r="1.45" fill="#fad6d6" stroke="#ee7e80" stroke-width="0.75" />
<circle cx="277.90" cy="455.50" r="1.45" fill="#cfdff0" stroke="#3b79b7" stroke-width="0.75" />
<circle cx="278.39" cy="451.07" r="1.45" fill="#cfdff0" stroke="#3b79b7" stroke-width="0.75" />
<circle cx="278.89" cy="446.84" r="1.45" fill="#cfdff0" stroke="#3b79b7" stroke-width="0.75" />
<circle cx="279.40" cy="442.87" r="1.45" fill="#cfdff0" stroke="#3b79b7" stroke-width="0.75" />
<circle cx="279.93" cy="439.21" r="1.45" fill="#cfdff0" stroke="#3b79b7" stroke-width="0.75" />
<circle cx="280.49" cy="435.95" r="1.45" fill="#cfdff0" stroke="#3b79b7" stroke-width="0.75" />
<circle cx="281.07" cy="433.03" r="1.45" fill="#cfdff0" stroke="#3b79b7" stroke-width="0.75" />
<circle cx="281.67" cy="430.34" r="1.45" fill="#cfdff0" stroke="#3b79b7" stroke-width="0.75" />
<circle cx="282.30" cy="427.91" r="1.45" fill="#cfdff0" stroke="#3b79b7" stroke-width="0.75" />
<circle cx="282.96" cy="425.79" r="1.45" fill="#cfdff0" stroke="#3b79b7" stroke-width="0.75" />
<circle cx="283.66" cy="423.97" r="1.45" fill="#cfdff0" stroke="#3b79b7" stroke-width="0.75" />
<circle cx="284.38" cy="422.33" r="1.45" fill="#cfdff0" stroke="#3b79b7" stroke-width="0.75" />
<circle cx="285.13" cy="420.84" r="1.45" fill="#cfdff0" stroke="#3b79b7" stroke-width="0.75" />
<circle cx="285.90" cy="419.47" r="1.45" fill="#cfdff0" stroke="#3b79b7" stroke-width="0.75" />
<circle cx="286.68" cy="418.18" r="1.45" fill="#cfdff0" stroke="#3b79b7" stroke-width="0.75" />
<circle cx="287.46" cy="416.92" r="1.45" fill="#cfdff0" stroke="#3b79b7" stroke-width="0.75" />
<circle cx="288.24" cy="415.63" r="1.45" fill="#cfdff0" stroke="#3b79b7" stroke-width="0.75" />
<circle cx="289.03" cy="414.40" r="1.45" fill="#cfdff0" stroke="#3b79b7" stroke-width="0.75" />
<circle cx="289.84" cy="413.29" r="1.45" fill="#cfdff0" stroke="#3b79b7" stroke-width="0.75" />
<circle cx="290.69" cy="412.42" r="1.45" fill="#cfdff0" stroke="#3b79b7" stroke-width="0.75" />
<circle cx="291.60" cy="411.85" r="1.45" fill="#cfdff0" stroke="#3b79b7" stroke-width="0.75" />
<circle cx="292.52" cy="411.39" r="1.45" fill="#cfdff0" stroke="#3b79b7" stroke-width="0.75" />
<circle cx="293.44" cy="411.00" r="1.45" fill="#cfdff0" stroke="#3b79b7" stroke-width="0.75" />
<circle cx="294.38" cy="410.68" r="1.45" fill="#cfdff0" stroke="#3b79b7" stroke-width="0.75" />
<circle cx="295.32" cy="410.41" r="1.45" fill="#cfdff0" stroke="#3b79b7" stroke-width="0.75" />
<circle cx="296.26" cy="410.19" r="1.45" fill="#cfdff0" stroke="#3b79b7" stroke-width="0.75" />
<circle cx="297.20" cy="410.01" r="1.45" fill="#cfdff0" stroke="#3b79b7" stroke-width="0.75" />
<circle cx="298.15" cy="409.88" r="1.45" fill="#cfdff0" stroke="#3b79b7" stroke-width="0.75" />
<circle cx="299.10" cy="409.75" r="1.45" fill="#cfdff0" stroke="#3b79b7" stroke-width="0.75" />
<circle cx="300.04" cy="409.59" r="1.45" fill="#cfdff0" stroke="#3b79b7" stroke-width="0.75" />
<circle cx="300.99" cy="409.40" r="1.45" fill="#cfdff0" stroke="#3b79b7" stroke-width="0.75" />
<circle cx="301.93" cy="409.19" r="1.45" fill="#cfdff0" stroke="#3b79b7" stroke-width="0.75" />
<circle cx="302.87" cy="408.96" r="1.45" fill="#cfdff0" stroke="#3b79b7" stroke-width="0.75" />
<circle cx="303.81" cy="408.72" r="1.45" fill="#cfdff0" stroke="#3b79b7" stroke-width="0.75" />
<circle cx="304.75" cy="408.46" r="1.45" fill="#cfdff0" stroke="#3b79b7" stroke-width="0.75" />
<circle cx="305.69" cy="408.19" r="1.45" fill="#cfdff0" stroke="#3b79b7" stroke-width="0.75" />
<circle cx="306.63" cy="407.91" r="1.45" fill="#cfdff0" stroke="#3b79b7" stroke-width="0.75" />
<circle cx="307.57" cy="407.63" r="1.45" fill="#cfdff0" stroke="#3b79b7" stroke-width="0.75" />
<circle cx="308.51" cy="407.34" r="1.45" fill="#cfdff0" stroke="#3b79b7" stroke-width="0.75" />
<circle cx="309.44" cy="407.05" r="1.45" fill="#cfdff0" stroke="#3b79b7" stroke-width="0.75" />
<circle cx="310.38" cy="406.76" r="1.45" fill="#cfdff0" stroke="#3b79b7" stroke-width="0.75" />
<circle cx="311.32" cy="406.47" r="1.45" fill="#cfdff0" stroke="#3b79b7" stroke-width="0.75" />
<circle cx="312.25" cy="406.19" r="1.45" fill="#cfdff0" stroke="#3b79b7" stroke-width="0.75" />
<circle cx="313.19" cy="405.92" r="1.45" fill="#cfdff0" stroke="#3b79b7" stroke-width="0.75" />
<circle cx="314.13" cy="405.65" r="1.45" fill="#cfdff0" stroke="#3b79b7" stroke-width="0.75" />
<circle cx="315.07" cy="405.39" r="1.45" fill="#cfdff0" stroke="#3b79b7" stroke-width="0.75" />
<circle cx="316.01" cy="405.15" r="1.45" fill="#cfdff0" stroke="#3b79b7" stroke-width="0.75" />
<circle cx="316.95" cy="404.92" r="1.45" fill="#cfdff0" stroke="#3b79b7" stroke-width="0.75" />
<circle cx="317.90" cy="404.71" r="1.45" fill="#cfdff0" stroke="#3b79b7" stroke-width="0.75" />
<circle cx="318.84" cy="404.51" r="1.45" fill="#cfdff0" stroke="#3b79b7" stroke-width="0.75" />
<circle cx="319.78" cy="404.31" r="1.45" fill="#cfdff0" stroke="#3b79b7" stroke-width="0.75" />
<circle cx="320.73" cy="404.11" r="1.45" fill="#cfdff0" stroke="#3b79b7" stroke-width="0.75" />
<circle cx="321.67" cy="403.91" r="1.45" fill="#cfdff0" stroke="#3b79b7" stroke-width="0.75" />
<circle cx="322.62" cy="403.72" r="1.45" fill="#cfdff0" stroke="#3b79b7" stroke-width="0.75" />
<circle cx="323.56" cy="403.53" r="1.45" fill="#cfdff0" stroke="#3b79b7" stroke-width="0.75" />
<circle cx="324.51" cy="403.34" r="1.45" fill="#cfdff0" stroke="#3b79b7" stroke-width="0.75" />
<circle cx="325.45" cy="403.16" r="1.45" fill="#cfdff0" stroke="#3b79b7" stroke-width="0.75" />
<circle cx="326.40" cy="402.98" r="1.45" fill="#cfdff0" stroke="#3b79b7" stroke-width="0.75" />
<circle cx="327.34" cy="402.81" r="1.45" fill="#cfdff0" stroke="#3b79b7" stroke-width="0.75" />
<circle cx="328.29" cy="402.64" r="1.45" fill="#cfdff0" stroke="#3b79b7" stroke-width="0.75" />
<circle cx="329.23" cy="402.47" r="1.45" fill="#cfdff0" stroke="#3b79b7" stroke-width="0.75" />
<circle cx="330.18" cy="402.32" r="1.45" fill="#cfdff0" stroke="#3b79b7" stroke-width="0.75" />
<circle cx="331.12" cy="402.16" r="1.45" fill="#cfdff0" stroke="#3b79b7" stroke-width="0.75" />
<circle cx="332.07" cy="402.02" r="1.45" fill="#cfdff0" stroke="#3b79b7" stroke-width="0.75" />
<circle cx="333.02" cy="401.87" r="1.45" fill="#cfdff0" stroke="#3b79b7" stroke-width="0.75" />
<circle cx="333.96" cy="401.74" r="1.45" fill="#cfdff0" stroke="#3b79b7" stroke-width="0.75" />
<circle cx="334.91" cy="401.61" r="1.45" fill="#cfdff0" stroke="#3b79b7" stroke-width="0.75" />
<circle cx="335.86" cy="401.49" r="1.45" fill="#cfdff0" stroke="#3b79b7" stroke-width="0.75" />
<circle cx="336.81" cy="401.37" r="1.45" fill="#cfdff0" stroke="#3b79b7" stroke-width="0.75" />
<circle cx="337.76" cy="401.26" r="1.45" fill="#cfdff0" stroke="#3b79b7" stroke-width="0.75" />
<circle cx="338.70" cy="401.14" r="1.45" fill="#cfdff0" stroke="#3b79b7" stroke-width="0.75" />
<circle cx="339.65" cy="401.04" r="1.45" fill="#cfdff0" stroke="#3b79b7" stroke-width="0.75" />
<circle cx="340.60" cy="400.93" r="1.45" fill="#cfdff0" stroke="#3b79b7" stroke-width="0.75" />
<circle cx="341.55" cy="400.83" r="1.45" fill="#cfdff0" stroke="#3b79b7" stroke-width="0.75" />
<circle cx="342.50" cy="400.73" r="1.45" fill="#cfdff0" stroke="#3b79b7" stroke-width="0.75" />
<circle cx="343.45" cy="400.64" r="1.45" fill="#cfdff0" stroke="#3b79b7" stroke-width="0.75" />
<circle cx="344.39" cy="400.54" r="1.45" fill="#cfdff0" stroke="#3b79b7" stroke-width="0.75" />
<circle cx="345.34" cy="400.45" r="1.45" fill="#cfdff0" stroke="#3b79b7" stroke-width="0.75" />
<circle cx="346.29" cy="400.36" r="1.45" fill="#cfdff0" stroke="#3b79b7" stroke-width="0.75" />
<circle cx="347.24" cy="400.27" r="1.45" fill="#cfdff0" stroke="#3b79b7" stroke-width="0.75" />
<circle cx="348.19" cy="400.19" r="1.45" fill="#cfdff0" stroke="#3b79b7" stroke-width="0.75" />
<circle cx="349.14" cy="400.10" r="1.45" fill="#cfdff0" stroke="#3b79b7" stroke-width="0.75" />
<circle cx="350.09" cy="400.02" r="1.45" fill="#cfdff0" stroke="#3b79b7" stroke-width="0.75" />
<circle cx="351.04" cy="399.94" r="1.45" fill="#cfdff0" stroke="#3b79b7" stroke-width="0.75" />
<circle cx="351.98" cy="399.85" r="1.45" fill="#cfdff0" stroke="#3b79b7" stroke-width="0.75" />
<circle cx="352.93" cy="399.77" r="1.45" fill="#cfdff0" stroke="#3b79b7" stroke-width="0.75" />
<circle cx="353.88" cy="399.69" r="1.45" fill="#cfdff0" stroke="#3b79b7" stroke-width="0.75" />
<circle cx="354.83" cy="399.60" r="1.45" fill="#cfdff0" stroke="#3b79b7" stroke-width="0.75" />
<circle cx="355.78" cy="399.51" r="1.45" fill="#cfdff0" stroke="#3b79b7" stroke-width="0.75" />
<circle cx="356.73" cy="399.42" r="1.45" fill="#cfdff0" stroke="#3b79b7" stroke-width="0.75" />
<circle cx="357.68" cy="399.32" r="1.45" fill="#cfdff0" stroke="#3b79b7" stroke-width="0.75" />
<circle cx="358.63" cy="399.23" r="1.45" fill="#cfdff0" stroke="#3b79b7" stroke-width="0.75" />
<circle cx="359.57" cy="399.14" r="1.45" fill="#cfdff0" stroke="#3b79b7" stroke-width="0.75" />
<circle cx="360.52" cy="399.05" r="1.45" fill="#cfdff0" stroke="#3b79b7" stroke-width="0.75" />
<circle cx="361.47" cy="398.97" r="1.45" fill="#cfdff0" stroke="#3b79b7" stroke-width="0.75" />
<circle cx="362.42" cy="398.89" r="1.45" fill="#cfdff0" stroke="#3b79b7" stroke-width="0.75" />
<circle cx="363.37" cy="398.81" r="1.45" fill="#cfdff0" stroke="#3b79b7" stroke-width="0.75" />
<circle cx="364.32" cy="398.74" r="1.45" fill="#cfdff0" stroke="#3b79b7" stroke-width="0.75" />
<circle cx="365.27" cy="398.68" r="1.45" fill="#cfdff0" stroke="#3b79b7" stroke-width="0.75" />
<circle cx="366.22" cy="398.63" r="1.45" fill="#cfdff0" stroke="#3b79b7" stroke-width="0.75" />
<circle cx="367.17" cy="398.58" r="1.45" fill="#cfdff0" stroke="#3b79b7" stroke-width="0.75" />
<circle cx="368.12" cy="398.54" r="1.45" fill="#cfdff0" stroke="#3b79b7" stroke-width="0.75" />
<circle cx="369.07" cy="398.52" r="1.45" fill="#cfdff0" stroke="#3b79b7" stroke-width="0.75" />
<circle cx="370.02" cy="398.50" r="1.45" fill="#cfdff0" stroke="#3b79b7" stroke-width="0.75" />
<circle cx="370.97" cy="398.49" r="1.45" fill="#cfdff0" stroke="#3b79b7" stroke-width="0.75" />
<circle cx="371.92" cy="398.48" r="1.45" fill="#cfdff0" stroke="#3b79b7" stroke-width="0.75" />
<circle cx="372.87" cy="398.48" r="1.45" fill="#cfdff0" stroke="#3b79b7" stroke-width="0.75" />
<circle cx="373.82" cy="398.47" r="1.45" fill="#cfdff0" stroke="#3b79b7" stroke-width="0.75" />
<circle cx="374.77" cy="398.47" r="1.45" fill="#cfdff0" stroke="#3b79b7" stroke-width="0.75" />
<circle cx="375.72" cy="398.46" r="1.45" fill="#cfdff0" stroke="#3b79b7" stroke-width="0.75" />
<circle cx="376.67" cy="398.46" r="1.45" fill="#cfdff0" stroke="#3b79b7" stroke-width="0.75" />
<circle cx="377.62" cy="398.46" r="1.45" fill="#cfdff0" stroke="#3b79b7" stroke-width="0.75" />
<circle cx="378.57" cy="398.45" r="1.45" fill="#cfdff0" stroke="#3b79b7" stroke-width="0.75" />
<circle cx="379.52" cy="398.45" r="1.45" fill="#cfdff0" stroke="#3b79b7" stroke-width="0.75" />
<circle cx="380.47" cy="398.45" r="1.45" fill="#cfdff0" stroke="#3b79b7" stroke-width="0.75" />
<circle cx="381.42" cy="398.44" r="1.45" fill="#cfdff0" stroke="#3b79b7" stroke-width="0.75" />
<circle cx="382.37" cy="398.44" r="1.45" fill="#cfdff0" stroke="#3b79b7" stroke-width="0.75" />
<circle cx="383.32" cy="398.43" r="1.45" fill="#cfdff0" stroke="#3b79b7" stroke-width="0.75" />
<circle cx="384.27" cy="398.43" r="1.45" fill="#cfdff0" stroke="#3b79b7" stroke-width="0.75" />
<circle cx="385.22" cy="398.42" r="1.45" fill="#cfdff0" stroke="#3b79b7" stroke-width="0.75" />
<circle cx="386.17" cy="398.41" r="1.45" fill="#cfdff0" stroke="#3b79b7" stroke-width="0.75" />
<circle cx="387.12" cy="398.41" r="1.45" fill="#cfdff0" stroke="#3b79b7" stroke-width="0.75" />
<circle cx="388.07" cy="398.39" r="1.45" fill="#cfdff0" stroke="#3b79b7" stroke-width="0.75" />
<circle cx="389.02" cy="398.35" r="1.45" fill="#cfdff0" stroke="#3b79b7" stroke-width="0.75" />
<circle cx="389.97" cy="398.28" r="1.45" fill="#cfdff0" stroke="#3b79b7" stroke-width="0.75" />
<circle cx="390.92" cy="398.20" r="1.45" fill="#cfdff0" stroke="#3b79b7" stroke-width="0.75" />
<circle cx="391.86" cy="398.09" r="1.45" fill="#cfdff0" stroke="#3b79b7" stroke-width="0.75" />
<circle cx="392.81" cy="397.98" r="1.45" fill="#cfdff0" stroke="#3b79b7" stroke-width="0.75" />
<circle cx="393.76" cy="397.86" r="1.45" fill="#cfdff0" stroke="#3b79b7" stroke-width="0.75" />
<circle cx="394.71" cy="397.75" r="1.45" fill="#cfdff0" stroke="#3b79b7" stroke-width="0.75" />
<circle cx="395.66" cy="397.63" r="1.45" fill="#cfdff0" stroke="#3b79b7" stroke-width="0.75" />
<circle cx="396.60" cy="397.53" r="1.45" fill="#cfdff0" stroke="#3b79b7" stroke-width="0.75" />
<circle cx="397.55" cy="397.44" r="1.45" fill="#cfdff0" stroke="#3b79b7" stroke-width="0.75" />
<circle cx="398.50" cy="397.37" r="1.45" fill="#cfdff0" stroke="#3b79b7" stroke-width="0.75" />
<circle cx="399.45" cy="397.30" r="1.45" fill="#cfdff0" stroke="#3b79b7" stroke-width="0.75" />
<circle cx="400.40" cy="397.23" r="1.45" fill="#cfdff0" stroke="#3b79b7" stroke-width="0.75" />
<circle cx="401.35" cy="397.16" r="1.45" fill="#cfdff0" stroke="#3b79b7" stroke-width="0.75" />
<circle cx="402.30" cy="397.09" r="1.45" fill="#cfdff0" stroke="#3b79b7" stroke-width="0.75" />
<circle cx="403.25" cy="397.04" r="1.45" fill="#cfdff0" stroke="#3b79b7" stroke-width="0.75" />
<circle cx="404.20" cy="397.01" r="1.45" fill="#cfdff0" stroke="#3b79b7" stroke-width="0.75" />
<circle cx="405.15" cy="397.00" r="1.45" fill="#cfdff0" stroke="#3b79b7" stroke-width="0.75" />
<circle cx="406.10" cy="397.03" r="1.45" fill="#cfdff0" stroke="#3b79b7" stroke-width="0.75" />
<circle cx="407.05" cy="397.10" r="1.45" fill="#cfdff0" stroke="#3b79b7" stroke-width="0.75" />
<circle cx="408.00" cy="397.21" r="1.45" fill="#cfdff0" stroke="#3b79b7" stroke-width="0.75" />
<circle cx="408.94" cy="397.35" r="1.45" fill="#cfdff0" stroke="#3b79b7" stroke-width="0.75" />
<circle cx="409.89" cy="397.51" r="1.45" fill="#cfdff0" stroke="#3b79b7" stroke-width="0.75" />
<circle cx="410.83" cy="397.69" r="1.45" fill="#cfdff0" stroke="#3b79b7" stroke-width="0.75" />
<circle cx="411.77" cy="397.99" r="1.45" fill="#cfdff0" stroke="#3b79b7" stroke-width="0.75" />
<circle cx="412.69" cy="398.41" r="1.45" fill="#cfdff0" stroke="#3b79b7" stroke-width="0.75" />
<circle cx="413.60" cy="398.92" r="1.45" fill="#cfdff0" stroke="#3b79b7" stroke-width="0.75" />
<circle cx="414.50" cy="399.53" r="1.45" fill="#cfdff0" stroke="#3b79b7" stroke-width="0.75" />
<circle cx="415.39" cy="400.22" r="1.45" fill="#cfdff0" stroke="#3b79b7" stroke-width="0.75" />
<circle cx="416.24" cy="401.10" r="1.45" fill="#cfdff0" stroke="#3b79b7" stroke-width="0.75" />
<circle cx="417.03" cy="402.31" r="1.45" fill="#cfdff0" stroke="#3b79b7" stroke-width="0.75" />
<circle cx="417.79" cy="403.73" r="1.45" fill="#cfdff0" stroke="#3b79b7" stroke-width="0.75" />
<circle cx="418.53" cy="405.27" r="1.45" fill="#cfdff0" stroke="#3b79b7" stroke-width="0.75" />
<circle cx="419.26" cy="406.85" r="1.45" fill="#cfdff0" stroke="#3b79b7" stroke-width="0.75" />
<circle cx="419.97" cy="408.57" r="1.45" fill="#cfdff0" stroke="#3b79b7" stroke-width="0.75" />
<circle cx="420.66" cy="410.44" r="1.45" fill="#cfdff0" stroke="#3b79b7" stroke-width="0.75" />
<circle cx="421.34" cy="412.42" r="1.45" fill="#cfdff0" stroke="#3b79b7" stroke-width="0.75" />
<circle cx="422.01" cy="414.45" r="1.45" fill="#cfdff0" stroke="#3b79b7" stroke-width="0.75" />
<circle cx="422.68" cy="416.51" r="1.45" fill="#cfdff0" stroke="#3b79b7" stroke-width="0.75" />
<circle cx="423.35" cy="418.58" r="1.45" fill="#cfdff0" stroke="#3b79b7" stroke-width="0.75" />
<circle cx="424.01" cy="420.71" r="1.45" fill="#cfdff0" stroke="#3b79b7" stroke-width="0.75" />
<circle cx="424.66" cy="422.91" r="1.45" fill="#cfdff0" stroke="#3b79b7" stroke-width="0.75" />
<circle cx="425.31" cy="425.13" r="1.45" fill="#cfdff0" stroke="#3b79b7" stroke-width="0.75" />
<circle cx="425.95" cy="427.37" r="1.45" fill="#cfdff0" stroke="#3b79b7" stroke-width="0.75" />
<circle cx="426.60" cy="429.59" r="1.45" fill="#cfdff0" stroke="#3b79b7" stroke-width="0.75" />
<circle cx="427.25" cy="431.79" r="1.45" fill="#cfdff0" stroke="#3b79b7" stroke-width="0.75" />
<circle cx="427.90" cy="434.03" r="1.45" fill="#cfdff0" stroke="#3b79b7" stroke-width="0.75" />
<circle cx="428.54" cy="436.28" r="1.45" fill="#cfdff0" stroke="#3b79b7" stroke-width="0.75" />
<circle cx="429.19" cy="438.52" r="1.45" fill="#cfdff0" stroke="#3b79b7" stroke-width="0.75" />
<circle cx="429.84" cy="440.71" r="1.45" fill="#cfdff0" stroke="#3b79b7" stroke-width="0.75" />
<circle cx="430.50" cy="442.81" r="1.45" fill="#cfdff0" stroke="#3b79b7" stroke-width="0.75" />
<circle cx="431.18" cy="444.81" r="1.45" fill="#cfdff0" stroke="#3b79b7" stroke-width="0.75" />
<circle cx="431.86" cy="446.75" r="1.45" fill="#cfdff0" stroke="#3b79b7" stroke-width="0.75" />
<circle cx="432.55" cy="448.63" r="1.45" fill="#cfdff0" stroke="#3b79b7" stroke-width="0.75" />
<circle cx="433.25" cy="450.45" r="1.45" fill="#cfdff0" stroke="#3b79b7" stroke-width="0.75" />
<circle cx="433.96" cy="452.21" r="1.45" fill="#cfdff0" stroke="#3b79b7" stroke-width="0.75" />
<circle cx="434.67" cy="453.91" r="1.45" fill="#cfdff0" stroke="#3b79b7" stroke-width="0.75" />
<circle cx="435.40" cy="455.54" r="1.45" fill="#cfdff0" stroke="#3b79b7" stroke-width="0.75" />
<circle cx="436.13" cy="457.11" r="1.45" fill="#cfdff0" stroke="#3b79b7" stroke-width="0.75" />
<circle cx="436.87" cy="458.63" r="1.45" fill="#cfdff0" stroke="#3b79b7" stroke-width="0.75" />
<circle cx="437.62" cy="460.10" r="1.45" fill="#cfdff0" stroke="#3b79b7" stroke-width="0.75" />
<circle cx="438.38" cy="461.52" r="1.45" fill="#cfdff0" stroke="#3b79b7" stroke-width="0.75" />
<circle cx="439.15" cy="462.88" r="1.45" fill="#cfdff0" stroke="#3b79b7" stroke-width="0.75" />
<circle cx="439.93" cy="464.15" r="1.45" fill="#cfdff0" stroke="#3b79b7" stroke-width="0.75" />
<circle cx="440.72" cy="465.37" r="1.45" fill="#cfdff0" stroke="#3b79b7" stroke-width="0.75" />
<circle cx="441.51" cy="466.60" r="1.45" fill="#cfdff0" stroke="#3b79b7" stroke-width="0.75" />
<circle cx="442.29" cy="467.88" r="1.45" fill="#cfdff0" stroke="#3b79b7" stroke-width="0.75" />
<circle cx="443.05" cy="469.33" r="1.45" fill="#cfdff0" stroke="#3b79b7" stroke-width="0.75" />
<circle cx="443.74" cy="471.16" r="1.45" fill="#cfdff0" stroke="#3b79b7" stroke-width="0.75" />
<circle cx="444.45" cy="472.92" r="1.45" fill="#cfdff0" stroke="#3b79b7" stroke-width="0.75" />
<circle cx="445.28" cy="473.90" r="1.45" fill="#cfdff0" stroke="#3b79b7" stroke-width="0.75" />
<circle cx="446.05" cy="472.52" r="1.45" fill="#cfdff0" stroke="#3b79b7" stroke-width="0.75" />
<polyline points="292.30,466.00 313.30,466.00" fill="none" stroke="#3b79b7" stroke-width="1.1" stroke-linejoin="round" stroke-linecap="round" />
<circle cx="302.80" cy="466.00" r="1.35" fill="none" stroke="#3b79b7" stroke-width="0.8" />
<text x="318.60" y="469.20" font-size="9.0" text-anchor="start" font-weight="normal" fill="#1a1a1a" >w/o Sn(SCN)<tspan dy="2.8" font-size="6.2">2</tspan></text>
<polyline points="292.30,480.50 313.30,480.50" fill="none" stroke="#ee7e80" stroke-width="1.1" stroke-linejoin="round" stroke-linecap="round" />
<circle cx="302.80" cy="480.50" r="1.35" fill="none" stroke="#ee7e80" stroke-width="0.8" />
<text x="318.60" y="483.70" font-size="9.0" text-anchor="start" font-weight="normal" fill="#1a1a1a" >with Sn(SCN)<tspan dy="2.8" font-size="6.2">2</tspan></text>
<rect x="277.50" y="372.10" width="169.40" height="130.20" fill="none" stroke="#1a1a1a" stroke-width="1.1"/>
<line x1="277.50" y1="502.30" x2="282.00" y2="502.30" stroke="#1a1a1a" stroke-width="1.0" />
<text x="258.36" y="506.00" font-size="9.4" text-anchor="start" font-weight="normal" fill="#1a1a1a" >10</text>
<text x="269.02" y="501.50" font-size="5.9" text-anchor="start" font-weight="normal" fill="#1a1a1a" >9</text>
<line x1="277.50" y1="493.19" x2="280.10" y2="493.19" stroke="#1a1a1a" stroke-width="1.0" />
<line x1="277.50" y1="487.87" x2="280.10" y2="487.87" stroke="#1a1a1a" stroke-width="1.0" />
<line x1="277.50" y1="484.09" x2="280.10" y2="484.09" stroke="#1a1a1a" stroke-width="1.0" />
<line x1="277.50" y1="481.16" x2="280.10" y2="481.16" stroke="#1a1a1a" stroke-width="1.0" />
<line x1="277.50" y1="478.76" x2="280.10" y2="478.76" stroke="#1a1a1a" stroke-width="1.0" />
<line x1="277.50" y1="476.74" x2="280.10" y2="476.74" stroke="#1a1a1a" stroke-width="1.0" />
<line x1="277.50" y1="474.98" x2="280.10" y2="474.98" stroke="#1a1a1a" stroke-width="1.0" />
<line x1="277.50" y1="473.43" x2="280.10" y2="473.43" stroke="#1a1a1a" stroke-width="1.0" />
<line x1="277.50" y1="472.05" x2="282.00" y2="472.05" stroke="#1a1a1a" stroke-width="1.0" />
<text x="255.08" y="475.75" font-size="9.4" text-anchor="start" font-weight="normal" fill="#1a1a1a" >10</text>
<text x="265.74" y="471.25" font-size="5.9" text-anchor="start" font-weight="normal" fill="#1a1a1a" >10</text>
<line x1="277.50" y1="462.94" x2="280.10" y2="462.94" stroke="#1a1a1a" stroke-width="1.0" />
<line x1="277.50" y1="457.62" x2="280.10" y2="457.62" stroke="#1a1a1a" stroke-width="1.0" />
<line x1="277.50" y1="453.84" x2="280.10" y2="453.84" stroke="#1a1a1a" stroke-width="1.0" />
<line x1="277.50" y1="450.91" x2="280.10" y2="450.91" stroke="#1a1a1a" stroke-width="1.0" />
<line x1="277.50" y1="448.51" x2="280.10" y2="448.51" stroke="#1a1a1a" stroke-width="1.0" />
<line x1="277.50" y1="446.49" x2="280.10" y2="446.49" stroke="#1a1a1a" stroke-width="1.0" />
<line x1="277.50" y1="444.73" x2="280.10" y2="444.73" stroke="#1a1a1a" stroke-width="1.0" />
<line x1="277.50" y1="443.18" x2="280.10" y2="443.18" stroke="#1a1a1a" stroke-width="1.0" />
<line x1="277.50" y1="441.80" x2="282.00" y2="441.80" stroke="#1a1a1a" stroke-width="1.0" />
<text x="255.52" y="445.50" font-size="9.4" text-anchor="start" font-weight="normal" fill="#1a1a1a" >10</text>
<text x="266.18" y="441.00" font-size="5.9" text-anchor="start" font-weight="normal" fill="#1a1a1a" >11</text>
<line x1="277.50" y1="432.69" x2="280.10" y2="432.69" stroke="#1a1a1a" stroke-width="1.0" />
<line x1="277.50" y1="427.37" x2="280.10" y2="427.37" stroke="#1a1a1a" stroke-width="1.0" />
<line x1="277.50" y1="423.59" x2="280.10" y2="423.59" stroke="#1a1a1a" stroke-width="1.0" />
<line x1="277.50" y1="420.66" x2="280.10" y2="420.66" stroke="#1a1a1a" stroke-width="1.0" />
<line x1="277.50" y1="418.26" x2="280.10" y2="418.26" stroke="#1a1a1a" stroke-width="1.0" />
<line x1="277.50" y1="416.24" x2="280.10" y2="416.24" stroke="#1a1a1a" stroke-width="1.0" />
<line x1="277.50" y1="414.48" x2="280.10" y2="414.48" stroke="#1a1a1a" stroke-width="1.0" />
<line x1="277.50" y1="412.93" x2="280.10" y2="412.93" stroke="#1a1a1a" stroke-width="1.0" />
<line x1="277.50" y1="411.55" x2="282.00" y2="411.55" stroke="#1a1a1a" stroke-width="1.0" />
<text x="255.08" y="415.25" font-size="9.4" text-anchor="start" font-weight="normal" fill="#1a1a1a" >10</text>
<text x="265.74" y="410.75" font-size="5.9" text-anchor="start" font-weight="normal" fill="#1a1a1a" >12</text>
<line x1="277.50" y1="402.44" x2="280.10" y2="402.44" stroke="#1a1a1a" stroke-width="1.0" />
<line x1="277.50" y1="397.12" x2="280.10" y2="397.12" stroke="#1a1a1a" stroke-width="1.0" />
<line x1="277.50" y1="393.34" x2="280.10" y2="393.34" stroke="#1a1a1a" stroke-width="1.0" />
<line x1="277.50" y1="390.41" x2="280.10" y2="390.41" stroke="#1a1a1a" stroke-width="1.0" />
<line x1="277.50" y1="388.01" x2="280.10" y2="388.01" stroke="#1a1a1a" stroke-width="1.0" />
<line x1="277.50" y1="385.99" x2="280.10" y2="385.99" stroke="#1a1a1a" stroke-width="1.0" />
<line x1="277.50" y1="384.23" x2="280.10" y2="384.23" stroke="#1a1a1a" stroke-width="1.0" />
<line x1="277.50" y1="382.68" x2="280.10" y2="382.68" stroke="#1a1a1a" stroke-width="1.0" />
<line x1="277.50" y1="381.30" x2="282.00" y2="381.30" stroke="#1a1a1a" stroke-width="1.0" />
<text x="255.08" y="385.00" font-size="9.4" text-anchor="start" font-weight="normal" fill="#1a1a1a" >10</text>
<text x="265.74" y="380.50" font-size="5.9" text-anchor="start" font-weight="normal" fill="#1a1a1a" >13</text>
<line x1="298.62" y1="502.30" x2="298.62" y2="497.80" stroke="#1a1a1a" stroke-width="1.0" />
<text x="298.62" y="517.00" font-size="9.4" text-anchor="middle" font-weight="normal" fill="#1a1a1a" >400</text>
<line x1="341.06" y1="502.30" x2="341.06" y2="497.80" stroke="#1a1a1a" stroke-width="1.0" />
<text x="341.06" y="517.00" font-size="9.4" text-anchor="middle" font-weight="normal" fill="#1a1a1a" >600</text>
<line x1="383.50" y1="502.30" x2="383.50" y2="497.80" stroke="#1a1a1a" stroke-width="1.0" />
<text x="383.50" y="517.00" font-size="9.4" text-anchor="middle" font-weight="normal" fill="#1a1a1a" >800</text>
<line x1="425.94" y1="502.30" x2="425.94" y2="497.80" stroke="#1a1a1a" stroke-width="1.0" />
<text x="425.94" y="517.00" font-size="9.4" text-anchor="middle" font-weight="normal" fill="#1a1a1a" >1000</text>
<line x1="277.40" y1="502.30" x2="277.40" y2="499.70" stroke="#1a1a1a" stroke-width="0.9" />
<line x1="319.84" y1="502.30" x2="319.84" y2="499.70" stroke="#1a1a1a" stroke-width="0.9" />
<line x1="362.28" y1="502.30" x2="362.28" y2="499.70" stroke="#1a1a1a" stroke-width="0.9" />
<line x1="404.72" y1="502.30" x2="404.72" y2="499.70" stroke="#1a1a1a" stroke-width="0.9" />
<text x="362.20" y="530.60" font-size="9.0" text-anchor="middle" font-weight="normal" fill="#1a1a1a" >Wavelength (nm)</text>
<text transform="translate(246.30,437.00) rotate(-90)" x="0" y="0" font-size="9.0" text-anchor="middle" fill="#1a1a1a">D* (Jones)</text>
<text x="469.70" y="374.10" font-size="15.5" text-anchor="start" font-weight="bold" fill="#000" >i</text>
<defs><radialGradient id="sph" cx="0.38" cy="0.35" r="0.7"><stop offset="0" stop-color="#cfe0f0"/><stop offset="0.35" stop-color="#5f97cb"/><stop offset="1" stop-color="#2f69a6"/></radialGradient></defs>
<circle cx="529.10" cy="453.50" r="2.7" fill="url(#sph)"/>
<circle cx="557.40" cy="412.40" r="2.7" fill="url(#sph)"/>
<circle cx="585.70" cy="420.80" r="2.7" fill="url(#sph)"/>
<circle cx="585.70" cy="434.10" r="2.7" fill="url(#sph)"/>
<circle cx="614.00" cy="392.40" r="2.7" fill="url(#sph)"/>
<circle cx="614.00" cy="409.10" r="2.7" fill="url(#sph)"/>
<circle cx="614.00" cy="412.40" r="2.7" fill="url(#sph)"/>
<circle cx="614.00" cy="420.10" r="2.7" fill="url(#sph)"/>
<circle cx="614.00" cy="427.10" r="2.7" fill="url(#sph)"/>
<circle cx="642.30" cy="407.40" r="2.7" fill="url(#sph)"/>
<circle cx="642.30" cy="430.80" r="2.7" fill="url(#sph)"/>
<polygon points="670.60,376.20 672.13,379.80 676.02,380.14 673.07,382.70 673.95,386.51 670.60,384.50 667.25,386.51 668.13,382.70 665.18,380.14 669.07,379.80" fill="#ee7e80"/>
<circle cx="624.00" cy="474.90" r="2.7" fill="url(#sph)"/>
<text x="634.00" y="478.20" font-size="9.0" text-anchor="start" font-weight="normal" fill="#1a1a1a" >Others</text>
<polygon points="624.40,481.30 625.93,484.90 629.82,485.24 626.87,487.80 627.75,491.61 624.40,489.60 621.05,491.61 621.93,487.80 618.98,485.24 622.87,484.90" fill="#ee7e80"/>
<text x="634.00" y="490.70" font-size="9.0" text-anchor="start" font-weight="normal" fill="#1a1a1a" >This work</text>
<rect x="515.20" y="372.20" width="169.30" height="130.20" fill="none" stroke="#1a1a1a" stroke-width="1.1"/>
<line x1="515.20" y1="502.40" x2="519.70" y2="502.40" stroke="#1a1a1a" stroke-width="1.0" />
<text x="492.78" y="506.10" font-size="9.4" text-anchor="start" font-weight="normal" fill="#1a1a1a" >10</text>
<text x="503.44" y="501.60" font-size="5.9" text-anchor="start" font-weight="normal" fill="#1a1a1a" >10</text>
<line x1="515.20" y1="491.08" x2="517.80" y2="491.08" stroke="#1a1a1a" stroke-width="1.0" />
<line x1="515.20" y1="484.46" x2="517.80" y2="484.46" stroke="#1a1a1a" stroke-width="1.0" />
<line x1="515.20" y1="479.76" x2="517.80" y2="479.76" stroke="#1a1a1a" stroke-width="1.0" />
<line x1="515.20" y1="476.12" x2="517.80" y2="476.12" stroke="#1a1a1a" stroke-width="1.0" />
<line x1="515.20" y1="473.14" x2="517.80" y2="473.14" stroke="#1a1a1a" stroke-width="1.0" />
<line x1="515.20" y1="470.62" x2="517.80" y2="470.62" stroke="#1a1a1a" stroke-width="1.0" />
<line x1="515.20" y1="468.44" x2="517.80" y2="468.44" stroke="#1a1a1a" stroke-width="1.0" />
<line x1="515.20" y1="466.52" x2="517.80" y2="466.52" stroke="#1a1a1a" stroke-width="1.0" />
<line x1="515.20" y1="464.80" x2="519.70" y2="464.80" stroke="#1a1a1a" stroke-width="1.0" />
<text x="493.22" y="468.50" font-size="9.4" text-anchor="start" font-weight="normal" fill="#1a1a1a" >10</text>
<text x="503.88" y="464.00" font-size="5.9" text-anchor="start" font-weight="normal" fill="#1a1a1a" >11</text>
<line x1="515.20" y1="453.48" x2="517.80" y2="453.48" stroke="#1a1a1a" stroke-width="1.0" />
<line x1="515.20" y1="446.86" x2="517.80" y2="446.86" stroke="#1a1a1a" stroke-width="1.0" />
<line x1="515.20" y1="442.16" x2="517.80" y2="442.16" stroke="#1a1a1a" stroke-width="1.0" />
<line x1="515.20" y1="438.52" x2="517.80" y2="438.52" stroke="#1a1a1a" stroke-width="1.0" />
<line x1="515.20" y1="435.54" x2="517.80" y2="435.54" stroke="#1a1a1a" stroke-width="1.0" />
<line x1="515.20" y1="433.02" x2="517.80" y2="433.02" stroke="#1a1a1a" stroke-width="1.0" />
<line x1="515.20" y1="430.84" x2="517.80" y2="430.84" stroke="#1a1a1a" stroke-width="1.0" />
<line x1="515.20" y1="428.92" x2="517.80" y2="428.92" stroke="#1a1a1a" stroke-width="1.0" />
<line x1="515.20" y1="427.20" x2="519.70" y2="427.20" stroke="#1a1a1a" stroke-width="1.0" />
<text x="492.78" y="430.90" font-size="9.4" text-anchor="start" font-weight="normal" fill="#1a1a1a" >10</text>
<text x="503.44" y="426.40" font-size="5.9" text-anchor="start" font-weight="normal" fill="#1a1a1a" >12</text>
<line x1="515.20" y1="415.88" x2="517.80" y2="415.88" stroke="#1a1a1a" stroke-width="1.0" />
<line x1="515.20" y1="409.26" x2="517.80" y2="409.26" stroke="#1a1a1a" stroke-width="1.0" />
<line x1="515.20" y1="404.56" x2="517.80" y2="404.56" stroke="#1a1a1a" stroke-width="1.0" />
<line x1="515.20" y1="400.92" x2="517.80" y2="400.92" stroke="#1a1a1a" stroke-width="1.0" />
<line x1="515.20" y1="397.94" x2="517.80" y2="397.94" stroke="#1a1a1a" stroke-width="1.0" />
<line x1="515.20" y1="395.42" x2="517.80" y2="395.42" stroke="#1a1a1a" stroke-width="1.0" />
<line x1="515.20" y1="393.24" x2="517.80" y2="393.24" stroke="#1a1a1a" stroke-width="1.0" />
<line x1="515.20" y1="391.32" x2="517.80" y2="391.32" stroke="#1a1a1a" stroke-width="1.0" />
<line x1="515.20" y1="389.60" x2="519.70" y2="389.60" stroke="#1a1a1a" stroke-width="1.0" />
<text x="492.78" y="393.30" font-size="9.4" text-anchor="start" font-weight="normal" fill="#1a1a1a" >10</text>
<text x="503.44" y="388.80" font-size="5.9" text-anchor="start" font-weight="normal" fill="#1a1a1a" >13</text>
<line x1="515.20" y1="378.28" x2="517.80" y2="378.28" stroke="#1a1a1a" stroke-width="1.0" />
<line x1="529.10" y1="502.40" x2="529.10" y2="497.90" stroke="#1a1a1a" stroke-width="1.0" />
<text x="529.10" y="516.80" font-size="9.4" text-anchor="middle" font-weight="normal" fill="#1a1a1a" >2020</text>
<line x1="557.40" y1="502.40" x2="557.40" y2="497.90" stroke="#1a1a1a" stroke-width="1.0" />
<text x="557.40" y="516.80" font-size="9.4" text-anchor="middle" font-weight="normal" fill="#1a1a1a" >2021</text>
<line x1="585.70" y1="502.40" x2="585.70" y2="497.90" stroke="#1a1a1a" stroke-width="1.0" />
<text x="585.70" y="516.80" font-size="9.4" text-anchor="middle" font-weight="normal" fill="#1a1a1a" >2022</text>
<line x1="614.00" y1="502.40" x2="614.00" y2="497.90" stroke="#1a1a1a" stroke-width="1.0" />
<text x="614.00" y="516.80" font-size="9.4" text-anchor="middle" font-weight="normal" fill="#1a1a1a" >2023</text>
<line x1="642.30" y1="502.40" x2="642.30" y2="497.90" stroke="#1a1a1a" stroke-width="1.0" />
<text x="642.30" y="516.80" font-size="9.4" text-anchor="middle" font-weight="normal" fill="#1a1a1a" >2024</text>
<line x1="670.60" y1="502.40" x2="670.60" y2="497.90" stroke="#1a1a1a" stroke-width="1.0" />
<text x="670.60" y="516.80" font-size="9.4" text-anchor="middle" font-weight="normal" fill="#1a1a1a" >2025</text>
<line x1="543.25" y1="502.40" x2="543.25" y2="499.80" stroke="#1a1a1a" stroke-width="0.9" />
<line x1="571.55" y1="502.40" x2="571.55" y2="499.80" stroke="#1a1a1a" stroke-width="0.9" />
<line x1="599.85" y1="502.40" x2="599.85" y2="499.80" stroke="#1a1a1a" stroke-width="0.9" />
<line x1="628.15" y1="502.40" x2="628.15" y2="499.80" stroke="#1a1a1a" stroke-width="0.9" />
<line x1="656.45" y1="502.40" x2="656.45" y2="499.80" stroke="#1a1a1a" stroke-width="0.9" />
<text x="600.00" y="530.70" font-size="9.0" text-anchor="middle" font-weight="normal" fill="#1a1a1a" >Year</text>
<text transform="translate(485.00,447.80) rotate(-90)" x="0" y="0" font-size="9.0" text-anchor="middle" fill="#1a1a1a">D* (Jones)</text></svg></body></html>
